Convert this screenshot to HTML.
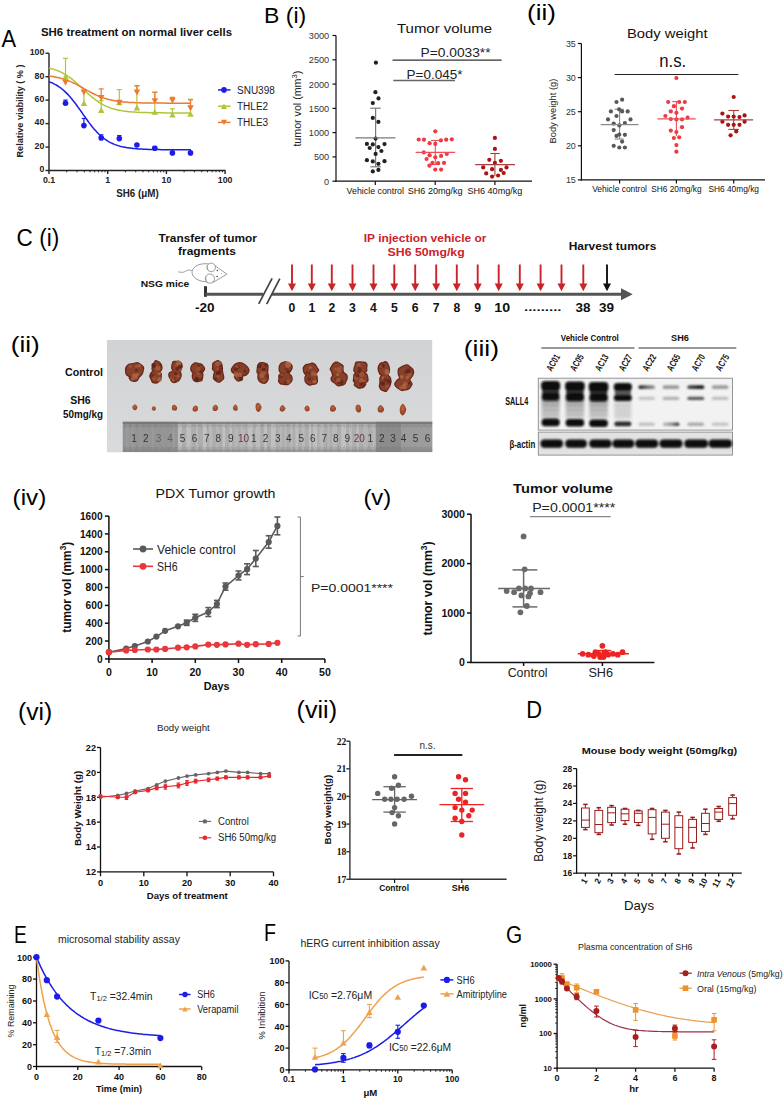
<!DOCTYPE html>
<html><head><meta charset="utf-8"><title>SH6 figure</title>
<style>html,body{margin:0;padding:0;background:#fff;}body{width:784px;height:1099px;overflow:hidden;font-family:"Liberation Sans",sans-serif;}svg{display:block;}</style>
</head><body>
<svg width="784" height="1099" viewBox="0 0 784 1099"><defs><linearGradient id="pbg" x1="0" y1="0" x2="0" y2="1"><stop offset="0" stop-color="#d2d3d5"/><stop offset="1" stop-color="#d9dadc"/></linearGradient><radialGradient id="tum" cx="0.5" cy="0.45" r="0.6"><stop offset="0" stop-color="#a85a38"/><stop offset="0.55" stop-color="#8e3e24"/><stop offset="0.85" stop-color="#70261a"/><stop offset="1" stop-color="#5e1f16"/></radialGradient><radialGradient id="tums" cx="0.45" cy="0.4" r="0.6"><stop offset="0" stop-color="#b8683e"/><stop offset="1" stop-color="#8e3a22"/></radialGradient><radialGradient id="hl" cx="0.5" cy="0.5" r="0.5"><stop offset="0" stop-color="#c8824f" stop-opacity="0.85"/><stop offset="1" stop-color="#c8824f" stop-opacity="0"/></radialGradient><filter id="soft" x="-20%" y="-20%" width="140%" height="140%"><feGaussianBlur stdDeviation="0.6"/></filter><filter id="rsoft" x="-5%" y="-5%" width="110%" height="110%"><feGaussianBlur stdDeviation="0.7"/></filter><filter id="bl" x="-30%" y="-80%" width="160%" height="260%"><feGaussianBlur stdDeviation="0.9"/></filter><filter id="bl2" x="-30%" y="-30%" width="160%" height="160%"><feGaussianBlur stdDeviation="1.6"/></filter><linearGradient id="bg1" x1="0" x2="1"><stop offset="0" stop-color="#1a1a1a"/><stop offset="0.5" stop-color="#6a6a6a"/><stop offset="1" stop-color="#9a9a9a"/></linearGradient><linearGradient id="bg2" x1="0" x2="1"><stop offset="0" stop-color="#c0c0c0"/><stop offset="0.6" stop-color="#8a8a8a"/><stop offset="1" stop-color="#1e1e1e"/></linearGradient><linearGradient id="bg3" x1="0" x2="1"><stop offset="0" stop-color="#555"/><stop offset="0.4" stop-color="#333"/><stop offset="1" stop-color="#111"/></linearGradient><linearGradient id="smear" x1="0" y1="0" x2="0" y2="1"><stop offset="0" stop-color="#8a8a8a"/><stop offset="0.3" stop-color="#bababa"/><stop offset="1" stop-color="#cfcfcf"/></linearGradient></defs><text x="1.4" y="46.9" font-size="23.7" fill="#000" font-family='"Liberation Sans", sans-serif' textLength="14.6" lengthAdjust="spacingAndGlyphs">A</text>
<text x="41.0" y="36.4" font-size="11.2" fill="#111" font-family='"Liberation Sans", sans-serif' font-weight="bold" textLength="191.0" lengthAdjust="spacingAndGlyphs">SH6 treatment on normal liver cells</text>
<line x1="49.0" y1="53.2" x2="49.0" y2="171.0" stroke="#222" stroke-width="1.4"/>
<line x1="48.3" y1="170.5" x2="225.5" y2="170.5" stroke="#222" stroke-width="1.4"/>
<line x1="45.5" y1="170.5" x2="49.0" y2="170.5" stroke="#222" stroke-width="1.4"/>
<text x="44.4" y="172.3" font-size="8.8" fill="#222" font-family='"Liberation Sans", sans-serif' font-weight="bold" text-anchor="end">0</text>
<line x1="45.5" y1="147.1" x2="49.0" y2="147.1" stroke="#222" stroke-width="1.4"/>
<text x="44.4" y="148.9" font-size="8.8" fill="#222" font-family='"Liberation Sans", sans-serif' font-weight="bold" text-anchor="end">20</text>
<line x1="45.5" y1="123.6" x2="49.0" y2="123.6" stroke="#222" stroke-width="1.4"/>
<text x="44.4" y="125.4" font-size="8.8" fill="#222" font-family='"Liberation Sans", sans-serif' font-weight="bold" text-anchor="end">40</text>
<line x1="45.5" y1="100.1" x2="49.0" y2="100.1" stroke="#222" stroke-width="1.4"/>
<text x="44.4" y="101.9" font-size="8.8" fill="#222" font-family='"Liberation Sans", sans-serif' font-weight="bold" text-anchor="end">60</text>
<line x1="45.5" y1="76.7" x2="49.0" y2="76.7" stroke="#222" stroke-width="1.4"/>
<text x="44.4" y="78.5" font-size="8.8" fill="#222" font-family='"Liberation Sans", sans-serif' font-weight="bold" text-anchor="end">80</text>
<line x1="45.5" y1="53.2" x2="49.0" y2="53.2" stroke="#222" stroke-width="1.4"/>
<text x="44.4" y="55.0" font-size="8.8" fill="#222" font-family='"Liberation Sans", sans-serif' font-weight="bold" text-anchor="end">100</text>
<line x1="49.0" y1="170.5" x2="49.0" y2="174.0" stroke="#222" stroke-width="1.4"/>
<text x="49.0" y="182.6" font-size="8.8" fill="#222" font-family='"Liberation Sans", sans-serif' font-weight="bold" text-anchor="middle">0.1</text>
<line x1="107.7" y1="170.5" x2="107.7" y2="174.0" stroke="#222" stroke-width="1.4"/>
<text x="107.7" y="182.6" font-size="8.8" fill="#222" font-family='"Liberation Sans", sans-serif' font-weight="bold" text-anchor="middle">1</text>
<line x1="166.4" y1="170.5" x2="166.4" y2="174.0" stroke="#222" stroke-width="1.4"/>
<text x="166.4" y="182.6" font-size="8.8" fill="#222" font-family='"Liberation Sans", sans-serif' font-weight="bold" text-anchor="middle">10</text>
<line x1="225.1" y1="170.5" x2="225.1" y2="174.0" stroke="#222" stroke-width="1.4"/>
<text x="225.1" y="182.6" font-size="8.8" fill="#222" font-family='"Liberation Sans", sans-serif' font-weight="bold" text-anchor="middle">100</text>
<line x1="66.7" y1="170.5" x2="66.7" y2="172.3" stroke="#222" stroke-width="1"/>
<line x1="77.0" y1="170.5" x2="77.0" y2="172.3" stroke="#222" stroke-width="1"/>
<line x1="84.3" y1="170.5" x2="84.3" y2="172.3" stroke="#222" stroke-width="1"/>
<line x1="90.0" y1="170.5" x2="90.0" y2="172.3" stroke="#222" stroke-width="1"/>
<line x1="94.7" y1="170.5" x2="94.7" y2="172.3" stroke="#222" stroke-width="1"/>
<line x1="98.6" y1="170.5" x2="98.6" y2="172.3" stroke="#222" stroke-width="1"/>
<line x1="102.0" y1="170.5" x2="102.0" y2="172.3" stroke="#222" stroke-width="1"/>
<line x1="105.0" y1="170.5" x2="105.0" y2="172.3" stroke="#222" stroke-width="1"/>
<line x1="125.4" y1="170.5" x2="125.4" y2="172.3" stroke="#222" stroke-width="1"/>
<line x1="135.7" y1="170.5" x2="135.7" y2="172.3" stroke="#222" stroke-width="1"/>
<line x1="143.0" y1="170.5" x2="143.0" y2="172.3" stroke="#222" stroke-width="1"/>
<line x1="148.7" y1="170.5" x2="148.7" y2="172.3" stroke="#222" stroke-width="1"/>
<line x1="153.4" y1="170.5" x2="153.4" y2="172.3" stroke="#222" stroke-width="1"/>
<line x1="157.3" y1="170.5" x2="157.3" y2="172.3" stroke="#222" stroke-width="1"/>
<line x1="160.7" y1="170.5" x2="160.7" y2="172.3" stroke="#222" stroke-width="1"/>
<line x1="163.7" y1="170.5" x2="163.7" y2="172.3" stroke="#222" stroke-width="1"/>
<line x1="184.1" y1="170.5" x2="184.1" y2="172.3" stroke="#222" stroke-width="1"/>
<line x1="194.4" y1="170.5" x2="194.4" y2="172.3" stroke="#222" stroke-width="1"/>
<line x1="201.7" y1="170.5" x2="201.7" y2="172.3" stroke="#222" stroke-width="1"/>
<line x1="207.4" y1="170.5" x2="207.4" y2="172.3" stroke="#222" stroke-width="1"/>
<line x1="212.1" y1="170.5" x2="212.1" y2="172.3" stroke="#222" stroke-width="1"/>
<line x1="216.0" y1="170.5" x2="216.0" y2="172.3" stroke="#222" stroke-width="1"/>
<line x1="219.4" y1="170.5" x2="219.4" y2="172.3" stroke="#222" stroke-width="1"/>
<line x1="222.4" y1="170.5" x2="222.4" y2="172.3" stroke="#222" stroke-width="1"/>
<text x="137.5" y="197.4" font-size="10.2" fill="#222" font-family='"Liberation Sans", sans-serif' font-weight="bold" text-anchor="middle" textLength="42.5" lengthAdjust="spacingAndGlyphs">SH6 (μM)</text>
<text x="23.4" y="111.0" font-size="9.8" fill="#222" font-family='"Liberation Sans", sans-serif' font-weight="bold" text-anchor="middle" textLength="93.0" lengthAdjust="spacingAndGlyphs" transform="rotate(-90 23.4 111.0)">Relative viability ( % )</text>
<path d="M49.0,68.1 L50.0,68.3 L51.0,68.6 L52.0,68.8 L53.0,69.1 L54.0,69.4 L55.0,69.8 L56.0,70.1 L57.0,70.5 L58.0,70.9 L59.0,71.3 L60.0,71.7 L61.0,72.2 L62.0,72.7 L63.0,73.2 L64.0,73.8 L65.0,74.3 L66.0,75.0 L67.0,75.6 L68.0,76.3 L69.0,76.9 L70.0,77.7 L71.0,78.4 L72.0,79.2 L73.0,80.0 L74.0,80.8 L75.0,81.6 L76.0,82.5 L77.0,83.4 L78.0,84.3 L79.0,85.2 L80.0,86.1 L81.0,87.0 L82.0,88.0 L83.0,88.9 L84.0,89.9 L85.0,90.8 L86.0,91.7 L87.0,92.7 L88.0,93.6 L89.0,94.5 L90.0,95.3 L91.0,96.2 L92.0,97.1 L93.0,97.9 L94.0,98.7 L95.0,99.4 L96.0,100.2 L97.0,100.9 L98.0,101.6 L99.0,102.3 L100.0,102.9 L101.0,103.5 L102.0,104.1 L103.0,104.6 L104.0,105.2 L105.0,105.7 L106.0,106.1 L107.0,106.6 L108.0,107.0 L109.0,107.4 L110.0,107.8 L111.0,108.1 L112.0,108.5 L113.0,108.8 L114.0,109.0 L115.0,109.3 L116.0,109.6 L117.0,109.8 L118.0,110.0 L119.0,110.2 L120.0,110.4 L121.0,110.6 L122.0,110.8 L123.0,110.9 L124.0,111.1 L125.0,111.2 L126.0,111.3 L127.0,111.5 L128.0,111.6 L129.0,111.7 L130.0,111.8 L131.0,111.8 L132.0,111.9 L133.0,112.0 L134.0,112.1 L135.0,112.1 L136.0,112.2 L137.0,112.2 L138.0,112.3 L139.0,112.3 L140.0,112.4 L141.0,112.4 L142.0,112.5 L143.0,112.5 L144.0,112.5 L145.0,112.6 L146.0,112.6 L147.0,112.6 L148.0,112.6 L149.0,112.7 L150.0,112.7 L151.0,112.7 L152.0,112.7 L153.0,112.7 L154.0,112.7 L155.0,112.8 L156.0,112.8 L157.0,112.8 L158.0,112.8 L159.0,112.8 L160.0,112.8 L161.0,112.8 L162.0,112.8 L163.0,112.8 L164.0,112.8 L165.0,112.9 L166.0,112.9 L167.0,112.9 L168.0,112.9 L169.0,112.9 L170.0,112.9 L171.0,112.9 L172.0,112.9 L173.0,112.9 L174.0,112.9 L175.0,112.9 L176.0,112.9 L177.0,112.9 L178.0,112.9 L179.0,112.9 L180.0,112.9 L181.0,112.9 L182.0,112.9 L183.0,112.9 L184.0,112.9 L185.0,112.9 L186.0,112.9 L187.0,112.9 L188.0,112.9 L189.0,112.9 L190.0,112.9 L191.0,112.9" stroke="#b2c53a" stroke-width="1.5" fill="none" stroke-linejoin="round"/>
<path d="M49.0,76.1 L50.0,76.2 L51.0,76.3 L52.0,76.5 L53.0,76.6 L54.0,76.8 L55.0,77.0 L56.0,77.2 L57.0,77.4 L58.0,77.6 L59.0,77.8 L60.0,78.1 L61.0,78.3 L62.0,78.6 L63.0,78.9 L64.0,79.2 L65.0,79.5 L66.0,79.9 L67.0,80.2 L68.0,80.6 L69.0,81.0 L70.0,81.4 L71.0,81.9 L72.0,82.3 L73.0,82.8 L74.0,83.2 L75.0,83.7 L76.0,84.2 L77.0,84.7 L78.0,85.3 L79.0,85.8 L80.0,86.3 L81.0,86.9 L82.0,87.5 L83.0,88.0 L84.0,88.6 L85.0,89.1 L86.0,89.7 L87.0,90.3 L88.0,90.8 L89.0,91.4 L90.0,91.9 L91.0,92.5 L92.0,93.0 L93.0,93.5 L94.0,94.0 L95.0,94.5 L96.0,94.9 L97.0,95.4 L98.0,95.8 L99.0,96.3 L100.0,96.7 L101.0,97.1 L102.0,97.4 L103.0,97.8 L104.0,98.1 L105.0,98.4 L106.0,98.7 L107.0,99.0 L108.0,99.3 L109.0,99.6 L110.0,99.8 L111.0,100.0 L112.0,100.2 L113.0,100.4 L114.0,100.6 L115.0,100.8 L116.0,101.0 L117.0,101.1 L118.0,101.3 L119.0,101.4 L120.0,101.5 L121.0,101.7 L122.0,101.8 L123.0,101.9 L124.0,102.0 L125.0,102.1 L126.0,102.1 L127.0,102.2 L128.0,102.3 L129.0,102.4 L130.0,102.4 L131.0,102.5 L132.0,102.5 L133.0,102.6 L134.0,102.6 L135.0,102.7 L136.0,102.7 L137.0,102.7 L138.0,102.8 L139.0,102.8 L140.0,102.8 L141.0,102.9 L142.0,102.9 L143.0,102.9 L144.0,102.9 L145.0,103.0 L146.0,103.0 L147.0,103.0 L148.0,103.0 L149.0,103.0 L150.0,103.0 L151.0,103.0 L152.0,103.1 L153.0,103.1 L154.0,103.1 L155.0,103.1 L156.0,103.1 L157.0,103.1 L158.0,103.1 L159.0,103.1 L160.0,103.1 L161.0,103.1 L162.0,103.1 L163.0,103.1 L164.0,103.1 L165.0,103.1 L166.0,103.2 L167.0,103.2 L168.0,103.2 L169.0,103.2 L170.0,103.2 L171.0,103.2 L172.0,103.2 L173.0,103.2 L174.0,103.2 L175.0,103.2 L176.0,103.2 L177.0,103.2 L178.0,103.2 L179.0,103.2 L180.0,103.2 L181.0,103.2 L182.0,103.2 L183.0,103.2 L184.0,103.2 L185.0,103.2 L186.0,103.2 L187.0,103.2 L188.0,103.2 L189.0,103.2 L190.0,103.2 L191.0,103.2" stroke="#ec7a30" stroke-width="1.5" fill="none" stroke-linejoin="round"/>
<path d="M49.0,81.7 L50.0,82.1 L51.0,82.5 L52.0,82.9 L53.0,83.3 L54.0,83.8 L55.0,84.4 L56.0,84.9 L57.0,85.5 L58.0,86.1 L59.0,86.8 L60.0,87.5 L61.0,88.2 L62.0,89.0 L63.0,89.8 L64.0,90.7 L65.0,91.6 L66.0,92.6 L67.0,93.6 L68.0,94.6 L69.0,95.7 L70.0,96.8 L71.0,98.0 L72.0,99.2 L73.0,100.4 L74.0,101.7 L75.0,103.0 L76.0,104.3 L77.0,105.7 L78.0,107.1 L79.0,108.5 L80.0,109.9 L81.0,111.3 L82.0,112.7 L83.0,114.2 L84.0,115.6 L85.0,117.0 L86.0,118.4 L87.0,119.8 L88.0,121.2 L89.0,122.6 L90.0,123.9 L91.0,125.2 L92.0,126.5 L93.0,127.7 L94.0,128.9 L95.0,130.0 L96.0,131.1 L97.0,132.2 L98.0,133.2 L99.0,134.2 L100.0,135.2 L101.0,136.1 L102.0,136.9 L103.0,137.7 L104.0,138.5 L105.0,139.2 L106.0,139.9 L107.0,140.6 L108.0,141.2 L109.0,141.8 L110.0,142.3 L111.0,142.8 L112.0,143.3 L113.0,143.7 L114.0,144.2 L115.0,144.6 L116.0,144.9 L117.0,145.3 L118.0,145.6 L119.0,145.9 L120.0,146.2 L121.0,146.4 L122.0,146.7 L123.0,146.9 L124.0,147.1 L125.0,147.3 L126.0,147.5 L127.0,147.7 L128.0,147.8 L129.0,148.0 L130.0,148.1 L131.0,148.2 L132.0,148.3 L133.0,148.5 L134.0,148.6 L135.0,148.6 L136.0,148.7 L137.0,148.8 L138.0,148.9 L139.0,149.0 L140.0,149.0 L141.0,149.1 L142.0,149.1 L143.0,149.2 L144.0,149.2 L145.0,149.3 L146.0,149.3 L147.0,149.3 L148.0,149.4 L149.0,149.4 L150.0,149.4 L151.0,149.5 L152.0,149.5 L153.0,149.5 L154.0,149.5 L155.0,149.6 L156.0,149.6 L157.0,149.6 L158.0,149.6 L159.0,149.6 L160.0,149.6 L161.0,149.7 L162.0,149.7 L163.0,149.7 L164.0,149.7 L165.0,149.7 L166.0,149.7 L167.0,149.7 L168.0,149.7 L169.0,149.7 L170.0,149.7 L171.0,149.7 L172.0,149.7 L173.0,149.7 L174.0,149.8 L175.0,149.8 L176.0,149.8 L177.0,149.8 L178.0,149.8 L179.0,149.8 L180.0,149.8 L181.0,149.8 L182.0,149.8 L183.0,149.8 L184.0,149.8 L185.0,149.8 L186.0,149.8 L187.0,149.8 L188.0,149.8 L189.0,149.8 L190.0,149.8 L191.0,149.8" stroke="#1c1ce8" stroke-width="1.5" fill="none" stroke-linejoin="round"/>
<line x1="65.5" y1="58.3" x2="65.5" y2="76.6" stroke="#b2c53a" stroke-width="1.2"/>
<line x1="63.0" y1="58.3" x2="68.0" y2="58.3" stroke="#b2c53a" stroke-width="1.2"/>
<path d="M62.2,79.6 L68.8,79.6 L65.5,73.7 Z" stroke="none" stroke-width="1" fill="#b2c53a"/>
<line x1="83.9" y1="90.9" x2="83.9" y2="103.2" stroke="#b2c53a" stroke-width="1.2"/>
<line x1="81.4" y1="90.9" x2="86.4" y2="90.9" stroke="#b2c53a" stroke-width="1.2"/>
<path d="M80.7,106.1 L87.2,106.1 L83.9,100.2 Z" stroke="none" stroke-width="1" fill="#b2c53a"/>
<line x1="101.2" y1="100.6" x2="101.2" y2="110.1" stroke="#b2c53a" stroke-width="1.2"/>
<line x1="98.7" y1="100.6" x2="103.7" y2="100.6" stroke="#b2c53a" stroke-width="1.2"/>
<path d="M98.0,113.0 L104.5,113.0 L101.2,107.1 Z" stroke="none" stroke-width="1" fill="#b2c53a"/>
<line x1="119.3" y1="89.6" x2="119.3" y2="102.4" stroke="#b2c53a" stroke-width="1.2"/>
<line x1="116.8" y1="89.6" x2="121.8" y2="89.6" stroke="#b2c53a" stroke-width="1.2"/>
<path d="M116.0,105.3 L122.5,105.3 L119.3,99.5 Z" stroke="none" stroke-width="1" fill="#b2c53a"/>
<line x1="136.9" y1="85.8" x2="136.9" y2="107.5" stroke="#b2c53a" stroke-width="1.2"/>
<line x1="134.4" y1="85.8" x2="139.4" y2="85.8" stroke="#b2c53a" stroke-width="1.2"/>
<path d="M133.7,110.4 L140.2,110.4 L136.9,104.6 Z" stroke="none" stroke-width="1" fill="#b2c53a"/>
<line x1="154.8" y1="92.2" x2="154.8" y2="111.8" stroke="#b2c53a" stroke-width="1.2"/>
<line x1="152.3" y1="92.2" x2="157.3" y2="92.2" stroke="#b2c53a" stroke-width="1.2"/>
<path d="M151.6,114.8 L158.1,114.8 L154.8,108.9 Z" stroke="none" stroke-width="1" fill="#b2c53a"/>
<line x1="172.4" y1="108.8" x2="172.4" y2="114.6" stroke="#b2c53a" stroke-width="1.2"/>
<line x1="169.9" y1="108.8" x2="174.9" y2="108.8" stroke="#b2c53a" stroke-width="1.2"/>
<path d="M169.2,117.6 L175.7,117.6 L172.4,111.7 Z" stroke="none" stroke-width="1" fill="#b2c53a"/>
<line x1="190.5" y1="99.3" x2="190.5" y2="113.9" stroke="#b2c53a" stroke-width="1.2"/>
<line x1="188.0" y1="99.3" x2="193.0" y2="99.3" stroke="#b2c53a" stroke-width="1.2"/>
<path d="M187.2,116.8 L193.8,116.8 L190.5,111.0 Z" stroke="none" stroke-width="1" fill="#b2c53a"/>
<path d="M62.2,79.8 L68.8,79.8 L65.5,85.7 Z" stroke="none" stroke-width="1" fill="#ec7a30"/>
<path d="M80.7,89.5 L87.2,89.5 L83.9,95.4 Z" stroke="none" stroke-width="1" fill="#ec7a30"/>
<line x1="101.2" y1="88.9" x2="101.2" y2="98.1" stroke="#ec7a30" stroke-width="1.2"/>
<line x1="98.7" y1="88.9" x2="103.7" y2="88.9" stroke="#ec7a30" stroke-width="1.2"/>
<path d="M98.0,95.1 L104.5,95.1 L101.2,101.0 Z" stroke="none" stroke-width="1" fill="#ec7a30"/>
<path d="M116.0,99.7 L122.5,99.7 L119.3,105.6 Z" stroke="none" stroke-width="1" fill="#ec7a30"/>
<line x1="136.9" y1="85.8" x2="136.9" y2="92.4" stroke="#ec7a30" stroke-width="1.2"/>
<line x1="134.4" y1="85.8" x2="139.4" y2="85.8" stroke="#ec7a30" stroke-width="1.2"/>
<path d="M133.7,89.5 L140.2,89.5 L136.9,95.4 Z" stroke="none" stroke-width="1" fill="#ec7a30"/>
<line x1="154.8" y1="92.2" x2="154.8" y2="101.1" stroke="#ec7a30" stroke-width="1.2"/>
<line x1="152.3" y1="92.2" x2="157.3" y2="92.2" stroke="#ec7a30" stroke-width="1.2"/>
<path d="M151.6,98.2 L158.1,98.2 L154.8,104.0 Z" stroke="none" stroke-width="1" fill="#ec7a30"/>
<line x1="172.4" y1="97.3" x2="172.4" y2="100.6" stroke="#ec7a30" stroke-width="1.2"/>
<line x1="169.9" y1="97.3" x2="174.9" y2="97.3" stroke="#ec7a30" stroke-width="1.2"/>
<path d="M169.2,97.7 L175.7,97.7 L172.4,103.5 Z" stroke="none" stroke-width="1" fill="#ec7a30"/>
<line x1="190.5" y1="99.8" x2="190.5" y2="108.3" stroke="#ec7a30" stroke-width="1.2"/>
<line x1="188.0" y1="99.8" x2="193.0" y2="99.8" stroke="#ec7a30" stroke-width="1.2"/>
<path d="M187.2,105.3 L193.8,105.3 L190.5,111.2 Z" stroke="none" stroke-width="1" fill="#ec7a30"/>
<line x1="65.5" y1="100.1" x2="65.5" y2="103.2" stroke="#1c1ce8" stroke-width="1.2"/>
<line x1="63.3" y1="100.1" x2="67.7" y2="100.1" stroke="#1c1ce8" stroke-width="1.2"/>
<circle cx="65.5" cy="103.2" r="2.8" fill="#1c1ce8"/>
<line x1="83.9" y1="118.5" x2="83.9" y2="125.6" stroke="#1c1ce8" stroke-width="1.2"/>
<line x1="81.7" y1="118.5" x2="86.1" y2="118.5" stroke="#1c1ce8" stroke-width="1.2"/>
<circle cx="83.9" cy="125.6" r="2.8" fill="#1c1ce8"/>
<line x1="101.2" y1="134.8" x2="101.2" y2="137.9" stroke="#1c1ce8" stroke-width="1.2"/>
<line x1="99.0" y1="134.8" x2="103.4" y2="134.8" stroke="#1c1ce8" stroke-width="1.2"/>
<circle cx="101.2" cy="137.9" r="2.8" fill="#1c1ce8"/>
<line x1="119.3" y1="135.6" x2="119.3" y2="138.6" stroke="#1c1ce8" stroke-width="1.2"/>
<line x1="117.1" y1="135.6" x2="121.5" y2="135.6" stroke="#1c1ce8" stroke-width="1.2"/>
<circle cx="119.3" cy="138.6" r="2.8" fill="#1c1ce8"/>
<circle cx="136.9" cy="145.0" r="2.8" fill="#1c1ce8"/>
<line x1="154.8" y1="146.5" x2="154.8" y2="148.3" stroke="#1c1ce8" stroke-width="1.2"/>
<line x1="152.6" y1="146.5" x2="157.0" y2="146.5" stroke="#1c1ce8" stroke-width="1.2"/>
<circle cx="154.8" cy="148.3" r="2.8" fill="#1c1ce8"/>
<circle cx="172.4" cy="152.9" r="2.8" fill="#1c1ce8"/>
<circle cx="190.5" cy="152.9" r="2.8" fill="#1c1ce8"/>
<line x1="218.0" y1="89.9" x2="230.5" y2="89.9" stroke="#1c1ce8" stroke-width="1.5"/>
<circle cx="224.0" cy="89.9" r="2.8" fill="#1c1ce8"/>
<text x="237.0" y="93.5" font-size="10" fill="#222" font-family='"Liberation Sans", sans-serif'>SNU398</text>
<line x1="218.0" y1="106.2" x2="230.5" y2="106.2" stroke="#b2c53a" stroke-width="1.5"/>
<path d="M221.0,108.9 L227.0,108.9 L224.0,103.5 Z" stroke="none" stroke-width="1" fill="#b2c53a"/>
<text x="237.0" y="109.8" font-size="10" fill="#222" font-family='"Liberation Sans", sans-serif'>THLE2</text>
<line x1="218.0" y1="122.4" x2="230.5" y2="122.4" stroke="#ec7a30" stroke-width="1.5"/>
<path d="M221.0,119.7 L227.0,119.7 L224.0,125.1 Z" stroke="none" stroke-width="1" fill="#ec7a30"/>
<text x="237.0" y="126.0" font-size="10" fill="#222" font-family='"Liberation Sans", sans-serif'>THLE3</text>
<text x="264.0" y="22.7" font-size="21.7" fill="#000" font-family='"Liberation Sans", sans-serif' textLength="42.2" lengthAdjust="spacingAndGlyphs">B (i)</text>
<text x="397.0" y="33.4" font-size="13.5" fill="#111" font-family='"Liberation Sans", sans-serif' textLength="95.0" lengthAdjust="spacingAndGlyphs">Tumor volume</text>
<line x1="336.0" y1="35.6" x2="336.0" y2="181.8" stroke="#111" stroke-width="1.2"/>
<line x1="335.4" y1="181.2" x2="532.0" y2="181.2" stroke="#111" stroke-width="1.2"/>
<line x1="332.5" y1="181.2" x2="336.0" y2="181.2" stroke="#111" stroke-width="1.2"/>
<text x="329.2" y="184.6" font-size="9" fill="#333" font-family='"Liberation Sans", sans-serif' text-anchor="end" textLength="5.1" lengthAdjust="spacingAndGlyphs">0</text>
<line x1="332.5" y1="156.9" x2="336.0" y2="156.9" stroke="#111" stroke-width="1.2"/>
<text x="329.2" y="160.3" font-size="9" fill="#333" font-family='"Liberation Sans", sans-serif' text-anchor="end" textLength="15.3" lengthAdjust="spacingAndGlyphs">500</text>
<line x1="332.5" y1="132.6" x2="336.0" y2="132.6" stroke="#111" stroke-width="1.2"/>
<text x="329.2" y="136.0" font-size="9" fill="#333" font-family='"Liberation Sans", sans-serif' text-anchor="end" textLength="20.4" lengthAdjust="spacingAndGlyphs">1000</text>
<line x1="332.5" y1="108.4" x2="336.0" y2="108.4" stroke="#111" stroke-width="1.2"/>
<text x="329.2" y="111.8" font-size="9" fill="#333" font-family='"Liberation Sans", sans-serif' text-anchor="end" textLength="20.4" lengthAdjust="spacingAndGlyphs">1500</text>
<line x1="332.5" y1="84.1" x2="336.0" y2="84.1" stroke="#111" stroke-width="1.2"/>
<text x="329.2" y="87.5" font-size="9" fill="#333" font-family='"Liberation Sans", sans-serif' text-anchor="end" textLength="20.4" lengthAdjust="spacingAndGlyphs">2000</text>
<line x1="332.5" y1="59.8" x2="336.0" y2="59.8" stroke="#111" stroke-width="1.2"/>
<text x="329.2" y="63.2" font-size="9" fill="#333" font-family='"Liberation Sans", sans-serif' text-anchor="end" textLength="20.4" lengthAdjust="spacingAndGlyphs">2500</text>
<line x1="332.5" y1="35.5" x2="336.0" y2="35.5" stroke="#111" stroke-width="1.2"/>
<text x="329.2" y="38.9" font-size="9" fill="#333" font-family='"Liberation Sans", sans-serif' text-anchor="end" textLength="20.4" lengthAdjust="spacingAndGlyphs">3000</text>
<line x1="375.3" y1="181.2" x2="375.3" y2="185.0" stroke="#111" stroke-width="1.2"/>
<text x="375.3" y="193.6" font-size="8.8" fill="#111" font-family='"Liberation Sans", sans-serif' text-anchor="middle" textLength="57.4" lengthAdjust="spacingAndGlyphs">Vehicle control</text>
<line x1="435.2" y1="181.2" x2="435.2" y2="185.0" stroke="#111" stroke-width="1.2"/>
<text x="435.2" y="193.6" font-size="8.8" fill="#111" font-family='"Liberation Sans", sans-serif' text-anchor="middle" textLength="54.9" lengthAdjust="spacingAndGlyphs">SH6 20mg/kg</text>
<line x1="494.9" y1="181.2" x2="494.9" y2="185.0" stroke="#111" stroke-width="1.2"/>
<text x="494.9" y="193.6" font-size="8.8" fill="#111" font-family='"Liberation Sans", sans-serif' text-anchor="middle" textLength="54.9" lengthAdjust="spacingAndGlyphs">SH6 40mg/kg</text>
<text x="301.4" y="108.7" font-size="10.5" fill="#222" font-family='"Liberation Sans", sans-serif' text-anchor="middle" textLength="75.8" lengthAdjust="spacingAndGlyphs" transform="rotate(-90 301.4 108.7)">tumor vol (mm<tspan dy="-4.2" font-size="7.5">3</tspan><tspan dy="4.2">)</tspan></text>
<line x1="392.5" y1="60.1" x2="501.7" y2="60.1" stroke="#333" stroke-width="1.2"/>
<text x="420.6" y="56.8" font-size="12.5" fill="#222" font-family='"Liberation Sans", sans-serif' textLength="70.0" lengthAdjust="spacingAndGlyphs">P=0.0033**</text>
<line x1="393.3" y1="80.5" x2="455.0" y2="80.5" stroke="#666" stroke-width="1.6"/>
<text x="406.5" y="78.5" font-size="12.5" fill="#222" font-family='"Liberation Sans", sans-serif' textLength="56.0" lengthAdjust="spacingAndGlyphs">P=0.045*</text>
<line x1="375.6" y1="108.2" x2="375.6" y2="166.8" stroke="#7a7a7a" stroke-width="1.2"/>
<line x1="370.2" y1="108.2" x2="380.7" y2="108.2" stroke="#7a7a7a" stroke-width="1.2"/>
<line x1="370.2" y1="166.8" x2="380.7" y2="166.8" stroke="#7a7a7a" stroke-width="1.2"/>
<circle cx="375.9" cy="62.7" r="2.1" fill="#222"/>
<circle cx="375.4" cy="92.2" r="2.1" fill="#222"/>
<circle cx="378.5" cy="98.4" r="2.1" fill="#222"/>
<circle cx="372.8" cy="103.1" r="2.1" fill="#222"/>
<circle cx="372.8" cy="117.9" r="2.1" fill="#222"/>
<circle cx="378.4" cy="121.9" r="2.1" fill="#222"/>
<circle cx="375.6" cy="138.6" r="2.1" fill="#222"/>
<circle cx="366.9" cy="143.9" r="2.1" fill="#222"/>
<circle cx="372.8" cy="144.4" r="2.1" fill="#222"/>
<circle cx="384.5" cy="144.1" r="2.1" fill="#222"/>
<circle cx="369.7" cy="148.0" r="2.1" fill="#222"/>
<circle cx="378.4" cy="147.1" r="2.1" fill="#222"/>
<circle cx="381.4" cy="151.0" r="2.1" fill="#222"/>
<circle cx="375.6" cy="153.9" r="2.1" fill="#222"/>
<circle cx="366.9" cy="160.2" r="2.1" fill="#222"/>
<circle cx="372.8" cy="161.4" r="2.1" fill="#222"/>
<circle cx="384.5" cy="161.2" r="2.1" fill="#222"/>
<circle cx="378.4" cy="163.8" r="2.1" fill="#222"/>
<circle cx="372.8" cy="171.4" r="2.1" fill="#222"/>
<circle cx="378.4" cy="169.9" r="2.1" fill="#222"/>
<line x1="355.4" y1="137.8" x2="395.4" y2="137.8" stroke="#7a7a7a" stroke-width="1.3"/>
<line x1="435.3" y1="140.4" x2="435.3" y2="164.5" stroke="#ee5058" stroke-width="1.1"/>
<line x1="431.0" y1="140.4" x2="439.5" y2="140.4" stroke="#ee5058" stroke-width="1.1"/>
<line x1="431.0" y1="164.5" x2="439.5" y2="164.5" stroke="#ee5058" stroke-width="1.1"/>
<circle cx="435.3" cy="131.3" r="2.1" fill="#ee3a44"/>
<circle cx="418.7" cy="139.5" r="2.1" fill="#ee3a44"/>
<circle cx="424.0" cy="139.7" r="2.1" fill="#ee3a44"/>
<circle cx="440.9" cy="140.4" r="2.1" fill="#ee3a44"/>
<circle cx="446.2" cy="139.7" r="2.1" fill="#ee3a44"/>
<circle cx="451.8" cy="139.3" r="2.1" fill="#ee3a44"/>
<circle cx="429.6" cy="143.2" r="2.1" fill="#ee3a44"/>
<circle cx="435.3" cy="143.9" r="2.1" fill="#ee3a44"/>
<circle cx="423.8" cy="152.4" r="2.1" fill="#ee3a44"/>
<circle cx="429.6" cy="155.2" r="2.1" fill="#ee3a44"/>
<circle cx="441.1" cy="155.9" r="2.1" fill="#ee3a44"/>
<circle cx="446.8" cy="154.0" r="2.1" fill="#ee3a44"/>
<circle cx="435.3" cy="157.3" r="2.1" fill="#ee3a44"/>
<circle cx="426.6" cy="159.0" r="2.1" fill="#ee3a44"/>
<circle cx="432.4" cy="162.9" r="2.1" fill="#ee3a44"/>
<circle cx="438.1" cy="163.2" r="2.1" fill="#ee3a44"/>
<circle cx="444.0" cy="162.9" r="2.1" fill="#ee3a44"/>
<circle cx="429.4" cy="165.7" r="2.1" fill="#ee3a44"/>
<circle cx="435.3" cy="169.6" r="2.1" fill="#ee3a44"/>
<circle cx="441.1" cy="169.6" r="2.1" fill="#ee3a44"/>
<line x1="415.6" y1="152.4" x2="455.2" y2="152.4" stroke="#ee5058" stroke-width="1.2"/>
<line x1="494.9" y1="153.5" x2="494.9" y2="176.0" stroke="#a84040" stroke-width="1.1"/>
<line x1="490.3" y1="153.5" x2="499.8" y2="153.5" stroke="#a84040" stroke-width="1.1"/>
<circle cx="494.9" cy="137.9" r="2.1" fill="#ad1212"/>
<circle cx="494.9" cy="148.9" r="2.1" fill="#ad1212"/>
<circle cx="489.3" cy="159.8" r="2.1" fill="#ad1212"/>
<circle cx="500.9" cy="160.8" r="2.1" fill="#ad1212"/>
<circle cx="494.9" cy="162.9" r="2.1" fill="#ad1212"/>
<circle cx="483.2" cy="167.4" r="2.1" fill="#ad1212"/>
<circle cx="506.5" cy="167.4" r="2.1" fill="#ad1212"/>
<circle cx="492.1" cy="169.2" r="2.1" fill="#ad1212"/>
<circle cx="500.9" cy="169.9" r="2.1" fill="#ad1212"/>
<circle cx="486.2" cy="173.4" r="2.1" fill="#ad1212"/>
<circle cx="503.7" cy="173.0" r="2.1" fill="#ad1212"/>
<circle cx="492.1" cy="176.6" r="2.1" fill="#ad1212"/>
<circle cx="498.1" cy="175.5" r="2.1" fill="#ad1212"/>
<line x1="475.2" y1="164.7" x2="515.0" y2="164.7" stroke="#a84040" stroke-width="1.2"/>
<text x="527.1" y="19.5" font-size="22.2" fill="#000" font-family='"Liberation Sans", sans-serif' textLength="28.8" lengthAdjust="spacingAndGlyphs">(ii)</text>
<text x="627.0" y="38.0" font-size="13.5" fill="#111" font-family='"Liberation Sans", sans-serif' textLength="80.5" lengthAdjust="spacingAndGlyphs">Body weight</text>
<line x1="581.4" y1="43.4" x2="581.4" y2="180.5" stroke="#111" stroke-width="1.2"/>
<line x1="580.8" y1="179.9" x2="765.0" y2="179.9" stroke="#111" stroke-width="1.2"/>
<line x1="577.9" y1="179.9" x2="581.4" y2="179.9" stroke="#111" stroke-width="1.2"/>
<text x="575.8" y="183.1" font-size="9" fill="#333" font-family='"Liberation Sans", sans-serif' text-anchor="end" textLength="9.9" lengthAdjust="spacingAndGlyphs">15</text>
<line x1="577.9" y1="145.8" x2="581.4" y2="145.8" stroke="#111" stroke-width="1.2"/>
<text x="575.8" y="149.0" font-size="9" fill="#333" font-family='"Liberation Sans", sans-serif' text-anchor="end" textLength="9.9" lengthAdjust="spacingAndGlyphs">20</text>
<line x1="577.9" y1="111.7" x2="581.4" y2="111.7" stroke="#111" stroke-width="1.2"/>
<text x="575.8" y="114.9" font-size="9" fill="#333" font-family='"Liberation Sans", sans-serif' text-anchor="end" textLength="9.9" lengthAdjust="spacingAndGlyphs">25</text>
<line x1="577.9" y1="77.6" x2="581.4" y2="77.6" stroke="#111" stroke-width="1.2"/>
<text x="575.8" y="80.8" font-size="9" fill="#333" font-family='"Liberation Sans", sans-serif' text-anchor="end" textLength="9.9" lengthAdjust="spacingAndGlyphs">30</text>
<line x1="577.9" y1="43.5" x2="581.4" y2="43.5" stroke="#111" stroke-width="1.2"/>
<text x="575.8" y="46.7" font-size="9" fill="#333" font-family='"Liberation Sans", sans-serif' text-anchor="end" textLength="9.9" lengthAdjust="spacingAndGlyphs">35</text>
<line x1="619.6" y1="179.9" x2="619.6" y2="183.5" stroke="#111" stroke-width="1.2"/>
<text x="619.6" y="192.0" font-size="8.5" fill="#111" font-family='"Liberation Sans", sans-serif' text-anchor="middle" textLength="54.8" lengthAdjust="spacingAndGlyphs">Vehicle control</text>
<line x1="676.4" y1="179.9" x2="676.4" y2="183.5" stroke="#111" stroke-width="1.2"/>
<text x="676.4" y="192.0" font-size="8.5" fill="#111" font-family='"Liberation Sans", sans-serif' text-anchor="middle" textLength="50.3" lengthAdjust="spacingAndGlyphs">SH6 20mg/kg</text>
<line x1="733.7" y1="179.9" x2="733.7" y2="183.5" stroke="#111" stroke-width="1.2"/>
<text x="733.7" y="192.0" font-size="8.5" fill="#111" font-family='"Liberation Sans", sans-serif' text-anchor="middle" textLength="50.5" lengthAdjust="spacingAndGlyphs">SH6 40mg/kg</text>
<text x="555.6" y="111.1" font-size="9.5" fill="#222" font-family='"Liberation Sans", sans-serif' text-anchor="middle" textLength="64.8" lengthAdjust="spacingAndGlyphs" transform="rotate(-90 555.6 111.1)">Body weight (g)</text>
<line x1="614.6" y1="74.5" x2="738.3" y2="74.5" stroke="#222" stroke-width="1.2"/>
<text x="659.2" y="66.9" font-size="18" fill="#111" font-family='"Liberation Sans", sans-serif' textLength="27.0" lengthAdjust="spacingAndGlyphs">n.s.</text>
<line x1="619.6" y1="109.3" x2="619.6" y2="139.0" stroke="#8a8a8a" stroke-width="1.1"/>
<line x1="614.6" y1="109.3" x2="623.8" y2="109.3" stroke="#8a8a8a" stroke-width="1.1"/>
<line x1="614.6" y1="139.0" x2="623.8" y2="139.0" stroke="#8a8a8a" stroke-width="1.1"/>
<circle cx="622.1" cy="99.7" r="2.1" fill="#585858"/>
<circle cx="616.5" cy="102.0" r="2.1" fill="#585858"/>
<circle cx="619.1" cy="109.3" r="2.1" fill="#585858"/>
<circle cx="610.9" cy="111.4" r="2.1" fill="#585858"/>
<circle cx="622.1" cy="111.4" r="2.1" fill="#585858"/>
<circle cx="627.7" cy="111.4" r="2.1" fill="#585858"/>
<circle cx="616.5" cy="116.0" r="2.1" fill="#585858"/>
<circle cx="608.0" cy="119.4" r="2.1" fill="#585858"/>
<circle cx="630.5" cy="119.4" r="2.1" fill="#585858"/>
<circle cx="613.7" cy="123.6" r="2.1" fill="#585858"/>
<circle cx="624.9" cy="123.0" r="2.1" fill="#585858"/>
<circle cx="619.3" cy="125.4" r="2.1" fill="#585858"/>
<circle cx="613.7" cy="130.1" r="2.1" fill="#585858"/>
<circle cx="616.5" cy="135.9" r="2.1" fill="#585858"/>
<circle cx="619.3" cy="134.5" r="2.1" fill="#585858"/>
<circle cx="624.9" cy="134.8" r="2.1" fill="#585858"/>
<circle cx="622.1" cy="141.6" r="2.1" fill="#585858"/>
<circle cx="613.7" cy="145.8" r="2.1" fill="#585858"/>
<circle cx="619.3" cy="147.5" r="2.1" fill="#585858"/>
<circle cx="624.9" cy="147.5" r="2.1" fill="#585858"/>
<line x1="600.6" y1="124.7" x2="638.5" y2="124.7" stroke="#8a8a8a" stroke-width="1.3"/>
<line x1="676.4" y1="101.6" x2="676.4" y2="136.0" stroke="#ee5058" stroke-width="1.1"/>
<line x1="672.2" y1="101.6" x2="680.6" y2="101.6" stroke="#ee5058" stroke-width="1.1"/>
<circle cx="676.4" cy="78.0" r="2.1" fill="#ee3a44"/>
<circle cx="668.2" cy="102.0" r="2.1" fill="#ee3a44"/>
<circle cx="679.2" cy="102.0" r="2.1" fill="#ee3a44"/>
<circle cx="684.8" cy="102.0" r="2.1" fill="#ee3a44"/>
<circle cx="673.9" cy="106.2" r="2.1" fill="#ee3a44"/>
<circle cx="682.0" cy="108.6" r="2.1" fill="#ee3a44"/>
<circle cx="670.8" cy="111.4" r="2.1" fill="#ee3a44"/>
<circle cx="676.4" cy="112.8" r="2.1" fill="#ee3a44"/>
<circle cx="665.4" cy="116.0" r="2.1" fill="#ee3a44"/>
<circle cx="670.8" cy="119.1" r="2.1" fill="#ee3a44"/>
<circle cx="676.4" cy="119.4" r="2.1" fill="#ee3a44"/>
<circle cx="682.0" cy="119.4" r="2.1" fill="#ee3a44"/>
<circle cx="687.6" cy="117.7" r="2.1" fill="#ee3a44"/>
<circle cx="682.0" cy="127.2" r="2.1" fill="#ee3a44"/>
<circle cx="670.8" cy="130.6" r="2.1" fill="#ee3a44"/>
<circle cx="676.4" cy="132.0" r="2.1" fill="#ee3a44"/>
<circle cx="673.9" cy="138.0" r="2.1" fill="#ee3a44"/>
<circle cx="679.2" cy="137.3" r="2.1" fill="#ee3a44"/>
<circle cx="676.4" cy="145.1" r="2.1" fill="#ee3a44"/>
<circle cx="676.4" cy="151.7" r="2.1" fill="#ee3a44"/>
<line x1="657.4" y1="118.8" x2="695.7" y2="118.8" stroke="#ee5058" stroke-width="1.3"/>
<line x1="733.7" y1="110.5" x2="733.7" y2="129.4" stroke="#a84040" stroke-width="1.1"/>
<line x1="728.3" y1="110.5" x2="739.0" y2="110.5" stroke="#a84040" stroke-width="1.1"/>
<line x1="728.3" y1="129.4" x2="739.0" y2="129.4" stroke="#a84040" stroke-width="1.1"/>
<circle cx="733.7" cy="97.0" r="2.1" fill="#ad1212"/>
<circle cx="722.4" cy="113.6" r="2.1" fill="#ad1212"/>
<circle cx="728.1" cy="116.6" r="2.1" fill="#ad1212"/>
<circle cx="733.7" cy="116.6" r="2.1" fill="#ad1212"/>
<circle cx="739.5" cy="117.1" r="2.1" fill="#ad1212"/>
<circle cx="744.6" cy="115.4" r="2.1" fill="#ad1212"/>
<circle cx="722.4" cy="121.7" r="2.1" fill="#ad1212"/>
<circle cx="728.1" cy="124.8" r="2.1" fill="#ad1212"/>
<circle cx="733.7" cy="124.8" r="2.1" fill="#ad1212"/>
<circle cx="739.5" cy="124.8" r="2.1" fill="#ad1212"/>
<circle cx="744.6" cy="121.7" r="2.1" fill="#ad1212"/>
<circle cx="736.2" cy="131.4" r="2.1" fill="#ad1212"/>
<circle cx="730.6" cy="135.3" r="2.1" fill="#ad1212"/>
<line x1="714.0" y1="119.9" x2="753.1" y2="119.9" stroke="#a84040" stroke-width="1.3"/>
<text x="16.6" y="246.4" font-size="23.3" fill="#000" font-family='"Liberation Sans", sans-serif' textLength="42.6" lengthAdjust="spacingAndGlyphs">C (i)</text>
<text x="158.6" y="241.6" font-size="11.2" fill="#111" font-family='"Liberation Sans", sans-serif' font-weight="bold" textLength="98.2" lengthAdjust="spacingAndGlyphs">Transfer of tumor</text>
<text x="178.0" y="255.1" font-size="11.2" fill="#111" font-family='"Liberation Sans", sans-serif' font-weight="bold" textLength="57.9" lengthAdjust="spacingAndGlyphs">fragments</text>
<text x="140.7" y="287.0" font-size="9.8" fill="#111" font-family='"Liberation Sans", sans-serif' font-weight="bold" textLength="48.5" lengthAdjust="spacingAndGlyphs">NSG mice</text>
<path d="M192.3,270.8 C189,269.5 187.5,270 185.5,271.3 C183,272.8 181,272.4 178,271.8" stroke="#7a7a7a" stroke-width="0.7" fill="none"/>
<path d="M209,264 C201,262.8 193.2,265.6 192.1,271.5 C191.3,277.5 199,282.2 209,281.8 Z" stroke="#7a7a7a" stroke-width="0.75" fill="#fff"/>
<path d="M212.8,264.2 L226.9,274.2 L213.2,282.3 Z" stroke="#7a7a7a" stroke-width="0.75" fill="#fff" stroke-linejoin="round"/>
<ellipse cx="211" cy="273" rx="3.8" ry="3.2" fill="#fff"/>
<circle cx="211.2" cy="267.4" r="4.3" fill="#fff" stroke="#7a7a7a" stroke-width="0.75"/>
<circle cx="209.9" cy="278.6" r="4.6" fill="#fff" stroke="#7a7a7a" stroke-width="0.75"/>
<path d="M207.6,265.3 C207,267 207.3,268.8 208.5,270.3" stroke="#7a7a7a" stroke-width="0.5" fill="none"/>
<path d="M206.3,276.3 C205.8,278 206,280 207.2,281.5" stroke="#7a7a7a" stroke-width="0.5" fill="none"/>
<circle cx="217.4" cy="270.6" r="0.75" fill="#333"/>
<circle cx="217.1" cy="276.5" r="0.75" fill="#333"/>
<circle cx="221.4" cy="273.8" r="0.55" fill="#888"/>
<line x1="205.5" y1="286.2" x2="205.5" y2="296.8" stroke="#333" stroke-width="3"/>
<line x1="205.5" y1="294.3" x2="263.0" y2="294.3" stroke="#555" stroke-width="3"/>
<line x1="271.5" y1="294.3" x2="622.0" y2="294.3" stroke="#555" stroke-width="3"/>
<path d="M621,288.3 L632.7,294.3 L621,300.3 Z" stroke="none" stroke-width="1" fill="#555"/>
<path d="M259,304 L272.5,278.5 L280,278.5 L266.5,304 Z" stroke="none" stroke-width="1" fill="#fff"/>
<line x1="258.7" y1="303.8" x2="272.1" y2="278.4" stroke="#444" stroke-width="1.7"/>
<line x1="266.7" y1="304.2" x2="279.8" y2="278.7" stroke="#444" stroke-width="1.7"/>
<text x="195.0" y="311.7" font-size="12.2" fill="#111" font-family='"Liberation Sans", sans-serif' font-weight="bold" textLength="19.6" lengthAdjust="spacingAndGlyphs">-20</text>
<line x1="292.0" y1="264.5" x2="292.0" y2="285.0" stroke="#cc2229" stroke-width="1.9"/>
<path d="M288.0,283.4 L296.0,283.4 L292.0,291.2 Z" stroke="none" stroke-width="1" fill="#cc2229"/>
<line x1="311.8" y1="264.5" x2="311.8" y2="285.0" stroke="#cc2229" stroke-width="1.9"/>
<path d="M307.8,283.4 L315.8,283.4 L311.8,291.2 Z" stroke="none" stroke-width="1" fill="#cc2229"/>
<line x1="331.8" y1="264.5" x2="331.8" y2="285.0" stroke="#cc2229" stroke-width="1.9"/>
<path d="M327.8,283.4 L335.8,283.4 L331.8,291.2 Z" stroke="none" stroke-width="1" fill="#cc2229"/>
<line x1="352.5" y1="264.5" x2="352.5" y2="285.0" stroke="#cc2229" stroke-width="1.9"/>
<path d="M348.5,283.4 L356.5,283.4 L352.5,291.2 Z" stroke="none" stroke-width="1" fill="#cc2229"/>
<line x1="373.5" y1="264.5" x2="373.5" y2="285.0" stroke="#cc2229" stroke-width="1.9"/>
<path d="M369.5,283.4 L377.5,283.4 L373.5,291.2 Z" stroke="none" stroke-width="1" fill="#cc2229"/>
<line x1="394.3" y1="264.5" x2="394.3" y2="285.0" stroke="#cc2229" stroke-width="1.9"/>
<path d="M390.3,283.4 L398.3,283.4 L394.3,291.2 Z" stroke="none" stroke-width="1" fill="#cc2229"/>
<line x1="415.2" y1="264.5" x2="415.2" y2="285.0" stroke="#cc2229" stroke-width="1.9"/>
<path d="M411.2,283.4 L419.2,283.4 L415.2,291.2 Z" stroke="none" stroke-width="1" fill="#cc2229"/>
<line x1="436.2" y1="264.5" x2="436.2" y2="285.0" stroke="#cc2229" stroke-width="1.9"/>
<path d="M432.2,283.4 L440.2,283.4 L436.2,291.2 Z" stroke="none" stroke-width="1" fill="#cc2229"/>
<line x1="456.8" y1="264.5" x2="456.8" y2="285.0" stroke="#cc2229" stroke-width="1.9"/>
<path d="M452.8,283.4 L460.8,283.4 L456.8,291.2 Z" stroke="none" stroke-width="1" fill="#cc2229"/>
<line x1="477.7" y1="264.5" x2="477.7" y2="285.0" stroke="#cc2229" stroke-width="1.9"/>
<path d="M473.7,283.4 L481.7,283.4 L477.7,291.2 Z" stroke="none" stroke-width="1" fill="#cc2229"/>
<line x1="498.7" y1="264.5" x2="498.7" y2="285.0" stroke="#cc2229" stroke-width="1.9"/>
<path d="M494.7,283.4 L502.7,283.4 L498.7,291.2 Z" stroke="none" stroke-width="1" fill="#cc2229"/>
<line x1="519.8" y1="264.5" x2="519.8" y2="285.0" stroke="#cc2229" stroke-width="1.9"/>
<path d="M515.8,283.4 L523.8,283.4 L519.8,291.2 Z" stroke="none" stroke-width="1" fill="#cc2229"/>
<line x1="540.6" y1="264.5" x2="540.6" y2="285.0" stroke="#cc2229" stroke-width="1.9"/>
<path d="M536.6,283.4 L544.6,283.4 L540.6,291.2 Z" stroke="none" stroke-width="1" fill="#cc2229"/>
<line x1="561.5" y1="264.5" x2="561.5" y2="285.0" stroke="#cc2229" stroke-width="1.9"/>
<path d="M557.5,283.4 L565.5,283.4 L561.5,291.2 Z" stroke="none" stroke-width="1" fill="#cc2229"/>
<line x1="583.3" y1="264.5" x2="583.3" y2="285.0" stroke="#cc2229" stroke-width="1.9"/>
<path d="M579.3,283.4 L587.3,283.4 L583.3,291.2 Z" stroke="none" stroke-width="1" fill="#cc2229"/>
<line x1="607.0" y1="264.5" x2="607.0" y2="285.0" stroke="#111" stroke-width="1.9"/>
<path d="M603.0,283.4 L611.0,283.4 L607.0,291.2 Z" stroke="none" stroke-width="1" fill="#111"/>
<text x="292.0" y="311.6" font-size="12.2" fill="#111" font-family='"Liberation Sans", sans-serif' font-weight="bold" text-anchor="middle">0</text>
<text x="311.8" y="311.6" font-size="12.2" fill="#111" font-family='"Liberation Sans", sans-serif' font-weight="bold" text-anchor="middle">1</text>
<text x="331.8" y="311.6" font-size="12.2" fill="#111" font-family='"Liberation Sans", sans-serif' font-weight="bold" text-anchor="middle">2</text>
<text x="352.5" y="311.6" font-size="12.2" fill="#111" font-family='"Liberation Sans", sans-serif' font-weight="bold" text-anchor="middle">3</text>
<text x="373.5" y="311.6" font-size="12.2" fill="#111" font-family='"Liberation Sans", sans-serif' font-weight="bold" text-anchor="middle">4</text>
<text x="394.3" y="311.6" font-size="12.2" fill="#111" font-family='"Liberation Sans", sans-serif' font-weight="bold" text-anchor="middle">5</text>
<text x="415.2" y="311.6" font-size="12.2" fill="#111" font-family='"Liberation Sans", sans-serif' font-weight="bold" text-anchor="middle">6</text>
<text x="436.2" y="311.6" font-size="12.2" fill="#111" font-family='"Liberation Sans", sans-serif' font-weight="bold" text-anchor="middle">7</text>
<text x="456.8" y="311.6" font-size="12.2" fill="#111" font-family='"Liberation Sans", sans-serif' font-weight="bold" text-anchor="middle">8</text>
<text x="477.7" y="311.6" font-size="12.2" fill="#111" font-family='"Liberation Sans", sans-serif' font-weight="bold" text-anchor="middle">9</text>
<text x="502.2" y="311.6" font-size="12.2" fill="#111" font-family='"Liberation Sans", sans-serif' font-weight="bold" text-anchor="middle" textLength="15.8" lengthAdjust="spacingAndGlyphs">10</text>
<text x="524.0" y="311.4" font-size="11" fill="#111" font-family='"Liberation Sans", sans-serif' font-weight="bold" textLength="37.5" lengthAdjust="spacingAndGlyphs">.........</text>
<text x="582.9" y="311.6" font-size="12.2" fill="#111" font-family='"Liberation Sans", sans-serif' font-weight="bold" text-anchor="middle" textLength="15.0" lengthAdjust="spacingAndGlyphs">38</text>
<text x="606.6" y="311.6" font-size="12.2" fill="#111" font-family='"Liberation Sans", sans-serif' font-weight="bold" text-anchor="middle" textLength="15.0" lengthAdjust="spacingAndGlyphs">39</text>
<text x="363.8" y="241.6" font-size="11.2" fill="#cc2229" font-family='"Liberation Sans", sans-serif' font-weight="bold" textLength="122.6" lengthAdjust="spacingAndGlyphs">IP injection vehicle or</text>
<text x="387.6" y="255.8" font-size="11.2" fill="#cc2229" font-family='"Liberation Sans", sans-serif' font-weight="bold" textLength="77.1" lengthAdjust="spacingAndGlyphs">SH6 50mg/kg</text>
<text x="568.7" y="249.5" font-size="11.2" fill="#111" font-family='"Liberation Sans", sans-serif' font-weight="bold" textLength="87.7" lengthAdjust="spacingAndGlyphs">Harvest tumors</text>
<text x="10.7" y="352.2" font-size="22.2" fill="#000" font-family='"Liberation Sans", sans-serif' textLength="29.0" lengthAdjust="spacingAndGlyphs">(ii)</text>
<text x="65.0" y="375.5" font-size="10.5" fill="#111" font-family='"Liberation Sans", sans-serif' font-weight="bold" textLength="38.0" lengthAdjust="spacingAndGlyphs">Control</text>
<text x="80.5" y="404.0" font-size="10.5" fill="#111" font-family='"Liberation Sans", sans-serif' font-weight="bold" text-anchor="middle">SH6</text>
<text x="63.0" y="417.5" font-size="10.5" fill="#111" font-family='"Liberation Sans", sans-serif' font-weight="bold" textLength="40.0" lengthAdjust="spacingAndGlyphs">50mg/kg</text>
<rect x="106.9" y="340.0" width="325.3" height="112.3" fill="url(#pbg)"/>
<g filter="url(#rsoft)">
<rect x="122.8" y="421.8" width="309.4" height="30.2" fill="#adadad"/>
<rect x="122.8" y="421.8" width="55.0" height="30.2" fill="#959595"/>
<rect x="376.0" y="421.8" width="25.5" height="30.2" fill="#8c8c8c"/>
<rect x="401.5" y="421.8" width="30.7" height="30.2" fill="#9c9c9c"/>
<rect x="178.0" y="422.0" width="3.9" height="29.8" fill="#cfcfcf" opacity="0.51"/>
<rect x="186.3" y="422.0" width="4.8" height="29.8" fill="#cfcfcf" opacity="0.51"/>
<rect x="195.8" y="422.0" width="2.1" height="29.8" fill="#cfcfcf" opacity="0.41"/>
<rect x="202.8" y="422.0" width="3.9" height="29.8" fill="#cfcfcf" opacity="0.57"/>
<rect x="209.1" y="422.0" width="3.4" height="29.8" fill="#cfcfcf" opacity="0.34"/>
<rect x="216.1" y="422.0" width="3.7" height="29.8" fill="#cfcfcf" opacity="0.25"/>
<rect x="222.5" y="422.0" width="2.8" height="29.8" fill="#cfcfcf" opacity="0.57"/>
<rect x="229.6" y="422.0" width="2.5" height="29.8" fill="#cfcfcf" opacity="0.53"/>
<rect x="234.5" y="422.0" width="3.9" height="29.8" fill="#cfcfcf" opacity="0.29"/>
<rect x="240.4" y="422.0" width="4.6" height="29.8" fill="#cfcfcf" opacity="0.32"/>
<rect x="247.6" y="422.0" width="4.9" height="29.8" fill="#cfcfcf" opacity="0.56"/>
<rect x="255.4" y="422.0" width="4.9" height="29.8" fill="#cfcfcf" opacity="0.44"/>
<rect x="264.3" y="422.0" width="2.6" height="29.8" fill="#cfcfcf" opacity="0.58"/>
<rect x="271.0" y="422.0" width="4.9" height="29.8" fill="#cfcfcf" opacity="0.56"/>
<rect x="278.8" y="422.0" width="3.1" height="29.8" fill="#cfcfcf" opacity="0.31"/>
<rect x="284.3" y="422.0" width="2.2" height="29.8" fill="#cfcfcf" opacity="0.36"/>
<rect x="290.4" y="422.0" width="2.0" height="29.8" fill="#cfcfcf" opacity="0.49"/>
<rect x="295.4" y="422.0" width="2.9" height="29.8" fill="#cfcfcf" opacity="0.54"/>
<rect x="301.7" y="422.0" width="2.9" height="29.8" fill="#cfcfcf" opacity="0.42"/>
<rect x="308.8" y="422.0" width="2.2" height="29.8" fill="#cfcfcf" opacity="0.59"/>
<rect x="313.0" y="422.0" width="4.2" height="29.8" fill="#cfcfcf" opacity="0.55"/>
<rect x="319.4" y="422.0" width="4.4" height="29.8" fill="#cfcfcf" opacity="0.38"/>
<rect x="327.5" y="422.0" width="2.0" height="29.8" fill="#cfcfcf" opacity="0.27"/>
<rect x="332.0" y="422.0" width="4.9" height="29.8" fill="#cfcfcf" opacity="0.32"/>
<rect x="341.2" y="422.0" width="4.8" height="29.8" fill="#cfcfcf" opacity="0.58"/>
<rect x="349.0" y="422.0" width="3.1" height="29.8" fill="#cfcfcf" opacity="0.43"/>
<rect x="356.4" y="422.0" width="2.3" height="29.8" fill="#cfcfcf" opacity="0.51"/>
<rect x="363.1" y="422.0" width="4.6" height="29.8" fill="#cfcfcf" opacity="0.26"/>
<rect x="372.5" y="422.0" width="2.3" height="29.8" fill="#cfcfcf" opacity="0.37"/>
<rect x="172.6" y="422.0" width="1.7" height="29.8" fill="#a0a0a0" opacity="0.5"/>
<rect x="172.9" y="422.0" width="2.1" height="29.8" fill="#a0a0a0" opacity="0.5"/>
<rect x="139.9" y="422.0" width="1.6" height="29.8" fill="#a0a0a0" opacity="0.5"/>
<rect x="132.6" y="422.0" width="1.2" height="29.8" fill="#a0a0a0" opacity="0.5"/>
<rect x="131.0" y="422.0" width="2.4" height="29.8" fill="#a0a0a0" opacity="0.5"/>
<rect x="176.8" y="422.0" width="1.3" height="29.8" fill="#a0a0a0" opacity="0.5"/>
<rect x="125.6" y="422.0" width="3.0" height="29.8" fill="#a0a0a0" opacity="0.5"/>
<rect x="151.8" y="422.0" width="1.8" height="29.8" fill="#a0a0a0" opacity="0.5"/>
<rect x="122.8" y="421.8" width="309.4" height="2.2" fill="#6c6c6c" opacity="0.7"/>
<rect x="122.8" y="449.5" width="309.4" height="2.5" fill="#7a7a7a" opacity="0.5"/>
</g>
<line x1="124.5" y1="424.3" x2="124.5" y2="428.3" stroke="#444" stroke-width="0.35" opacity="0.55"/>
<line x1="124.5" y1="445.5" x2="124.5" y2="449.5" stroke="#444" stroke-width="0.35" opacity="0.45"/>
<line x1="125.7" y1="424.3" x2="125.7" y2="426.8" stroke="#444" stroke-width="0.35" opacity="0.55"/>
<line x1="125.7" y1="447.0" x2="125.7" y2="449.5" stroke="#444" stroke-width="0.35" opacity="0.45"/>
<line x1="126.9" y1="424.3" x2="126.9" y2="426.8" stroke="#444" stroke-width="0.35" opacity="0.55"/>
<line x1="126.9" y1="447.0" x2="126.9" y2="449.5" stroke="#444" stroke-width="0.35" opacity="0.45"/>
<line x1="128.1" y1="424.3" x2="128.1" y2="426.8" stroke="#444" stroke-width="0.35" opacity="0.55"/>
<line x1="128.1" y1="447.0" x2="128.1" y2="449.5" stroke="#444" stroke-width="0.35" opacity="0.45"/>
<line x1="129.3" y1="424.3" x2="129.3" y2="426.8" stroke="#444" stroke-width="0.35" opacity="0.55"/>
<line x1="129.3" y1="447.0" x2="129.3" y2="449.5" stroke="#444" stroke-width="0.35" opacity="0.45"/>
<line x1="130.4" y1="424.3" x2="130.4" y2="428.3" stroke="#444" stroke-width="0.35" opacity="0.55"/>
<line x1="130.4" y1="445.5" x2="130.4" y2="449.5" stroke="#444" stroke-width="0.35" opacity="0.45"/>
<line x1="131.6" y1="424.3" x2="131.6" y2="426.8" stroke="#444" stroke-width="0.35" opacity="0.55"/>
<line x1="131.6" y1="447.0" x2="131.6" y2="449.5" stroke="#444" stroke-width="0.35" opacity="0.45"/>
<line x1="132.8" y1="424.3" x2="132.8" y2="426.8" stroke="#444" stroke-width="0.35" opacity="0.55"/>
<line x1="132.8" y1="447.0" x2="132.8" y2="449.5" stroke="#444" stroke-width="0.35" opacity="0.45"/>
<line x1="134.0" y1="424.3" x2="134.0" y2="426.8" stroke="#444" stroke-width="0.35" opacity="0.55"/>
<line x1="134.0" y1="447.0" x2="134.0" y2="449.5" stroke="#444" stroke-width="0.35" opacity="0.45"/>
<line x1="135.2" y1="424.3" x2="135.2" y2="426.8" stroke="#444" stroke-width="0.35" opacity="0.55"/>
<line x1="135.2" y1="447.0" x2="135.2" y2="449.5" stroke="#444" stroke-width="0.35" opacity="0.45"/>
<line x1="136.4" y1="424.3" x2="136.4" y2="428.3" stroke="#444" stroke-width="0.35" opacity="0.55"/>
<line x1="136.4" y1="445.5" x2="136.4" y2="449.5" stroke="#444" stroke-width="0.35" opacity="0.45"/>
<line x1="137.6" y1="424.3" x2="137.6" y2="426.8" stroke="#444" stroke-width="0.35" opacity="0.55"/>
<line x1="137.6" y1="447.0" x2="137.6" y2="449.5" stroke="#444" stroke-width="0.35" opacity="0.45"/>
<line x1="138.8" y1="424.3" x2="138.8" y2="426.8" stroke="#444" stroke-width="0.35" opacity="0.55"/>
<line x1="138.8" y1="447.0" x2="138.8" y2="449.5" stroke="#444" stroke-width="0.35" opacity="0.45"/>
<line x1="140.0" y1="424.3" x2="140.0" y2="426.8" stroke="#444" stroke-width="0.35" opacity="0.55"/>
<line x1="140.0" y1="447.0" x2="140.0" y2="449.5" stroke="#444" stroke-width="0.35" opacity="0.45"/>
<line x1="141.2" y1="424.3" x2="141.2" y2="426.8" stroke="#444" stroke-width="0.35" opacity="0.55"/>
<line x1="141.2" y1="447.0" x2="141.2" y2="449.5" stroke="#444" stroke-width="0.35" opacity="0.45"/>
<line x1="142.3" y1="424.3" x2="142.3" y2="428.3" stroke="#444" stroke-width="0.35" opacity="0.55"/>
<line x1="142.3" y1="445.5" x2="142.3" y2="449.5" stroke="#444" stroke-width="0.35" opacity="0.45"/>
<line x1="143.5" y1="424.3" x2="143.5" y2="426.8" stroke="#444" stroke-width="0.35" opacity="0.55"/>
<line x1="143.5" y1="447.0" x2="143.5" y2="449.5" stroke="#444" stroke-width="0.35" opacity="0.45"/>
<line x1="144.7" y1="424.3" x2="144.7" y2="426.8" stroke="#444" stroke-width="0.35" opacity="0.55"/>
<line x1="144.7" y1="447.0" x2="144.7" y2="449.5" stroke="#444" stroke-width="0.35" opacity="0.45"/>
<line x1="145.9" y1="424.3" x2="145.9" y2="426.8" stroke="#444" stroke-width="0.35" opacity="0.55"/>
<line x1="145.9" y1="447.0" x2="145.9" y2="449.5" stroke="#444" stroke-width="0.35" opacity="0.45"/>
<line x1="147.1" y1="424.3" x2="147.1" y2="426.8" stroke="#444" stroke-width="0.35" opacity="0.55"/>
<line x1="147.1" y1="447.0" x2="147.1" y2="449.5" stroke="#444" stroke-width="0.35" opacity="0.45"/>
<line x1="148.3" y1="424.3" x2="148.3" y2="428.3" stroke="#444" stroke-width="0.35" opacity="0.55"/>
<line x1="148.3" y1="445.5" x2="148.3" y2="449.5" stroke="#444" stroke-width="0.35" opacity="0.45"/>
<line x1="149.5" y1="424.3" x2="149.5" y2="426.8" stroke="#444" stroke-width="0.35" opacity="0.55"/>
<line x1="149.5" y1="447.0" x2="149.5" y2="449.5" stroke="#444" stroke-width="0.35" opacity="0.45"/>
<line x1="150.7" y1="424.3" x2="150.7" y2="426.8" stroke="#444" stroke-width="0.35" opacity="0.55"/>
<line x1="150.7" y1="447.0" x2="150.7" y2="449.5" stroke="#444" stroke-width="0.35" opacity="0.45"/>
<line x1="151.9" y1="424.3" x2="151.9" y2="426.8" stroke="#444" stroke-width="0.35" opacity="0.55"/>
<line x1="151.9" y1="447.0" x2="151.9" y2="449.5" stroke="#444" stroke-width="0.35" opacity="0.45"/>
<line x1="153.1" y1="424.3" x2="153.1" y2="426.8" stroke="#444" stroke-width="0.35" opacity="0.55"/>
<line x1="153.1" y1="447.0" x2="153.1" y2="449.5" stroke="#444" stroke-width="0.35" opacity="0.45"/>
<line x1="154.2" y1="424.3" x2="154.2" y2="428.3" stroke="#444" stroke-width="0.35" opacity="0.55"/>
<line x1="154.2" y1="445.5" x2="154.2" y2="449.5" stroke="#444" stroke-width="0.35" opacity="0.45"/>
<line x1="155.4" y1="424.3" x2="155.4" y2="426.8" stroke="#444" stroke-width="0.35" opacity="0.55"/>
<line x1="155.4" y1="447.0" x2="155.4" y2="449.5" stroke="#444" stroke-width="0.35" opacity="0.45"/>
<line x1="156.6" y1="424.3" x2="156.6" y2="426.8" stroke="#444" stroke-width="0.35" opacity="0.55"/>
<line x1="156.6" y1="447.0" x2="156.6" y2="449.5" stroke="#444" stroke-width="0.35" opacity="0.45"/>
<line x1="157.8" y1="424.3" x2="157.8" y2="426.8" stroke="#444" stroke-width="0.35" opacity="0.55"/>
<line x1="157.8" y1="447.0" x2="157.8" y2="449.5" stroke="#444" stroke-width="0.35" opacity="0.45"/>
<line x1="159.0" y1="424.3" x2="159.0" y2="426.8" stroke="#444" stroke-width="0.35" opacity="0.55"/>
<line x1="159.0" y1="447.0" x2="159.0" y2="449.5" stroke="#444" stroke-width="0.35" opacity="0.45"/>
<line x1="160.2" y1="424.3" x2="160.2" y2="428.3" stroke="#444" stroke-width="0.35" opacity="0.55"/>
<line x1="160.2" y1="445.5" x2="160.2" y2="449.5" stroke="#444" stroke-width="0.35" opacity="0.45"/>
<line x1="161.4" y1="424.3" x2="161.4" y2="426.8" stroke="#444" stroke-width="0.35" opacity="0.55"/>
<line x1="161.4" y1="447.0" x2="161.4" y2="449.5" stroke="#444" stroke-width="0.35" opacity="0.45"/>
<line x1="162.6" y1="424.3" x2="162.6" y2="426.8" stroke="#444" stroke-width="0.35" opacity="0.55"/>
<line x1="162.6" y1="447.0" x2="162.6" y2="449.5" stroke="#444" stroke-width="0.35" opacity="0.45"/>
<line x1="163.8" y1="424.3" x2="163.8" y2="426.8" stroke="#444" stroke-width="0.35" opacity="0.55"/>
<line x1="163.8" y1="447.0" x2="163.8" y2="449.5" stroke="#444" stroke-width="0.35" opacity="0.45"/>
<line x1="165.0" y1="424.3" x2="165.0" y2="426.8" stroke="#444" stroke-width="0.35" opacity="0.55"/>
<line x1="165.0" y1="447.0" x2="165.0" y2="449.5" stroke="#444" stroke-width="0.35" opacity="0.45"/>
<line x1="166.2" y1="424.3" x2="166.2" y2="428.3" stroke="#444" stroke-width="0.35" opacity="0.55"/>
<line x1="166.2" y1="445.5" x2="166.2" y2="449.5" stroke="#444" stroke-width="0.35" opacity="0.45"/>
<line x1="167.3" y1="424.3" x2="167.3" y2="426.8" stroke="#444" stroke-width="0.35" opacity="0.55"/>
<line x1="167.3" y1="447.0" x2="167.3" y2="449.5" stroke="#444" stroke-width="0.35" opacity="0.45"/>
<line x1="168.5" y1="424.3" x2="168.5" y2="426.8" stroke="#444" stroke-width="0.35" opacity="0.55"/>
<line x1="168.5" y1="447.0" x2="168.5" y2="449.5" stroke="#444" stroke-width="0.35" opacity="0.45"/>
<line x1="169.7" y1="424.3" x2="169.7" y2="426.8" stroke="#444" stroke-width="0.35" opacity="0.55"/>
<line x1="169.7" y1="447.0" x2="169.7" y2="449.5" stroke="#444" stroke-width="0.35" opacity="0.45"/>
<line x1="170.9" y1="424.3" x2="170.9" y2="426.8" stroke="#444" stroke-width="0.35" opacity="0.55"/>
<line x1="170.9" y1="447.0" x2="170.9" y2="449.5" stroke="#444" stroke-width="0.35" opacity="0.45"/>
<line x1="172.1" y1="424.3" x2="172.1" y2="428.3" stroke="#444" stroke-width="0.35" opacity="0.55"/>
<line x1="172.1" y1="445.5" x2="172.1" y2="449.5" stroke="#444" stroke-width="0.35" opacity="0.45"/>
<line x1="173.3" y1="424.3" x2="173.3" y2="426.8" stroke="#444" stroke-width="0.35" opacity="0.55"/>
<line x1="173.3" y1="447.0" x2="173.3" y2="449.5" stroke="#444" stroke-width="0.35" opacity="0.45"/>
<line x1="174.5" y1="424.3" x2="174.5" y2="426.8" stroke="#444" stroke-width="0.35" opacity="0.55"/>
<line x1="174.5" y1="447.0" x2="174.5" y2="449.5" stroke="#444" stroke-width="0.35" opacity="0.45"/>
<line x1="175.7" y1="424.3" x2="175.7" y2="426.8" stroke="#444" stroke-width="0.35" opacity="0.55"/>
<line x1="175.7" y1="447.0" x2="175.7" y2="449.5" stroke="#444" stroke-width="0.35" opacity="0.45"/>
<line x1="176.9" y1="424.3" x2="176.9" y2="426.8" stroke="#444" stroke-width="0.35" opacity="0.55"/>
<line x1="176.9" y1="447.0" x2="176.9" y2="449.5" stroke="#444" stroke-width="0.35" opacity="0.45"/>
<line x1="178.1" y1="424.3" x2="178.1" y2="428.3" stroke="#444" stroke-width="0.35" opacity="0.55"/>
<line x1="178.1" y1="445.5" x2="178.1" y2="449.5" stroke="#444" stroke-width="0.35" opacity="0.45"/>
<line x1="179.2" y1="424.3" x2="179.2" y2="426.8" stroke="#444" stroke-width="0.35" opacity="0.55"/>
<line x1="179.2" y1="447.0" x2="179.2" y2="449.5" stroke="#444" stroke-width="0.35" opacity="0.45"/>
<line x1="180.4" y1="424.3" x2="180.4" y2="426.8" stroke="#444" stroke-width="0.35" opacity="0.55"/>
<line x1="180.4" y1="447.0" x2="180.4" y2="449.5" stroke="#444" stroke-width="0.35" opacity="0.45"/>
<line x1="181.6" y1="424.3" x2="181.6" y2="426.8" stroke="#444" stroke-width="0.35" opacity="0.55"/>
<line x1="181.6" y1="447.0" x2="181.6" y2="449.5" stroke="#444" stroke-width="0.35" opacity="0.45"/>
<line x1="182.8" y1="424.3" x2="182.8" y2="426.8" stroke="#444" stroke-width="0.35" opacity="0.55"/>
<line x1="182.8" y1="447.0" x2="182.8" y2="449.5" stroke="#444" stroke-width="0.35" opacity="0.45"/>
<line x1="184.0" y1="424.3" x2="184.0" y2="428.3" stroke="#444" stroke-width="0.35" opacity="0.55"/>
<line x1="184.0" y1="445.5" x2="184.0" y2="449.5" stroke="#444" stroke-width="0.35" opacity="0.45"/>
<line x1="185.2" y1="424.3" x2="185.2" y2="426.8" stroke="#444" stroke-width="0.35" opacity="0.55"/>
<line x1="185.2" y1="447.0" x2="185.2" y2="449.5" stroke="#444" stroke-width="0.35" opacity="0.45"/>
<line x1="186.4" y1="424.3" x2="186.4" y2="426.8" stroke="#444" stroke-width="0.35" opacity="0.55"/>
<line x1="186.4" y1="447.0" x2="186.4" y2="449.5" stroke="#444" stroke-width="0.35" opacity="0.45"/>
<line x1="187.6" y1="424.3" x2="187.6" y2="426.8" stroke="#444" stroke-width="0.35" opacity="0.55"/>
<line x1="187.6" y1="447.0" x2="187.6" y2="449.5" stroke="#444" stroke-width="0.35" opacity="0.45"/>
<line x1="188.8" y1="424.3" x2="188.8" y2="426.8" stroke="#444" stroke-width="0.35" opacity="0.55"/>
<line x1="188.8" y1="447.0" x2="188.8" y2="449.5" stroke="#444" stroke-width="0.35" opacity="0.45"/>
<line x1="189.9" y1="424.3" x2="189.9" y2="428.3" stroke="#444" stroke-width="0.35" opacity="0.55"/>
<line x1="189.9" y1="445.5" x2="189.9" y2="449.5" stroke="#444" stroke-width="0.35" opacity="0.45"/>
<line x1="191.1" y1="424.3" x2="191.1" y2="426.8" stroke="#444" stroke-width="0.35" opacity="0.55"/>
<line x1="191.1" y1="447.0" x2="191.1" y2="449.5" stroke="#444" stroke-width="0.35" opacity="0.45"/>
<line x1="192.3" y1="424.3" x2="192.3" y2="426.8" stroke="#444" stroke-width="0.35" opacity="0.55"/>
<line x1="192.3" y1="447.0" x2="192.3" y2="449.5" stroke="#444" stroke-width="0.35" opacity="0.45"/>
<line x1="193.5" y1="424.3" x2="193.5" y2="426.8" stroke="#444" stroke-width="0.35" opacity="0.55"/>
<line x1="193.5" y1="447.0" x2="193.5" y2="449.5" stroke="#444" stroke-width="0.35" opacity="0.45"/>
<line x1="194.7" y1="424.3" x2="194.7" y2="426.8" stroke="#444" stroke-width="0.35" opacity="0.55"/>
<line x1="194.7" y1="447.0" x2="194.7" y2="449.5" stroke="#444" stroke-width="0.35" opacity="0.45"/>
<line x1="195.9" y1="424.3" x2="195.9" y2="428.3" stroke="#444" stroke-width="0.35" opacity="0.55"/>
<line x1="195.9" y1="445.5" x2="195.9" y2="449.5" stroke="#444" stroke-width="0.35" opacity="0.45"/>
<line x1="197.1" y1="424.3" x2="197.1" y2="426.8" stroke="#444" stroke-width="0.35" opacity="0.55"/>
<line x1="197.1" y1="447.0" x2="197.1" y2="449.5" stroke="#444" stroke-width="0.35" opacity="0.45"/>
<line x1="198.3" y1="424.3" x2="198.3" y2="426.8" stroke="#444" stroke-width="0.35" opacity="0.55"/>
<line x1="198.3" y1="447.0" x2="198.3" y2="449.5" stroke="#444" stroke-width="0.35" opacity="0.45"/>
<line x1="199.5" y1="424.3" x2="199.5" y2="426.8" stroke="#444" stroke-width="0.35" opacity="0.55"/>
<line x1="199.5" y1="447.0" x2="199.5" y2="449.5" stroke="#444" stroke-width="0.35" opacity="0.45"/>
<line x1="200.7" y1="424.3" x2="200.7" y2="426.8" stroke="#444" stroke-width="0.35" opacity="0.55"/>
<line x1="200.7" y1="447.0" x2="200.7" y2="449.5" stroke="#444" stroke-width="0.35" opacity="0.45"/>
<line x1="201.8" y1="424.3" x2="201.8" y2="428.3" stroke="#444" stroke-width="0.35" opacity="0.55"/>
<line x1="201.8" y1="445.5" x2="201.8" y2="449.5" stroke="#444" stroke-width="0.35" opacity="0.45"/>
<line x1="203.0" y1="424.3" x2="203.0" y2="426.8" stroke="#444" stroke-width="0.35" opacity="0.55"/>
<line x1="203.0" y1="447.0" x2="203.0" y2="449.5" stroke="#444" stroke-width="0.35" opacity="0.45"/>
<line x1="204.2" y1="424.3" x2="204.2" y2="426.8" stroke="#444" stroke-width="0.35" opacity="0.55"/>
<line x1="204.2" y1="447.0" x2="204.2" y2="449.5" stroke="#444" stroke-width="0.35" opacity="0.45"/>
<line x1="205.4" y1="424.3" x2="205.4" y2="426.8" stroke="#444" stroke-width="0.35" opacity="0.55"/>
<line x1="205.4" y1="447.0" x2="205.4" y2="449.5" stroke="#444" stroke-width="0.35" opacity="0.45"/>
<line x1="206.6" y1="424.3" x2="206.6" y2="426.8" stroke="#444" stroke-width="0.35" opacity="0.55"/>
<line x1="206.6" y1="447.0" x2="206.6" y2="449.5" stroke="#444" stroke-width="0.35" opacity="0.45"/>
<line x1="207.8" y1="424.3" x2="207.8" y2="428.3" stroke="#444" stroke-width="0.35" opacity="0.55"/>
<line x1="207.8" y1="445.5" x2="207.8" y2="449.5" stroke="#444" stroke-width="0.35" opacity="0.45"/>
<line x1="209.0" y1="424.3" x2="209.0" y2="426.8" stroke="#444" stroke-width="0.35" opacity="0.55"/>
<line x1="209.0" y1="447.0" x2="209.0" y2="449.5" stroke="#444" stroke-width="0.35" opacity="0.45"/>
<line x1="210.2" y1="424.3" x2="210.2" y2="426.8" stroke="#444" stroke-width="0.35" opacity="0.55"/>
<line x1="210.2" y1="447.0" x2="210.2" y2="449.5" stroke="#444" stroke-width="0.35" opacity="0.45"/>
<line x1="211.4" y1="424.3" x2="211.4" y2="426.8" stroke="#444" stroke-width="0.35" opacity="0.55"/>
<line x1="211.4" y1="447.0" x2="211.4" y2="449.5" stroke="#444" stroke-width="0.35" opacity="0.45"/>
<line x1="212.6" y1="424.3" x2="212.6" y2="426.8" stroke="#444" stroke-width="0.35" opacity="0.55"/>
<line x1="212.6" y1="447.0" x2="212.6" y2="449.5" stroke="#444" stroke-width="0.35" opacity="0.45"/>
<line x1="213.8" y1="424.3" x2="213.8" y2="428.3" stroke="#444" stroke-width="0.35" opacity="0.55"/>
<line x1="213.8" y1="445.5" x2="213.8" y2="449.5" stroke="#444" stroke-width="0.35" opacity="0.45"/>
<line x1="214.9" y1="424.3" x2="214.9" y2="426.8" stroke="#444" stroke-width="0.35" opacity="0.55"/>
<line x1="214.9" y1="447.0" x2="214.9" y2="449.5" stroke="#444" stroke-width="0.35" opacity="0.45"/>
<line x1="216.1" y1="424.3" x2="216.1" y2="426.8" stroke="#444" stroke-width="0.35" opacity="0.55"/>
<line x1="216.1" y1="447.0" x2="216.1" y2="449.5" stroke="#444" stroke-width="0.35" opacity="0.45"/>
<line x1="217.3" y1="424.3" x2="217.3" y2="426.8" stroke="#444" stroke-width="0.35" opacity="0.55"/>
<line x1="217.3" y1="447.0" x2="217.3" y2="449.5" stroke="#444" stroke-width="0.35" opacity="0.45"/>
<line x1="218.5" y1="424.3" x2="218.5" y2="426.8" stroke="#444" stroke-width="0.35" opacity="0.55"/>
<line x1="218.5" y1="447.0" x2="218.5" y2="449.5" stroke="#444" stroke-width="0.35" opacity="0.45"/>
<line x1="219.7" y1="424.3" x2="219.7" y2="428.3" stroke="#444" stroke-width="0.35" opacity="0.55"/>
<line x1="219.7" y1="445.5" x2="219.7" y2="449.5" stroke="#444" stroke-width="0.35" opacity="0.45"/>
<line x1="220.9" y1="424.3" x2="220.9" y2="426.8" stroke="#444" stroke-width="0.35" opacity="0.55"/>
<line x1="220.9" y1="447.0" x2="220.9" y2="449.5" stroke="#444" stroke-width="0.35" opacity="0.45"/>
<line x1="222.1" y1="424.3" x2="222.1" y2="426.8" stroke="#444" stroke-width="0.35" opacity="0.55"/>
<line x1="222.1" y1="447.0" x2="222.1" y2="449.5" stroke="#444" stroke-width="0.35" opacity="0.45"/>
<line x1="223.3" y1="424.3" x2="223.3" y2="426.8" stroke="#444" stroke-width="0.35" opacity="0.55"/>
<line x1="223.3" y1="447.0" x2="223.3" y2="449.5" stroke="#444" stroke-width="0.35" opacity="0.45"/>
<line x1="224.5" y1="424.3" x2="224.5" y2="426.8" stroke="#444" stroke-width="0.35" opacity="0.55"/>
<line x1="224.5" y1="447.0" x2="224.5" y2="449.5" stroke="#444" stroke-width="0.35" opacity="0.45"/>
<line x1="225.6" y1="424.3" x2="225.6" y2="428.3" stroke="#444" stroke-width="0.35" opacity="0.55"/>
<line x1="225.6" y1="445.5" x2="225.6" y2="449.5" stroke="#444" stroke-width="0.35" opacity="0.45"/>
<line x1="226.8" y1="424.3" x2="226.8" y2="426.8" stroke="#444" stroke-width="0.35" opacity="0.55"/>
<line x1="226.8" y1="447.0" x2="226.8" y2="449.5" stroke="#444" stroke-width="0.35" opacity="0.45"/>
<line x1="228.0" y1="424.3" x2="228.0" y2="426.8" stroke="#444" stroke-width="0.35" opacity="0.55"/>
<line x1="228.0" y1="447.0" x2="228.0" y2="449.5" stroke="#444" stroke-width="0.35" opacity="0.45"/>
<line x1="229.2" y1="424.3" x2="229.2" y2="426.8" stroke="#444" stroke-width="0.35" opacity="0.55"/>
<line x1="229.2" y1="447.0" x2="229.2" y2="449.5" stroke="#444" stroke-width="0.35" opacity="0.45"/>
<line x1="230.4" y1="424.3" x2="230.4" y2="426.8" stroke="#444" stroke-width="0.35" opacity="0.55"/>
<line x1="230.4" y1="447.0" x2="230.4" y2="449.5" stroke="#444" stroke-width="0.35" opacity="0.45"/>
<line x1="231.6" y1="424.3" x2="231.6" y2="428.3" stroke="#444" stroke-width="0.35" opacity="0.55"/>
<line x1="231.6" y1="445.5" x2="231.6" y2="449.5" stroke="#444" stroke-width="0.35" opacity="0.45"/>
<line x1="232.8" y1="424.3" x2="232.8" y2="426.8" stroke="#444" stroke-width="0.35" opacity="0.55"/>
<line x1="232.8" y1="447.0" x2="232.8" y2="449.5" stroke="#444" stroke-width="0.35" opacity="0.45"/>
<line x1="234.0" y1="424.3" x2="234.0" y2="426.8" stroke="#444" stroke-width="0.35" opacity="0.55"/>
<line x1="234.0" y1="447.0" x2="234.0" y2="449.5" stroke="#444" stroke-width="0.35" opacity="0.45"/>
<line x1="235.2" y1="424.3" x2="235.2" y2="426.8" stroke="#444" stroke-width="0.35" opacity="0.55"/>
<line x1="235.2" y1="447.0" x2="235.2" y2="449.5" stroke="#444" stroke-width="0.35" opacity="0.45"/>
<line x1="236.4" y1="424.3" x2="236.4" y2="426.8" stroke="#444" stroke-width="0.35" opacity="0.55"/>
<line x1="236.4" y1="447.0" x2="236.4" y2="449.5" stroke="#444" stroke-width="0.35" opacity="0.45"/>
<line x1="237.6" y1="424.3" x2="237.6" y2="428.3" stroke="#444" stroke-width="0.35" opacity="0.55"/>
<line x1="237.6" y1="445.5" x2="237.6" y2="449.5" stroke="#444" stroke-width="0.35" opacity="0.45"/>
<line x1="238.7" y1="424.3" x2="238.7" y2="426.8" stroke="#444" stroke-width="0.35" opacity="0.55"/>
<line x1="238.7" y1="447.0" x2="238.7" y2="449.5" stroke="#444" stroke-width="0.35" opacity="0.45"/>
<line x1="239.9" y1="424.3" x2="239.9" y2="426.8" stroke="#444" stroke-width="0.35" opacity="0.55"/>
<line x1="239.9" y1="447.0" x2="239.9" y2="449.5" stroke="#444" stroke-width="0.35" opacity="0.45"/>
<line x1="241.1" y1="424.3" x2="241.1" y2="426.8" stroke="#444" stroke-width="0.35" opacity="0.55"/>
<line x1="241.1" y1="447.0" x2="241.1" y2="449.5" stroke="#444" stroke-width="0.35" opacity="0.45"/>
<line x1="242.3" y1="424.3" x2="242.3" y2="426.8" stroke="#444" stroke-width="0.35" opacity="0.55"/>
<line x1="242.3" y1="447.0" x2="242.3" y2="449.5" stroke="#444" stroke-width="0.35" opacity="0.45"/>
<line x1="243.5" y1="424.3" x2="243.5" y2="428.3" stroke="#444" stroke-width="0.35" opacity="0.55"/>
<line x1="243.5" y1="445.5" x2="243.5" y2="449.5" stroke="#444" stroke-width="0.35" opacity="0.45"/>
<line x1="244.7" y1="424.3" x2="244.7" y2="426.8" stroke="#444" stroke-width="0.35" opacity="0.55"/>
<line x1="244.7" y1="447.0" x2="244.7" y2="449.5" stroke="#444" stroke-width="0.35" opacity="0.45"/>
<line x1="245.9" y1="424.3" x2="245.9" y2="426.8" stroke="#444" stroke-width="0.35" opacity="0.55"/>
<line x1="245.9" y1="447.0" x2="245.9" y2="449.5" stroke="#444" stroke-width="0.35" opacity="0.45"/>
<line x1="247.1" y1="424.3" x2="247.1" y2="426.8" stroke="#444" stroke-width="0.35" opacity="0.55"/>
<line x1="247.1" y1="447.0" x2="247.1" y2="449.5" stroke="#444" stroke-width="0.35" opacity="0.45"/>
<line x1="248.3" y1="424.3" x2="248.3" y2="426.8" stroke="#444" stroke-width="0.35" opacity="0.55"/>
<line x1="248.3" y1="447.0" x2="248.3" y2="449.5" stroke="#444" stroke-width="0.35" opacity="0.45"/>
<line x1="249.4" y1="424.3" x2="249.4" y2="428.3" stroke="#444" stroke-width="0.35" opacity="0.55"/>
<line x1="249.4" y1="445.5" x2="249.4" y2="449.5" stroke="#444" stroke-width="0.35" opacity="0.45"/>
<line x1="250.6" y1="424.3" x2="250.6" y2="426.8" stroke="#444" stroke-width="0.35" opacity="0.55"/>
<line x1="250.6" y1="447.0" x2="250.6" y2="449.5" stroke="#444" stroke-width="0.35" opacity="0.45"/>
<line x1="251.8" y1="424.3" x2="251.8" y2="426.8" stroke="#444" stroke-width="0.35" opacity="0.55"/>
<line x1="251.8" y1="447.0" x2="251.8" y2="449.5" stroke="#444" stroke-width="0.35" opacity="0.45"/>
<line x1="253.0" y1="424.3" x2="253.0" y2="426.8" stroke="#444" stroke-width="0.35" opacity="0.55"/>
<line x1="253.0" y1="447.0" x2="253.0" y2="449.5" stroke="#444" stroke-width="0.35" opacity="0.45"/>
<line x1="254.2" y1="424.3" x2="254.2" y2="426.8" stroke="#444" stroke-width="0.35" opacity="0.55"/>
<line x1="254.2" y1="447.0" x2="254.2" y2="449.5" stroke="#444" stroke-width="0.35" opacity="0.45"/>
<line x1="255.4" y1="424.3" x2="255.4" y2="428.3" stroke="#444" stroke-width="0.35" opacity="0.55"/>
<line x1="255.4" y1="445.5" x2="255.4" y2="449.5" stroke="#444" stroke-width="0.35" opacity="0.45"/>
<line x1="256.6" y1="424.3" x2="256.6" y2="426.8" stroke="#444" stroke-width="0.35" opacity="0.55"/>
<line x1="256.6" y1="447.0" x2="256.6" y2="449.5" stroke="#444" stroke-width="0.35" opacity="0.45"/>
<line x1="257.8" y1="424.3" x2="257.8" y2="426.8" stroke="#444" stroke-width="0.35" opacity="0.55"/>
<line x1="257.8" y1="447.0" x2="257.8" y2="449.5" stroke="#444" stroke-width="0.35" opacity="0.45"/>
<line x1="259.0" y1="424.3" x2="259.0" y2="426.8" stroke="#444" stroke-width="0.35" opacity="0.55"/>
<line x1="259.0" y1="447.0" x2="259.0" y2="449.5" stroke="#444" stroke-width="0.35" opacity="0.45"/>
<line x1="260.2" y1="424.3" x2="260.2" y2="426.8" stroke="#444" stroke-width="0.35" opacity="0.55"/>
<line x1="260.2" y1="447.0" x2="260.2" y2="449.5" stroke="#444" stroke-width="0.35" opacity="0.45"/>
<line x1="261.4" y1="424.3" x2="261.4" y2="428.3" stroke="#444" stroke-width="0.35" opacity="0.55"/>
<line x1="261.4" y1="445.5" x2="261.4" y2="449.5" stroke="#444" stroke-width="0.35" opacity="0.45"/>
<line x1="262.5" y1="424.3" x2="262.5" y2="426.8" stroke="#444" stroke-width="0.35" opacity="0.55"/>
<line x1="262.5" y1="447.0" x2="262.5" y2="449.5" stroke="#444" stroke-width="0.35" opacity="0.45"/>
<line x1="263.7" y1="424.3" x2="263.7" y2="426.8" stroke="#444" stroke-width="0.35" opacity="0.55"/>
<line x1="263.7" y1="447.0" x2="263.7" y2="449.5" stroke="#444" stroke-width="0.35" opacity="0.45"/>
<line x1="264.9" y1="424.3" x2="264.9" y2="426.8" stroke="#444" stroke-width="0.35" opacity="0.55"/>
<line x1="264.9" y1="447.0" x2="264.9" y2="449.5" stroke="#444" stroke-width="0.35" opacity="0.45"/>
<line x1="266.1" y1="424.3" x2="266.1" y2="426.8" stroke="#444" stroke-width="0.35" opacity="0.55"/>
<line x1="266.1" y1="447.0" x2="266.1" y2="449.5" stroke="#444" stroke-width="0.35" opacity="0.45"/>
<line x1="267.3" y1="424.3" x2="267.3" y2="428.3" stroke="#444" stroke-width="0.35" opacity="0.55"/>
<line x1="267.3" y1="445.5" x2="267.3" y2="449.5" stroke="#444" stroke-width="0.35" opacity="0.45"/>
<line x1="268.5" y1="424.3" x2="268.5" y2="426.8" stroke="#444" stroke-width="0.35" opacity="0.55"/>
<line x1="268.5" y1="447.0" x2="268.5" y2="449.5" stroke="#444" stroke-width="0.35" opacity="0.45"/>
<line x1="269.7" y1="424.3" x2="269.7" y2="426.8" stroke="#444" stroke-width="0.35" opacity="0.55"/>
<line x1="269.7" y1="447.0" x2="269.7" y2="449.5" stroke="#444" stroke-width="0.35" opacity="0.45"/>
<line x1="270.9" y1="424.3" x2="270.9" y2="426.8" stroke="#444" stroke-width="0.35" opacity="0.55"/>
<line x1="270.9" y1="447.0" x2="270.9" y2="449.5" stroke="#444" stroke-width="0.35" opacity="0.45"/>
<line x1="272.1" y1="424.3" x2="272.1" y2="426.8" stroke="#444" stroke-width="0.35" opacity="0.55"/>
<line x1="272.1" y1="447.0" x2="272.1" y2="449.5" stroke="#444" stroke-width="0.35" opacity="0.45"/>
<line x1="273.2" y1="424.3" x2="273.2" y2="428.3" stroke="#444" stroke-width="0.35" opacity="0.55"/>
<line x1="273.2" y1="445.5" x2="273.2" y2="449.5" stroke="#444" stroke-width="0.35" opacity="0.45"/>
<line x1="274.4" y1="424.3" x2="274.4" y2="426.8" stroke="#444" stroke-width="0.35" opacity="0.55"/>
<line x1="274.4" y1="447.0" x2="274.4" y2="449.5" stroke="#444" stroke-width="0.35" opacity="0.45"/>
<line x1="275.6" y1="424.3" x2="275.6" y2="426.8" stroke="#444" stroke-width="0.35" opacity="0.55"/>
<line x1="275.6" y1="447.0" x2="275.6" y2="449.5" stroke="#444" stroke-width="0.35" opacity="0.45"/>
<line x1="276.8" y1="424.3" x2="276.8" y2="426.8" stroke="#444" stroke-width="0.35" opacity="0.55"/>
<line x1="276.8" y1="447.0" x2="276.8" y2="449.5" stroke="#444" stroke-width="0.35" opacity="0.45"/>
<line x1="278.0" y1="424.3" x2="278.0" y2="426.8" stroke="#444" stroke-width="0.35" opacity="0.55"/>
<line x1="278.0" y1="447.0" x2="278.0" y2="449.5" stroke="#444" stroke-width="0.35" opacity="0.45"/>
<line x1="279.2" y1="424.3" x2="279.2" y2="428.3" stroke="#444" stroke-width="0.35" opacity="0.55"/>
<line x1="279.2" y1="445.5" x2="279.2" y2="449.5" stroke="#444" stroke-width="0.35" opacity="0.45"/>
<line x1="280.4" y1="424.3" x2="280.4" y2="426.8" stroke="#444" stroke-width="0.35" opacity="0.55"/>
<line x1="280.4" y1="447.0" x2="280.4" y2="449.5" stroke="#444" stroke-width="0.35" opacity="0.45"/>
<line x1="281.6" y1="424.3" x2="281.6" y2="426.8" stroke="#444" stroke-width="0.35" opacity="0.55"/>
<line x1="281.6" y1="447.0" x2="281.6" y2="449.5" stroke="#444" stroke-width="0.35" opacity="0.45"/>
<line x1="282.8" y1="424.3" x2="282.8" y2="426.8" stroke="#444" stroke-width="0.35" opacity="0.55"/>
<line x1="282.8" y1="447.0" x2="282.8" y2="449.5" stroke="#444" stroke-width="0.35" opacity="0.45"/>
<line x1="284.0" y1="424.3" x2="284.0" y2="426.8" stroke="#444" stroke-width="0.35" opacity="0.55"/>
<line x1="284.0" y1="447.0" x2="284.0" y2="449.5" stroke="#444" stroke-width="0.35" opacity="0.45"/>
<line x1="285.1" y1="424.3" x2="285.1" y2="428.3" stroke="#444" stroke-width="0.35" opacity="0.55"/>
<line x1="285.1" y1="445.5" x2="285.1" y2="449.5" stroke="#444" stroke-width="0.35" opacity="0.45"/>
<line x1="286.3" y1="424.3" x2="286.3" y2="426.8" stroke="#444" stroke-width="0.35" opacity="0.55"/>
<line x1="286.3" y1="447.0" x2="286.3" y2="449.5" stroke="#444" stroke-width="0.35" opacity="0.45"/>
<line x1="287.5" y1="424.3" x2="287.5" y2="426.8" stroke="#444" stroke-width="0.35" opacity="0.55"/>
<line x1="287.5" y1="447.0" x2="287.5" y2="449.5" stroke="#444" stroke-width="0.35" opacity="0.45"/>
<line x1="288.7" y1="424.3" x2="288.7" y2="426.8" stroke="#444" stroke-width="0.35" opacity="0.55"/>
<line x1="288.7" y1="447.0" x2="288.7" y2="449.5" stroke="#444" stroke-width="0.35" opacity="0.45"/>
<line x1="289.9" y1="424.3" x2="289.9" y2="426.8" stroke="#444" stroke-width="0.35" opacity="0.55"/>
<line x1="289.9" y1="447.0" x2="289.9" y2="449.5" stroke="#444" stroke-width="0.35" opacity="0.45"/>
<line x1="291.1" y1="424.3" x2="291.1" y2="428.3" stroke="#444" stroke-width="0.35" opacity="0.55"/>
<line x1="291.1" y1="445.5" x2="291.1" y2="449.5" stroke="#444" stroke-width="0.35" opacity="0.45"/>
<line x1="292.3" y1="424.3" x2="292.3" y2="426.8" stroke="#444" stroke-width="0.35" opacity="0.55"/>
<line x1="292.3" y1="447.0" x2="292.3" y2="449.5" stroke="#444" stroke-width="0.35" opacity="0.45"/>
<line x1="293.5" y1="424.3" x2="293.5" y2="426.8" stroke="#444" stroke-width="0.35" opacity="0.55"/>
<line x1="293.5" y1="447.0" x2="293.5" y2="449.5" stroke="#444" stroke-width="0.35" opacity="0.45"/>
<line x1="294.7" y1="424.3" x2="294.7" y2="426.8" stroke="#444" stroke-width="0.35" opacity="0.55"/>
<line x1="294.7" y1="447.0" x2="294.7" y2="449.5" stroke="#444" stroke-width="0.35" opacity="0.45"/>
<line x1="295.9" y1="424.3" x2="295.9" y2="426.8" stroke="#444" stroke-width="0.35" opacity="0.55"/>
<line x1="295.9" y1="447.0" x2="295.9" y2="449.5" stroke="#444" stroke-width="0.35" opacity="0.45"/>
<line x1="297.0" y1="424.3" x2="297.0" y2="428.3" stroke="#444" stroke-width="0.35" opacity="0.55"/>
<line x1="297.0" y1="445.5" x2="297.0" y2="449.5" stroke="#444" stroke-width="0.35" opacity="0.45"/>
<line x1="298.2" y1="424.3" x2="298.2" y2="426.8" stroke="#444" stroke-width="0.35" opacity="0.55"/>
<line x1="298.2" y1="447.0" x2="298.2" y2="449.5" stroke="#444" stroke-width="0.35" opacity="0.45"/>
<line x1="299.4" y1="424.3" x2="299.4" y2="426.8" stroke="#444" stroke-width="0.35" opacity="0.55"/>
<line x1="299.4" y1="447.0" x2="299.4" y2="449.5" stroke="#444" stroke-width="0.35" opacity="0.45"/>
<line x1="300.6" y1="424.3" x2="300.6" y2="426.8" stroke="#444" stroke-width="0.35" opacity="0.55"/>
<line x1="300.6" y1="447.0" x2="300.6" y2="449.5" stroke="#444" stroke-width="0.35" opacity="0.45"/>
<line x1="301.8" y1="424.3" x2="301.8" y2="426.8" stroke="#444" stroke-width="0.35" opacity="0.55"/>
<line x1="301.8" y1="447.0" x2="301.8" y2="449.5" stroke="#444" stroke-width="0.35" opacity="0.45"/>
<line x1="303.0" y1="424.3" x2="303.0" y2="428.3" stroke="#444" stroke-width="0.35" opacity="0.55"/>
<line x1="303.0" y1="445.5" x2="303.0" y2="449.5" stroke="#444" stroke-width="0.35" opacity="0.45"/>
<line x1="304.2" y1="424.3" x2="304.2" y2="426.8" stroke="#444" stroke-width="0.35" opacity="0.55"/>
<line x1="304.2" y1="447.0" x2="304.2" y2="449.5" stroke="#444" stroke-width="0.35" opacity="0.45"/>
<line x1="305.4" y1="424.3" x2="305.4" y2="426.8" stroke="#444" stroke-width="0.35" opacity="0.55"/>
<line x1="305.4" y1="447.0" x2="305.4" y2="449.5" stroke="#444" stroke-width="0.35" opacity="0.45"/>
<line x1="306.6" y1="424.3" x2="306.6" y2="426.8" stroke="#444" stroke-width="0.35" opacity="0.55"/>
<line x1="306.6" y1="447.0" x2="306.6" y2="449.5" stroke="#444" stroke-width="0.35" opacity="0.45"/>
<line x1="307.8" y1="424.3" x2="307.8" y2="426.8" stroke="#444" stroke-width="0.35" opacity="0.55"/>
<line x1="307.8" y1="447.0" x2="307.8" y2="449.5" stroke="#444" stroke-width="0.35" opacity="0.45"/>
<line x1="308.9" y1="424.3" x2="308.9" y2="428.3" stroke="#444" stroke-width="0.35" opacity="0.55"/>
<line x1="308.9" y1="445.5" x2="308.9" y2="449.5" stroke="#444" stroke-width="0.35" opacity="0.45"/>
<line x1="310.1" y1="424.3" x2="310.1" y2="426.8" stroke="#444" stroke-width="0.35" opacity="0.55"/>
<line x1="310.1" y1="447.0" x2="310.1" y2="449.5" stroke="#444" stroke-width="0.35" opacity="0.45"/>
<line x1="311.3" y1="424.3" x2="311.3" y2="426.8" stroke="#444" stroke-width="0.35" opacity="0.55"/>
<line x1="311.3" y1="447.0" x2="311.3" y2="449.5" stroke="#444" stroke-width="0.35" opacity="0.45"/>
<line x1="312.5" y1="424.3" x2="312.5" y2="426.8" stroke="#444" stroke-width="0.35" opacity="0.55"/>
<line x1="312.5" y1="447.0" x2="312.5" y2="449.5" stroke="#444" stroke-width="0.35" opacity="0.45"/>
<line x1="313.7" y1="424.3" x2="313.7" y2="426.8" stroke="#444" stroke-width="0.35" opacity="0.55"/>
<line x1="313.7" y1="447.0" x2="313.7" y2="449.5" stroke="#444" stroke-width="0.35" opacity="0.45"/>
<line x1="314.9" y1="424.3" x2="314.9" y2="428.3" stroke="#444" stroke-width="0.35" opacity="0.55"/>
<line x1="314.9" y1="445.5" x2="314.9" y2="449.5" stroke="#444" stroke-width="0.35" opacity="0.45"/>
<line x1="316.1" y1="424.3" x2="316.1" y2="426.8" stroke="#444" stroke-width="0.35" opacity="0.55"/>
<line x1="316.1" y1="447.0" x2="316.1" y2="449.5" stroke="#444" stroke-width="0.35" opacity="0.45"/>
<line x1="317.3" y1="424.3" x2="317.3" y2="426.8" stroke="#444" stroke-width="0.35" opacity="0.55"/>
<line x1="317.3" y1="447.0" x2="317.3" y2="449.5" stroke="#444" stroke-width="0.35" opacity="0.45"/>
<line x1="318.5" y1="424.3" x2="318.5" y2="426.8" stroke="#444" stroke-width="0.35" opacity="0.55"/>
<line x1="318.5" y1="447.0" x2="318.5" y2="449.5" stroke="#444" stroke-width="0.35" opacity="0.45"/>
<line x1="319.7" y1="424.3" x2="319.7" y2="426.8" stroke="#444" stroke-width="0.35" opacity="0.55"/>
<line x1="319.7" y1="447.0" x2="319.7" y2="449.5" stroke="#444" stroke-width="0.35" opacity="0.45"/>
<line x1="320.9" y1="424.3" x2="320.9" y2="428.3" stroke="#444" stroke-width="0.35" opacity="0.55"/>
<line x1="320.9" y1="445.5" x2="320.9" y2="449.5" stroke="#444" stroke-width="0.35" opacity="0.45"/>
<line x1="322.0" y1="424.3" x2="322.0" y2="426.8" stroke="#444" stroke-width="0.35" opacity="0.55"/>
<line x1="322.0" y1="447.0" x2="322.0" y2="449.5" stroke="#444" stroke-width="0.35" opacity="0.45"/>
<line x1="323.2" y1="424.3" x2="323.2" y2="426.8" stroke="#444" stroke-width="0.35" opacity="0.55"/>
<line x1="323.2" y1="447.0" x2="323.2" y2="449.5" stroke="#444" stroke-width="0.35" opacity="0.45"/>
<line x1="324.4" y1="424.3" x2="324.4" y2="426.8" stroke="#444" stroke-width="0.35" opacity="0.55"/>
<line x1="324.4" y1="447.0" x2="324.4" y2="449.5" stroke="#444" stroke-width="0.35" opacity="0.45"/>
<line x1="325.6" y1="424.3" x2="325.6" y2="426.8" stroke="#444" stroke-width="0.35" opacity="0.55"/>
<line x1="325.6" y1="447.0" x2="325.6" y2="449.5" stroke="#444" stroke-width="0.35" opacity="0.45"/>
<line x1="326.8" y1="424.3" x2="326.8" y2="428.3" stroke="#444" stroke-width="0.35" opacity="0.55"/>
<line x1="326.8" y1="445.5" x2="326.8" y2="449.5" stroke="#444" stroke-width="0.35" opacity="0.45"/>
<line x1="328.0" y1="424.3" x2="328.0" y2="426.8" stroke="#444" stroke-width="0.35" opacity="0.55"/>
<line x1="328.0" y1="447.0" x2="328.0" y2="449.5" stroke="#444" stroke-width="0.35" opacity="0.45"/>
<line x1="329.2" y1="424.3" x2="329.2" y2="426.8" stroke="#444" stroke-width="0.35" opacity="0.55"/>
<line x1="329.2" y1="447.0" x2="329.2" y2="449.5" stroke="#444" stroke-width="0.35" opacity="0.45"/>
<line x1="330.4" y1="424.3" x2="330.4" y2="426.8" stroke="#444" stroke-width="0.35" opacity="0.55"/>
<line x1="330.4" y1="447.0" x2="330.4" y2="449.5" stroke="#444" stroke-width="0.35" opacity="0.45"/>
<line x1="331.6" y1="424.3" x2="331.6" y2="426.8" stroke="#444" stroke-width="0.35" opacity="0.55"/>
<line x1="331.6" y1="447.0" x2="331.6" y2="449.5" stroke="#444" stroke-width="0.35" opacity="0.45"/>
<line x1="332.8" y1="424.3" x2="332.8" y2="428.3" stroke="#444" stroke-width="0.35" opacity="0.55"/>
<line x1="332.8" y1="445.5" x2="332.8" y2="449.5" stroke="#444" stroke-width="0.35" opacity="0.45"/>
<line x1="333.9" y1="424.3" x2="333.9" y2="426.8" stroke="#444" stroke-width="0.35" opacity="0.55"/>
<line x1="333.9" y1="447.0" x2="333.9" y2="449.5" stroke="#444" stroke-width="0.35" opacity="0.45"/>
<line x1="335.1" y1="424.3" x2="335.1" y2="426.8" stroke="#444" stroke-width="0.35" opacity="0.55"/>
<line x1="335.1" y1="447.0" x2="335.1" y2="449.5" stroke="#444" stroke-width="0.35" opacity="0.45"/>
<line x1="336.3" y1="424.3" x2="336.3" y2="426.8" stroke="#444" stroke-width="0.35" opacity="0.55"/>
<line x1="336.3" y1="447.0" x2="336.3" y2="449.5" stroke="#444" stroke-width="0.35" opacity="0.45"/>
<line x1="337.5" y1="424.3" x2="337.5" y2="426.8" stroke="#444" stroke-width="0.35" opacity="0.55"/>
<line x1="337.5" y1="447.0" x2="337.5" y2="449.5" stroke="#444" stroke-width="0.35" opacity="0.45"/>
<line x1="338.7" y1="424.3" x2="338.7" y2="428.3" stroke="#444" stroke-width="0.35" opacity="0.55"/>
<line x1="338.7" y1="445.5" x2="338.7" y2="449.5" stroke="#444" stroke-width="0.35" opacity="0.45"/>
<line x1="339.9" y1="424.3" x2="339.9" y2="426.8" stroke="#444" stroke-width="0.35" opacity="0.55"/>
<line x1="339.9" y1="447.0" x2="339.9" y2="449.5" stroke="#444" stroke-width="0.35" opacity="0.45"/>
<line x1="341.1" y1="424.3" x2="341.1" y2="426.8" stroke="#444" stroke-width="0.35" opacity="0.55"/>
<line x1="341.1" y1="447.0" x2="341.1" y2="449.5" stroke="#444" stroke-width="0.35" opacity="0.45"/>
<line x1="342.3" y1="424.3" x2="342.3" y2="426.8" stroke="#444" stroke-width="0.35" opacity="0.55"/>
<line x1="342.3" y1="447.0" x2="342.3" y2="449.5" stroke="#444" stroke-width="0.35" opacity="0.45"/>
<line x1="343.5" y1="424.3" x2="343.5" y2="426.8" stroke="#444" stroke-width="0.35" opacity="0.55"/>
<line x1="343.5" y1="447.0" x2="343.5" y2="449.5" stroke="#444" stroke-width="0.35" opacity="0.45"/>
<line x1="344.6" y1="424.3" x2="344.6" y2="428.3" stroke="#444" stroke-width="0.35" opacity="0.55"/>
<line x1="344.6" y1="445.5" x2="344.6" y2="449.5" stroke="#444" stroke-width="0.35" opacity="0.45"/>
<line x1="345.8" y1="424.3" x2="345.8" y2="426.8" stroke="#444" stroke-width="0.35" opacity="0.55"/>
<line x1="345.8" y1="447.0" x2="345.8" y2="449.5" stroke="#444" stroke-width="0.35" opacity="0.45"/>
<line x1="347.0" y1="424.3" x2="347.0" y2="426.8" stroke="#444" stroke-width="0.35" opacity="0.55"/>
<line x1="347.0" y1="447.0" x2="347.0" y2="449.5" stroke="#444" stroke-width="0.35" opacity="0.45"/>
<line x1="348.2" y1="424.3" x2="348.2" y2="426.8" stroke="#444" stroke-width="0.35" opacity="0.55"/>
<line x1="348.2" y1="447.0" x2="348.2" y2="449.5" stroke="#444" stroke-width="0.35" opacity="0.45"/>
<line x1="349.4" y1="424.3" x2="349.4" y2="426.8" stroke="#444" stroke-width="0.35" opacity="0.55"/>
<line x1="349.4" y1="447.0" x2="349.4" y2="449.5" stroke="#444" stroke-width="0.35" opacity="0.45"/>
<line x1="350.6" y1="424.3" x2="350.6" y2="428.3" stroke="#444" stroke-width="0.35" opacity="0.55"/>
<line x1="350.6" y1="445.5" x2="350.6" y2="449.5" stroke="#444" stroke-width="0.35" opacity="0.45"/>
<line x1="351.8" y1="424.3" x2="351.8" y2="426.8" stroke="#444" stroke-width="0.35" opacity="0.55"/>
<line x1="351.8" y1="447.0" x2="351.8" y2="449.5" stroke="#444" stroke-width="0.35" opacity="0.45"/>
<line x1="353.0" y1="424.3" x2="353.0" y2="426.8" stroke="#444" stroke-width="0.35" opacity="0.55"/>
<line x1="353.0" y1="447.0" x2="353.0" y2="449.5" stroke="#444" stroke-width="0.35" opacity="0.45"/>
<line x1="354.2" y1="424.3" x2="354.2" y2="426.8" stroke="#444" stroke-width="0.35" opacity="0.55"/>
<line x1="354.2" y1="447.0" x2="354.2" y2="449.5" stroke="#444" stroke-width="0.35" opacity="0.45"/>
<line x1="355.4" y1="424.3" x2="355.4" y2="426.8" stroke="#444" stroke-width="0.35" opacity="0.55"/>
<line x1="355.4" y1="447.0" x2="355.4" y2="449.5" stroke="#444" stroke-width="0.35" opacity="0.45"/>
<line x1="356.5" y1="424.3" x2="356.5" y2="428.3" stroke="#444" stroke-width="0.35" opacity="0.55"/>
<line x1="356.5" y1="445.5" x2="356.5" y2="449.5" stroke="#444" stroke-width="0.35" opacity="0.45"/>
<line x1="357.7" y1="424.3" x2="357.7" y2="426.8" stroke="#444" stroke-width="0.35" opacity="0.55"/>
<line x1="357.7" y1="447.0" x2="357.7" y2="449.5" stroke="#444" stroke-width="0.35" opacity="0.45"/>
<line x1="358.9" y1="424.3" x2="358.9" y2="426.8" stroke="#444" stroke-width="0.35" opacity="0.55"/>
<line x1="358.9" y1="447.0" x2="358.9" y2="449.5" stroke="#444" stroke-width="0.35" opacity="0.45"/>
<line x1="360.1" y1="424.3" x2="360.1" y2="426.8" stroke="#444" stroke-width="0.35" opacity="0.55"/>
<line x1="360.1" y1="447.0" x2="360.1" y2="449.5" stroke="#444" stroke-width="0.35" opacity="0.45"/>
<line x1="361.3" y1="424.3" x2="361.3" y2="426.8" stroke="#444" stroke-width="0.35" opacity="0.55"/>
<line x1="361.3" y1="447.0" x2="361.3" y2="449.5" stroke="#444" stroke-width="0.35" opacity="0.45"/>
<line x1="362.5" y1="424.3" x2="362.5" y2="428.3" stroke="#444" stroke-width="0.35" opacity="0.55"/>
<line x1="362.5" y1="445.5" x2="362.5" y2="449.5" stroke="#444" stroke-width="0.35" opacity="0.45"/>
<line x1="363.7" y1="424.3" x2="363.7" y2="426.8" stroke="#444" stroke-width="0.35" opacity="0.55"/>
<line x1="363.7" y1="447.0" x2="363.7" y2="449.5" stroke="#444" stroke-width="0.35" opacity="0.45"/>
<line x1="364.9" y1="424.3" x2="364.9" y2="426.8" stroke="#444" stroke-width="0.35" opacity="0.55"/>
<line x1="364.9" y1="447.0" x2="364.9" y2="449.5" stroke="#444" stroke-width="0.35" opacity="0.45"/>
<line x1="366.1" y1="424.3" x2="366.1" y2="426.8" stroke="#444" stroke-width="0.35" opacity="0.55"/>
<line x1="366.1" y1="447.0" x2="366.1" y2="449.5" stroke="#444" stroke-width="0.35" opacity="0.45"/>
<line x1="367.3" y1="424.3" x2="367.3" y2="426.8" stroke="#444" stroke-width="0.35" opacity="0.55"/>
<line x1="367.3" y1="447.0" x2="367.3" y2="449.5" stroke="#444" stroke-width="0.35" opacity="0.45"/>
<line x1="368.4" y1="424.3" x2="368.4" y2="428.3" stroke="#444" stroke-width="0.35" opacity="0.55"/>
<line x1="368.4" y1="445.5" x2="368.4" y2="449.5" stroke="#444" stroke-width="0.35" opacity="0.45"/>
<line x1="369.6" y1="424.3" x2="369.6" y2="426.8" stroke="#444" stroke-width="0.35" opacity="0.55"/>
<line x1="369.6" y1="447.0" x2="369.6" y2="449.5" stroke="#444" stroke-width="0.35" opacity="0.45"/>
<line x1="370.8" y1="424.3" x2="370.8" y2="426.8" stroke="#444" stroke-width="0.35" opacity="0.55"/>
<line x1="370.8" y1="447.0" x2="370.8" y2="449.5" stroke="#444" stroke-width="0.35" opacity="0.45"/>
<line x1="372.0" y1="424.3" x2="372.0" y2="426.8" stroke="#444" stroke-width="0.35" opacity="0.55"/>
<line x1="372.0" y1="447.0" x2="372.0" y2="449.5" stroke="#444" stroke-width="0.35" opacity="0.45"/>
<line x1="373.2" y1="424.3" x2="373.2" y2="426.8" stroke="#444" stroke-width="0.35" opacity="0.55"/>
<line x1="373.2" y1="447.0" x2="373.2" y2="449.5" stroke="#444" stroke-width="0.35" opacity="0.45"/>
<line x1="374.4" y1="424.3" x2="374.4" y2="428.3" stroke="#444" stroke-width="0.35" opacity="0.55"/>
<line x1="374.4" y1="445.5" x2="374.4" y2="449.5" stroke="#444" stroke-width="0.35" opacity="0.45"/>
<line x1="375.6" y1="424.3" x2="375.6" y2="426.8" stroke="#444" stroke-width="0.35" opacity="0.55"/>
<line x1="375.6" y1="447.0" x2="375.6" y2="449.5" stroke="#444" stroke-width="0.35" opacity="0.45"/>
<line x1="376.8" y1="424.3" x2="376.8" y2="426.8" stroke="#444" stroke-width="0.35" opacity="0.55"/>
<line x1="376.8" y1="447.0" x2="376.8" y2="449.5" stroke="#444" stroke-width="0.35" opacity="0.45"/>
<line x1="378.0" y1="424.3" x2="378.0" y2="426.8" stroke="#444" stroke-width="0.35" opacity="0.55"/>
<line x1="378.0" y1="447.0" x2="378.0" y2="449.5" stroke="#444" stroke-width="0.35" opacity="0.45"/>
<line x1="379.2" y1="424.3" x2="379.2" y2="426.8" stroke="#444" stroke-width="0.35" opacity="0.55"/>
<line x1="379.2" y1="447.0" x2="379.2" y2="449.5" stroke="#444" stroke-width="0.35" opacity="0.45"/>
<line x1="380.4" y1="424.3" x2="380.4" y2="428.3" stroke="#444" stroke-width="0.35" opacity="0.55"/>
<line x1="380.4" y1="445.5" x2="380.4" y2="449.5" stroke="#444" stroke-width="0.35" opacity="0.45"/>
<line x1="381.5" y1="424.3" x2="381.5" y2="426.8" stroke="#444" stroke-width="0.35" opacity="0.55"/>
<line x1="381.5" y1="447.0" x2="381.5" y2="449.5" stroke="#444" stroke-width="0.35" opacity="0.45"/>
<line x1="382.7" y1="424.3" x2="382.7" y2="426.8" stroke="#444" stroke-width="0.35" opacity="0.55"/>
<line x1="382.7" y1="447.0" x2="382.7" y2="449.5" stroke="#444" stroke-width="0.35" opacity="0.45"/>
<line x1="383.9" y1="424.3" x2="383.9" y2="426.8" stroke="#444" stroke-width="0.35" opacity="0.55"/>
<line x1="383.9" y1="447.0" x2="383.9" y2="449.5" stroke="#444" stroke-width="0.35" opacity="0.45"/>
<line x1="385.1" y1="424.3" x2="385.1" y2="426.8" stroke="#444" stroke-width="0.35" opacity="0.55"/>
<line x1="385.1" y1="447.0" x2="385.1" y2="449.5" stroke="#444" stroke-width="0.35" opacity="0.45"/>
<line x1="386.3" y1="424.3" x2="386.3" y2="428.3" stroke="#444" stroke-width="0.35" opacity="0.55"/>
<line x1="386.3" y1="445.5" x2="386.3" y2="449.5" stroke="#444" stroke-width="0.35" opacity="0.45"/>
<line x1="387.5" y1="424.3" x2="387.5" y2="426.8" stroke="#444" stroke-width="0.35" opacity="0.55"/>
<line x1="387.5" y1="447.0" x2="387.5" y2="449.5" stroke="#444" stroke-width="0.35" opacity="0.45"/>
<line x1="388.7" y1="424.3" x2="388.7" y2="426.8" stroke="#444" stroke-width="0.35" opacity="0.55"/>
<line x1="388.7" y1="447.0" x2="388.7" y2="449.5" stroke="#444" stroke-width="0.35" opacity="0.45"/>
<line x1="389.9" y1="424.3" x2="389.9" y2="426.8" stroke="#444" stroke-width="0.35" opacity="0.55"/>
<line x1="389.9" y1="447.0" x2="389.9" y2="449.5" stroke="#444" stroke-width="0.35" opacity="0.45"/>
<line x1="391.1" y1="424.3" x2="391.1" y2="426.8" stroke="#444" stroke-width="0.35" opacity="0.55"/>
<line x1="391.1" y1="447.0" x2="391.1" y2="449.5" stroke="#444" stroke-width="0.35" opacity="0.45"/>
<line x1="392.2" y1="424.3" x2="392.2" y2="428.3" stroke="#444" stroke-width="0.35" opacity="0.55"/>
<line x1="392.2" y1="445.5" x2="392.2" y2="449.5" stroke="#444" stroke-width="0.35" opacity="0.45"/>
<line x1="393.4" y1="424.3" x2="393.4" y2="426.8" stroke="#444" stroke-width="0.35" opacity="0.55"/>
<line x1="393.4" y1="447.0" x2="393.4" y2="449.5" stroke="#444" stroke-width="0.35" opacity="0.45"/>
<line x1="394.6" y1="424.3" x2="394.6" y2="426.8" stroke="#444" stroke-width="0.35" opacity="0.55"/>
<line x1="394.6" y1="447.0" x2="394.6" y2="449.5" stroke="#444" stroke-width="0.35" opacity="0.45"/>
<line x1="395.8" y1="424.3" x2="395.8" y2="426.8" stroke="#444" stroke-width="0.35" opacity="0.55"/>
<line x1="395.8" y1="447.0" x2="395.8" y2="449.5" stroke="#444" stroke-width="0.35" opacity="0.45"/>
<line x1="397.0" y1="424.3" x2="397.0" y2="426.8" stroke="#444" stroke-width="0.35" opacity="0.55"/>
<line x1="397.0" y1="447.0" x2="397.0" y2="449.5" stroke="#444" stroke-width="0.35" opacity="0.45"/>
<line x1="398.2" y1="424.3" x2="398.2" y2="428.3" stroke="#444" stroke-width="0.35" opacity="0.55"/>
<line x1="398.2" y1="445.5" x2="398.2" y2="449.5" stroke="#444" stroke-width="0.35" opacity="0.45"/>
<line x1="399.4" y1="424.3" x2="399.4" y2="426.8" stroke="#444" stroke-width="0.35" opacity="0.55"/>
<line x1="399.4" y1="447.0" x2="399.4" y2="449.5" stroke="#444" stroke-width="0.35" opacity="0.45"/>
<line x1="400.6" y1="424.3" x2="400.6" y2="426.8" stroke="#444" stroke-width="0.35" opacity="0.55"/>
<line x1="400.6" y1="447.0" x2="400.6" y2="449.5" stroke="#444" stroke-width="0.35" opacity="0.45"/>
<line x1="401.8" y1="424.3" x2="401.8" y2="426.8" stroke="#444" stroke-width="0.35" opacity="0.55"/>
<line x1="401.8" y1="447.0" x2="401.8" y2="449.5" stroke="#444" stroke-width="0.35" opacity="0.45"/>
<line x1="403.0" y1="424.3" x2="403.0" y2="426.8" stroke="#444" stroke-width="0.35" opacity="0.55"/>
<line x1="403.0" y1="447.0" x2="403.0" y2="449.5" stroke="#444" stroke-width="0.35" opacity="0.45"/>
<line x1="404.1" y1="424.3" x2="404.1" y2="428.3" stroke="#444" stroke-width="0.35" opacity="0.55"/>
<line x1="404.1" y1="445.5" x2="404.1" y2="449.5" stroke="#444" stroke-width="0.35" opacity="0.45"/>
<line x1="405.3" y1="424.3" x2="405.3" y2="426.8" stroke="#444" stroke-width="0.35" opacity="0.55"/>
<line x1="405.3" y1="447.0" x2="405.3" y2="449.5" stroke="#444" stroke-width="0.35" opacity="0.45"/>
<line x1="406.5" y1="424.3" x2="406.5" y2="426.8" stroke="#444" stroke-width="0.35" opacity="0.55"/>
<line x1="406.5" y1="447.0" x2="406.5" y2="449.5" stroke="#444" stroke-width="0.35" opacity="0.45"/>
<line x1="407.7" y1="424.3" x2="407.7" y2="426.8" stroke="#444" stroke-width="0.35" opacity="0.55"/>
<line x1="407.7" y1="447.0" x2="407.7" y2="449.5" stroke="#444" stroke-width="0.35" opacity="0.45"/>
<line x1="408.9" y1="424.3" x2="408.9" y2="426.8" stroke="#444" stroke-width="0.35" opacity="0.55"/>
<line x1="408.9" y1="447.0" x2="408.9" y2="449.5" stroke="#444" stroke-width="0.35" opacity="0.45"/>
<line x1="410.1" y1="424.3" x2="410.1" y2="428.3" stroke="#444" stroke-width="0.35" opacity="0.55"/>
<line x1="410.1" y1="445.5" x2="410.1" y2="449.5" stroke="#444" stroke-width="0.35" opacity="0.45"/>
<line x1="411.3" y1="424.3" x2="411.3" y2="426.8" stroke="#444" stroke-width="0.35" opacity="0.55"/>
<line x1="411.3" y1="447.0" x2="411.3" y2="449.5" stroke="#444" stroke-width="0.35" opacity="0.45"/>
<line x1="412.5" y1="424.3" x2="412.5" y2="426.8" stroke="#444" stroke-width="0.35" opacity="0.55"/>
<line x1="412.5" y1="447.0" x2="412.5" y2="449.5" stroke="#444" stroke-width="0.35" opacity="0.45"/>
<line x1="413.7" y1="424.3" x2="413.7" y2="426.8" stroke="#444" stroke-width="0.35" opacity="0.55"/>
<line x1="413.7" y1="447.0" x2="413.7" y2="449.5" stroke="#444" stroke-width="0.35" opacity="0.45"/>
<line x1="414.9" y1="424.3" x2="414.9" y2="426.8" stroke="#444" stroke-width="0.35" opacity="0.55"/>
<line x1="414.9" y1="447.0" x2="414.9" y2="449.5" stroke="#444" stroke-width="0.35" opacity="0.45"/>
<line x1="416.1" y1="424.3" x2="416.1" y2="428.3" stroke="#444" stroke-width="0.35" opacity="0.55"/>
<line x1="416.1" y1="445.5" x2="416.1" y2="449.5" stroke="#444" stroke-width="0.35" opacity="0.45"/>
<line x1="417.2" y1="424.3" x2="417.2" y2="426.8" stroke="#444" stroke-width="0.35" opacity="0.55"/>
<line x1="417.2" y1="447.0" x2="417.2" y2="449.5" stroke="#444" stroke-width="0.35" opacity="0.45"/>
<line x1="418.4" y1="424.3" x2="418.4" y2="426.8" stroke="#444" stroke-width="0.35" opacity="0.55"/>
<line x1="418.4" y1="447.0" x2="418.4" y2="449.5" stroke="#444" stroke-width="0.35" opacity="0.45"/>
<line x1="419.6" y1="424.3" x2="419.6" y2="426.8" stroke="#444" stroke-width="0.35" opacity="0.55"/>
<line x1="419.6" y1="447.0" x2="419.6" y2="449.5" stroke="#444" stroke-width="0.35" opacity="0.45"/>
<line x1="420.8" y1="424.3" x2="420.8" y2="426.8" stroke="#444" stroke-width="0.35" opacity="0.55"/>
<line x1="420.8" y1="447.0" x2="420.8" y2="449.5" stroke="#444" stroke-width="0.35" opacity="0.45"/>
<line x1="422.0" y1="424.3" x2="422.0" y2="428.3" stroke="#444" stroke-width="0.35" opacity="0.55"/>
<line x1="422.0" y1="445.5" x2="422.0" y2="449.5" stroke="#444" stroke-width="0.35" opacity="0.45"/>
<line x1="423.2" y1="424.3" x2="423.2" y2="426.8" stroke="#444" stroke-width="0.35" opacity="0.55"/>
<line x1="423.2" y1="447.0" x2="423.2" y2="449.5" stroke="#444" stroke-width="0.35" opacity="0.45"/>
<line x1="424.4" y1="424.3" x2="424.4" y2="426.8" stroke="#444" stroke-width="0.35" opacity="0.55"/>
<line x1="424.4" y1="447.0" x2="424.4" y2="449.5" stroke="#444" stroke-width="0.35" opacity="0.45"/>
<line x1="425.6" y1="424.3" x2="425.6" y2="426.8" stroke="#444" stroke-width="0.35" opacity="0.55"/>
<line x1="425.6" y1="447.0" x2="425.6" y2="449.5" stroke="#444" stroke-width="0.35" opacity="0.45"/>
<line x1="426.8" y1="424.3" x2="426.8" y2="426.8" stroke="#444" stroke-width="0.35" opacity="0.55"/>
<line x1="426.8" y1="447.0" x2="426.8" y2="449.5" stroke="#444" stroke-width="0.35" opacity="0.45"/>
<line x1="427.9" y1="424.3" x2="427.9" y2="428.3" stroke="#444" stroke-width="0.35" opacity="0.55"/>
<line x1="427.9" y1="445.5" x2="427.9" y2="449.5" stroke="#444" stroke-width="0.35" opacity="0.45"/>
<line x1="429.1" y1="424.3" x2="429.1" y2="426.8" stroke="#444" stroke-width="0.35" opacity="0.55"/>
<line x1="429.1" y1="447.0" x2="429.1" y2="449.5" stroke="#444" stroke-width="0.35" opacity="0.45"/>
<line x1="430.3" y1="424.3" x2="430.3" y2="426.8" stroke="#444" stroke-width="0.35" opacity="0.55"/>
<line x1="430.3" y1="447.0" x2="430.3" y2="449.5" stroke="#444" stroke-width="0.35" opacity="0.45"/>
<line x1="431.5" y1="424.3" x2="431.5" y2="426.8" stroke="#444" stroke-width="0.35" opacity="0.55"/>
<line x1="431.5" y1="447.0" x2="431.5" y2="449.5" stroke="#444" stroke-width="0.35" opacity="0.45"/>
<text x="134.0" y="441.6" font-size="10" fill="#1e1e1e" font-family='"Liberation Sans", sans-serif' text-anchor="middle" opacity="0.85">1</text>
<text x="145.9" y="441.6" font-size="10" fill="#1e1e1e" font-family='"Liberation Sans", sans-serif' text-anchor="middle" opacity="0.85">2</text>
<text x="158.5" y="441.6" font-size="10" fill="#1e1e1e" font-family='"Liberation Sans", sans-serif' text-anchor="middle" opacity="0.45">3</text>
<text x="170.0" y="441.6" font-size="10" fill="#1e1e1e" font-family='"Liberation Sans", sans-serif' text-anchor="middle" opacity="0.45">4</text>
<text x="182.6" y="441.6" font-size="10" fill="#1e1e1e" font-family='"Liberation Sans", sans-serif' text-anchor="middle" opacity="0.85">5</text>
<text x="194.6" y="441.6" font-size="10" fill="#1e1e1e" font-family='"Liberation Sans", sans-serif' text-anchor="middle" opacity="0.85">6</text>
<text x="206.7" y="441.6" font-size="10" fill="#1e1e1e" font-family='"Liberation Sans", sans-serif' text-anchor="middle" opacity="0.85">7</text>
<text x="218.2" y="441.6" font-size="10" fill="#1e1e1e" font-family='"Liberation Sans", sans-serif' text-anchor="middle" opacity="0.85">8</text>
<text x="230.9" y="441.6" font-size="10" fill="#1e1e1e" font-family='"Liberation Sans", sans-serif' text-anchor="middle" opacity="0.85">9</text>
<text x="243.5" y="441.6" font-size="10" fill="#5a2030" font-family='"Liberation Sans", sans-serif' text-anchor="middle" opacity="0.85">10</text>
<text x="253.8" y="441.6" font-size="10" fill="#1e1e1e" font-family='"Liberation Sans", sans-serif' text-anchor="middle" opacity="0.85">1</text>
<text x="265.5" y="441.6" font-size="10" fill="#1e1e1e" font-family='"Liberation Sans", sans-serif' text-anchor="middle" opacity="0.85">2</text>
<text x="277.9" y="441.6" font-size="10" fill="#1e1e1e" font-family='"Liberation Sans", sans-serif' text-anchor="middle" opacity="0.85">3</text>
<text x="288.7" y="441.6" font-size="10" fill="#1e1e1e" font-family='"Liberation Sans", sans-serif' text-anchor="middle" opacity="0.85">4</text>
<text x="301.3" y="441.6" font-size="10" fill="#1e1e1e" font-family='"Liberation Sans", sans-serif' text-anchor="middle" opacity="0.85">5</text>
<text x="312.8" y="441.6" font-size="10" fill="#1e1e1e" font-family='"Liberation Sans", sans-serif' text-anchor="middle" opacity="0.85">6</text>
<text x="324.3" y="441.6" font-size="10" fill="#1e1e1e" font-family='"Liberation Sans", sans-serif' text-anchor="middle" opacity="0.85">7</text>
<text x="335.8" y="441.6" font-size="10" fill="#1e1e1e" font-family='"Liberation Sans", sans-serif' text-anchor="middle" opacity="0.85">8</text>
<text x="347.2" y="441.6" font-size="10" fill="#1e1e1e" font-family='"Liberation Sans", sans-serif' text-anchor="middle" opacity="0.85">9</text>
<text x="359.2" y="441.6" font-size="10" fill="#5a2030" font-family='"Liberation Sans", sans-serif' text-anchor="middle" opacity="0.85">20</text>
<text x="370.2" y="441.6" font-size="10" fill="#1e1e1e" font-family='"Liberation Sans", sans-serif' text-anchor="middle" opacity="0.85">1</text>
<text x="381.7" y="441.6" font-size="10" fill="#1e1e1e" font-family='"Liberation Sans", sans-serif' text-anchor="middle" opacity="0.85">2</text>
<text x="393.1" y="441.6" font-size="10" fill="#1e1e1e" font-family='"Liberation Sans", sans-serif' text-anchor="middle" opacity="0.85">3</text>
<text x="403.5" y="441.6" font-size="10" fill="#1e1e1e" font-family='"Liberation Sans", sans-serif' text-anchor="middle" opacity="0.85">4</text>
<text x="415.6" y="441.6" font-size="10" fill="#1e1e1e" font-family='"Liberation Sans", sans-serif' text-anchor="middle" opacity="0.85">5</text>
<text x="427.6" y="441.6" font-size="10" fill="#1e1e1e" font-family='"Liberation Sans", sans-serif' text-anchor="middle" opacity="0.85">6</text>
<g filter="url(#soft)"><path d="M143.8,371.0 C143.6,372.2 143.2,373.3 142.7,374.3 C142.1,375.3 141.2,376.2 140.2,377.0 C139.3,377.8 138.2,378.8 137.0,379.2 C135.8,379.5 134.1,379.4 132.8,379.1 C131.6,378.7 130.5,377.9 129.3,377.2 C128.2,376.5 126.7,375.9 125.9,374.9 C125.2,373.8 125.1,372.3 125.0,371.0 C124.9,369.7 124.9,368.2 125.5,367.0 C126.1,365.8 127.3,364.5 128.5,363.8 C129.7,363.2 131.4,363.4 132.9,363.0 C134.3,362.7 135.8,361.8 137.2,361.9 C138.6,362.1 140.1,363.1 141.2,363.9 C142.4,364.8 143.7,365.9 144.1,367.0 C144.5,368.2 144.0,369.8 143.8,371.0 Z" fill="#6a281c"/><path d="M139.4,377.5 C139.5,378.1 139.0,378.9 138.6,379.5 C138.3,380.2 137.8,380.8 137.2,381.2 C136.6,381.6 135.8,381.9 135.0,382.0 C134.3,382.1 133.6,381.8 132.8,381.7 C132.1,381.5 131.3,381.5 130.7,381.1 C130.1,380.8 129.7,380.1 129.4,379.5 C129.0,378.9 128.4,378.1 128.5,377.5 C128.6,376.9 129.3,376.3 129.7,375.7 C130.1,375.1 130.3,374.5 130.8,374.0 C131.4,373.6 132.1,373.3 132.8,373.1 C133.5,372.9 134.4,372.8 135.1,372.9 C135.8,373.1 136.5,373.6 136.9,374.1 C137.4,374.5 137.6,375.2 138.0,375.7 C138.4,376.3 139.3,376.9 139.4,377.5 Z" fill="#6a281c"/><path d="M142.6,371.0 C142.4,372.0 142.1,373.0 141.6,373.8 C141.1,374.7 140.3,375.4 139.5,376.1 C138.7,376.8 137.8,377.6 136.7,377.9 C135.6,378.2 134.2,378.1 133.1,377.8 C132.0,377.6 131.1,376.9 130.1,376.3 C129.1,375.7 127.8,375.2 127.2,374.3 C126.5,373.4 126.4,372.1 126.4,371.0 C126.3,369.9 126.3,368.6 126.8,367.6 C127.3,366.6 128.3,365.5 129.4,364.9 C130.4,364.4 131.9,364.5 133.1,364.3 C134.4,364.0 135.7,363.2 136.9,363.3 C138.1,363.4 139.4,364.3 140.3,365.0 C141.3,365.7 142.5,366.6 142.8,367.6 C143.2,368.6 142.8,370.0 142.6,371.0 Z" fill="#874029"/><path d="M138.0,377.5 C138.0,378.0 137.7,378.5 137.4,379.0 C137.1,379.4 136.8,379.9 136.3,380.2 C135.9,380.4 135.3,380.6 134.7,380.7 C134.2,380.8 133.7,380.6 133.1,380.5 C132.6,380.4 131.9,380.3 131.5,380.1 C131.1,379.8 130.8,379.3 130.6,378.9 C130.3,378.5 129.9,377.9 129.9,377.5 C129.9,377.1 130.5,376.6 130.8,376.2 C131.1,375.8 131.3,375.3 131.6,375.0 C132.0,374.7 132.6,374.5 133.1,374.4 C133.6,374.3 134.2,374.1 134.8,374.2 C135.3,374.4 135.8,374.7 136.2,375.1 C136.5,375.4 136.6,375.8 136.9,376.2 C137.2,376.7 137.9,377.0 138.0,377.5 Z" fill="#874029"/><circle cx="136.5" cy="366.3" r="1.5" fill="#a8643f" opacity="0.75"/><circle cx="137.6" cy="374.4" r="1.5" fill="#b06c48" opacity="0.75"/><circle cx="130.1" cy="366.2" r="1.8" fill="#9e5838" opacity="0.75"/><circle cx="136.4" cy="370.2" r="1.4" fill="#5e2018" opacity="0.75"/><circle cx="139.5" cy="365.8" r="1.7" fill="#a8643f" opacity="0.75"/><circle cx="133.8" cy="378.3" r="2.0" fill="#9e5838" opacity="0.75"/><circle cx="132.5" cy="379.0" r="1.3" fill="#b06c48" opacity="0.75"/><circle cx="135.6" cy="376.0" r="2.3" fill="#b06c48" opacity="0.75"/><circle cx="134.1" cy="375.6" r="2.4" fill="#a8643f" opacity="0.75"/><circle cx="136.6" cy="378.0" r="1.3" fill="#a8643f" opacity="0.75"/></g>
<g filter="url(#soft)"><path d="M162.6,367.0 C162.7,368.0 162.5,369.2 162.1,370.1 C161.7,371.0 160.9,371.7 160.2,372.2 C159.5,372.6 158.6,372.6 157.8,372.7 C157.0,372.8 156.3,373.0 155.6,372.8 C154.9,372.7 154.1,372.3 153.5,371.8 C152.8,371.3 151.9,370.7 151.6,369.9 C151.3,369.1 151.5,367.9 151.6,367.0 C151.6,366.1 151.6,365.0 151.9,364.3 C152.2,363.5 153.0,363.1 153.6,362.4 C154.2,361.7 154.6,360.3 155.4,360.1 C156.1,359.8 157.1,360.5 157.9,360.8 C158.7,361.1 159.5,361.4 160.1,362.0 C160.7,362.5 161.3,363.3 161.7,364.2 C162.1,365.0 162.6,366.0 162.6,367.0 Z" fill="#6a281c"/><path d="M161.8,376.5 C161.7,377.6 161.9,378.7 161.5,379.6 C161.2,380.5 160.3,381.1 159.6,381.8 C158.9,382.4 158.1,383.2 157.3,383.5 C156.4,383.8 155.4,383.6 154.5,383.4 C153.6,383.3 152.5,383.1 151.8,382.4 C151.1,381.7 150.9,380.5 150.5,379.5 C150.1,378.5 149.3,377.5 149.2,376.5 C149.1,375.5 149.7,374.2 150.1,373.3 C150.6,372.4 151.2,371.4 152.0,370.9 C152.7,370.3 153.7,370.1 154.6,369.8 C155.5,369.5 156.6,368.8 157.4,369.0 C158.2,369.3 158.7,370.7 159.4,371.4 C160.2,372.1 161.5,372.4 161.8,373.2 C162.2,374.1 161.8,375.4 161.8,376.5 Z" fill="#6a281c"/><path d="M161.2,367.0 C161.3,367.8 161.2,368.8 160.9,369.5 C160.5,370.2 159.9,370.8 159.4,371.1 C158.8,371.5 158.1,371.5 157.5,371.6 C157.0,371.7 156.4,371.8 155.8,371.6 C155.3,371.5 154.7,371.2 154.2,370.8 C153.7,370.5 153.1,370.0 152.8,369.3 C152.6,368.7 152.7,367.7 152.8,367.0 C152.8,366.3 152.8,365.4 153.0,364.8 C153.3,364.2 153.9,363.9 154.3,363.3 C154.8,362.8 155.1,361.7 155.7,361.5 C156.2,361.3 157.0,361.8 157.6,362.1 C158.2,362.3 158.8,362.5 159.3,363.0 C159.8,363.4 160.2,364.1 160.5,364.7 C160.8,365.4 161.2,366.2 161.2,367.0 Z" fill="#874029"/><path d="M160.5,376.5 C160.5,377.4 160.6,378.3 160.3,379.0 C160.1,379.8 159.4,380.3 158.8,380.8 C158.2,381.3 157.7,382.0 157.0,382.2 C156.3,382.4 155.5,382.3 154.8,382.1 C154.1,382.0 153.2,381.8 152.7,381.3 C152.1,380.8 152.0,379.7 151.7,378.9 C151.3,378.1 150.7,377.3 150.6,376.5 C150.6,375.7 151.0,374.7 151.3,373.9 C151.7,373.1 152.2,372.4 152.8,371.9 C153.4,371.4 154.1,371.3 154.9,371.1 C155.6,370.8 156.4,370.2 157.1,370.4 C157.7,370.6 158.1,371.8 158.7,372.4 C159.3,372.9 160.3,373.1 160.6,373.8 C160.9,374.5 160.6,375.6 160.5,376.5 Z" fill="#874029"/><circle cx="153.5" cy="365.1" r="2.1" fill="#5e2018" opacity="0.75"/><circle cx="154.3" cy="364.5" r="1.6" fill="#6e2a1c" opacity="0.75"/><circle cx="159.8" cy="366.3" r="2.0" fill="#6e2a1c" opacity="0.75"/><circle cx="154.2" cy="366.4" r="1.8" fill="#5e2018" opacity="0.75"/><circle cx="158.0" cy="368.0" r="2.6" fill="#a8643f" opacity="0.75"/><circle cx="152.7" cy="376.1" r="2.3" fill="#6e2a1c" opacity="0.75"/><circle cx="154.1" cy="378.2" r="2.0" fill="#9e5838" opacity="0.75"/><circle cx="159.5" cy="373.3" r="1.6" fill="#a8643f" opacity="0.75"/><circle cx="159.1" cy="373.7" r="1.6" fill="#a8643f" opacity="0.75"/><circle cx="159.5" cy="379.5" r="2.3" fill="#b06c48" opacity="0.75"/></g>
<g filter="url(#soft)"><path d="M182.8,366.5 C182.7,367.4 182.3,368.3 181.9,369.1 C181.5,369.9 181.2,370.7 180.5,371.4 C179.9,372.0 179.0,372.8 178.2,372.9 C177.4,373.1 176.4,372.6 175.5,372.2 C174.7,371.9 174.1,371.5 173.4,371.0 C172.7,370.5 171.8,370.0 171.4,369.2 C171.0,368.5 171.0,367.4 171.1,366.5 C171.1,365.6 171.3,364.8 171.6,363.9 C171.8,363.0 172.1,361.7 172.7,361.2 C173.4,360.6 174.6,360.8 175.5,360.7 C176.4,360.6 177.3,360.3 178.1,360.4 C179.0,360.6 179.9,361.0 180.6,361.6 C181.3,362.1 182.0,362.9 182.3,363.7 C182.7,364.5 182.8,365.6 182.8,366.5 Z" fill="#6a281c"/><path d="M181.8,376.0 C181.7,376.9 181.2,377.8 180.8,378.6 C180.4,379.5 180.0,380.4 179.3,381.0 C178.6,381.6 177.7,382.1 176.8,382.5 C175.8,382.8 174.6,383.3 173.7,383.2 C172.7,383.0 171.6,382.3 170.9,381.5 C170.2,380.8 170.0,379.7 169.6,378.8 C169.1,377.8 168.4,377.0 168.2,376.0 C168.1,375.0 168.2,373.7 168.7,372.8 C169.3,372.0 170.6,371.8 171.4,371.1 C172.2,370.5 172.8,369.3 173.7,368.9 C174.6,368.6 175.9,368.6 176.9,368.8 C178.0,369.0 179.1,369.6 179.8,370.3 C180.6,371.0 181.2,372.1 181.5,373.0 C181.8,374.0 181.9,375.1 181.8,376.0 Z" fill="#6a281c"/><path d="M181.5,366.5 C181.4,367.2 181.1,367.9 180.8,368.5 C180.5,369.2 180.2,369.9 179.7,370.4 C179.2,370.9 178.6,371.5 177.9,371.6 C177.2,371.7 176.4,371.3 175.8,371.0 C175.2,370.8 174.7,370.5 174.1,370.1 C173.6,369.7 172.9,369.2 172.6,368.7 C172.3,368.1 172.3,367.2 172.3,366.5 C172.3,365.8 172.5,365.1 172.7,364.4 C172.9,363.7 173.1,362.7 173.6,362.3 C174.1,361.9 175.1,362.0 175.8,361.9 C176.5,361.8 177.2,361.6 177.8,361.7 C178.5,361.8 179.2,362.1 179.8,362.6 C180.3,363.0 180.9,363.6 181.1,364.3 C181.4,365.0 181.5,365.8 181.5,366.5 Z" fill="#874029"/><path d="M180.6,376.0 C180.5,376.8 180.1,377.5 179.7,378.1 C179.4,378.8 179.1,379.5 178.5,380.0 C178.0,380.5 177.2,380.9 176.5,381.2 C175.7,381.5 174.8,381.9 174.0,381.8 C173.2,381.7 172.3,381.1 171.7,380.5 C171.2,379.9 171.0,379.0 170.7,378.2 C170.3,377.5 169.7,376.8 169.6,376.0 C169.5,375.2 169.6,374.1 170.0,373.5 C170.4,372.8 171.5,372.6 172.2,372.1 C172.8,371.5 173.3,370.6 174.0,370.3 C174.7,370.0 175.8,370.0 176.6,370.2 C177.5,370.4 178.4,370.8 179.0,371.4 C179.6,372.0 180.0,372.8 180.3,373.6 C180.6,374.4 180.7,375.2 180.6,376.0 Z" fill="#874029"/><circle cx="180.1" cy="369.5" r="2.0" fill="#9e5838" opacity="0.75"/><circle cx="177.4" cy="368.8" r="1.9" fill="#5e2018" opacity="0.75"/><circle cx="176.3" cy="365.1" r="1.6" fill="#9e5838" opacity="0.75"/><circle cx="178.7" cy="363.1" r="2.6" fill="#b06c48" opacity="0.75"/><circle cx="180.1" cy="366.8" r="2.1" fill="#5e2018" opacity="0.75"/><circle cx="171.5" cy="378.4" r="1.7" fill="#9e5838" opacity="0.75"/><circle cx="175.5" cy="373.4" r="1.7" fill="#5e2018" opacity="0.75"/><circle cx="173.6" cy="380.1" r="2.6" fill="#6e2a1c" opacity="0.75"/><circle cx="178.1" cy="376.4" r="1.4" fill="#a8643f" opacity="0.75"/><circle cx="173.2" cy="380.0" r="1.5" fill="#b06c48" opacity="0.75"/></g>
<g filter="url(#soft)"><path d="M205.2,368.5 C205.3,369.4 204.7,370.4 204.2,371.2 C203.6,372.0 203.0,373.0 202.2,373.4 C201.3,373.9 200.1,373.7 199.0,373.9 C198.0,374.2 197.0,374.9 195.9,374.8 C194.9,374.8 193.7,374.2 192.9,373.6 C192.0,373.0 191.3,372.2 190.8,371.3 C190.3,370.5 190.1,369.4 190.1,368.5 C190.1,367.6 190.4,366.6 190.8,365.7 C191.3,364.8 192.0,364.0 192.8,363.4 C193.7,362.8 194.9,362.2 195.9,362.2 C196.9,362.1 198.0,362.8 199.0,363.1 C200.0,363.4 201.1,363.4 201.9,363.8 C202.7,364.3 203.4,365.1 203.9,365.9 C204.5,366.7 205.2,367.6 205.2,368.5 Z" fill="#6a281c"/><path d="M203.3,376.5 C203.2,377.3 203.3,378.1 203.0,378.8 C202.7,379.5 202.1,380.2 201.4,380.7 C200.7,381.2 199.9,381.7 199.0,381.9 C198.1,382.2 197.1,382.3 196.1,382.2 C195.2,382.0 194.1,381.7 193.4,381.1 C192.8,380.5 192.5,379.5 192.3,378.8 C192.0,378.0 191.7,377.3 191.7,376.5 C191.7,375.7 191.7,374.9 192.0,374.1 C192.3,373.4 192.8,372.4 193.5,371.9 C194.2,371.5 195.3,371.5 196.3,371.3 C197.2,371.1 198.2,370.7 199.1,370.8 C200.0,370.9 201.0,371.4 201.8,371.9 C202.5,372.4 203.3,373.2 203.5,374.0 C203.8,374.8 203.4,375.7 203.3,376.5 Z" fill="#6a281c"/><path d="M203.8,368.5 C203.9,369.2 203.3,370.0 202.9,370.6 C202.5,371.3 202.0,372.0 201.3,372.4 C200.6,372.7 199.6,372.6 198.8,372.8 C197.9,372.9 197.1,373.5 196.2,373.4 C195.4,373.4 194.4,373.0 193.7,372.5 C193.0,372.0 192.4,371.4 192.1,370.7 C191.7,370.0 191.5,369.2 191.5,368.5 C191.5,367.8 191.7,367.0 192.1,366.3 C192.4,365.6 193.0,364.9 193.7,364.5 C194.4,364.0 195.4,363.6 196.2,363.5 C197.1,363.5 197.9,364.1 198.8,364.3 C199.6,364.5 200.5,364.5 201.1,364.9 C201.8,365.2 202.3,365.9 202.7,366.5 C203.2,367.1 203.8,367.8 203.8,368.5 Z" fill="#874029"/><path d="M202.1,376.5 C202.0,377.1 202.1,377.7 201.9,378.2 C201.6,378.8 201.1,379.3 200.6,379.7 C200.1,380.1 199.4,380.5 198.7,380.7 C198.0,380.8 197.2,380.9 196.4,380.8 C195.7,380.7 194.8,380.4 194.3,380.0 C193.8,379.6 193.6,378.8 193.4,378.2 C193.1,377.6 193.0,377.1 192.9,376.5 C192.9,375.9 193.0,375.3 193.2,374.7 C193.4,374.1 193.8,373.4 194.3,373.0 C194.9,372.7 195.8,372.7 196.5,372.6 C197.3,372.4 198.0,372.1 198.8,372.1 C199.5,372.2 200.3,372.6 200.9,373.0 C201.5,373.4 202.1,374.0 202.3,374.6 C202.5,375.2 202.2,375.9 202.1,376.5 Z" fill="#874029"/><circle cx="198.7" cy="369.2" r="1.8" fill="#5e2018" opacity="0.75"/><circle cx="200.3" cy="371.5" r="1.8" fill="#5e2018" opacity="0.75"/><circle cx="200.6" cy="370.7" r="2.2" fill="#6e2a1c" opacity="0.75"/><circle cx="198.4" cy="369.3" r="2.3" fill="#9e5838" opacity="0.75"/><circle cx="198.8" cy="365.6" r="1.5" fill="#6e2a1c" opacity="0.75"/><circle cx="198.4" cy="378.6" r="2.6" fill="#9e5838" opacity="0.75"/><circle cx="201.0" cy="379.7" r="1.9" fill="#6e2a1c" opacity="0.75"/><circle cx="196.4" cy="379.5" r="1.9" fill="#5e2018" opacity="0.75"/><circle cx="198.4" cy="373.7" r="1.6" fill="#9e5838" opacity="0.75"/><circle cx="197.3" cy="379.0" r="2.4" fill="#5e2018" opacity="0.75"/></g>
<g filter="url(#soft)"><path d="M222.8,366.5 C222.9,367.5 223.3,368.7 223.1,369.6 C222.8,370.6 221.9,371.4 221.2,372.0 C220.5,372.6 219.7,373.0 218.8,373.3 C218.0,373.5 216.9,373.8 216.1,373.5 C215.3,373.2 214.7,372.3 214.0,371.7 C213.3,371.0 212.3,370.5 212.0,369.6 C211.6,368.8 212.0,367.5 212.1,366.5 C212.1,365.5 211.8,364.3 212.2,363.5 C212.5,362.7 213.5,362.2 214.2,361.6 C214.9,361.1 215.6,360.7 216.3,360.4 C217.1,360.2 218.0,360.0 218.7,360.2 C219.5,360.4 220.2,361.0 220.8,361.6 C221.4,362.2 222.0,363.0 222.3,363.8 C222.6,364.6 222.7,365.5 222.8,366.5 Z" fill="#6a281c"/><path d="M224.2,376.0 C224.3,377.0 224.5,378.3 224.1,379.1 C223.8,380.0 222.7,380.5 222.0,381.1 C221.3,381.7 220.6,382.4 219.8,382.7 C219.0,382.9 218.0,382.7 217.2,382.4 C216.4,382.1 215.8,381.5 215.1,381.0 C214.4,380.4 213.4,379.8 213.0,379.0 C212.7,378.2 212.8,377.0 212.9,376.0 C213.0,375.0 213.3,374.2 213.6,373.3 C213.8,372.3 213.8,370.9 214.4,370.1 C215.0,369.3 216.1,368.8 217.0,368.6 C217.9,368.3 219.0,368.6 219.9,368.8 C220.9,369.1 222.0,369.3 222.6,370.1 C223.2,370.8 223.3,372.2 223.5,373.2 C223.8,374.2 224.1,375.0 224.2,376.0 Z" fill="#6a281c"/><path d="M221.6,366.5 C221.7,367.3 222.0,368.3 221.8,369.0 C221.6,369.8 220.9,370.5 220.4,370.9 C219.8,371.4 219.2,371.8 218.5,372.0 C217.9,372.2 217.1,372.4 216.4,372.2 C215.8,371.9 215.3,371.2 214.8,370.7 C214.2,370.1 213.5,369.7 213.2,369.0 C213.0,368.3 213.3,367.3 213.3,366.5 C213.3,365.7 213.1,364.7 213.4,364.1 C213.6,363.4 214.4,363.0 214.9,362.6 C215.5,362.2 216.0,361.8 216.6,361.6 C217.2,361.4 217.9,361.2 218.5,361.4 C219.0,361.6 219.6,362.1 220.1,362.6 C220.5,363.0 221.0,363.6 221.2,364.3 C221.5,365.0 221.5,365.7 221.6,366.5 Z" fill="#874029"/><path d="M223.0,376.0 C223.0,376.8 223.2,377.8 222.9,378.5 C222.7,379.2 221.8,379.6 221.3,380.1 C220.7,380.6 220.2,381.2 219.5,381.4 C218.9,381.6 218.1,381.4 217.5,381.2 C216.9,381.0 216.3,380.5 215.8,380.0 C215.2,379.6 214.5,379.1 214.2,378.5 C213.9,377.8 214.0,376.8 214.1,376.0 C214.2,375.2 214.4,374.6 214.6,373.8 C214.8,373.0 214.8,371.8 215.3,371.2 C215.7,370.6 216.6,370.1 217.3,369.9 C218.1,369.8 218.9,369.9 219.6,370.1 C220.4,370.3 221.3,370.6 221.7,371.2 C222.2,371.8 222.2,372.9 222.4,373.7 C222.7,374.5 222.9,375.2 223.0,376.0 Z" fill="#874029"/><circle cx="217.3" cy="363.9" r="2.3" fill="#a8643f" opacity="0.75"/><circle cx="220.7" cy="366.0" r="1.4" fill="#5e2018" opacity="0.75"/><circle cx="219.6" cy="363.2" r="2.1" fill="#9e5838" opacity="0.75"/><circle cx="220.2" cy="369.7" r="2.0" fill="#6e2a1c" opacity="0.75"/><circle cx="217.6" cy="369.0" r="1.3" fill="#9e5838" opacity="0.75"/><circle cx="219.5" cy="372.5" r="1.4" fill="#5e2018" opacity="0.75"/><circle cx="218.4" cy="373.3" r="2.4" fill="#5e2018" opacity="0.75"/><circle cx="218.3" cy="376.1" r="1.6" fill="#9e5838" opacity="0.75"/><circle cx="215.4" cy="378.9" r="1.6" fill="#5e2018" opacity="0.75"/><circle cx="217.2" cy="373.1" r="1.4" fill="#5e2018" opacity="0.75"/></g>
<g filter="url(#soft)"><path d="M249.5,369.5 C249.7,370.5 249.5,371.7 249.0,372.7 C248.5,373.6 247.6,374.7 246.5,375.4 C245.5,376.0 244.0,376.5 242.6,376.7 C241.3,376.9 239.7,376.9 238.4,376.6 C237.2,376.3 236.3,375.3 235.2,374.7 C234.1,374.0 232.6,373.6 231.9,372.7 C231.1,371.9 230.7,370.5 230.7,369.5 C230.8,368.5 231.7,367.4 232.3,366.4 C233.0,365.5 233.6,364.5 234.6,363.8 C235.6,363.0 237.0,362.4 238.3,362.2 C239.7,362.0 241.3,362.2 242.5,362.6 C243.7,363.0 244.7,363.9 245.6,364.6 C246.5,365.3 247.3,365.9 247.9,366.7 C248.6,367.5 249.3,368.5 249.5,369.5 Z" fill="#6a281c"/><path d="M243.1,377.0 C243.0,377.7 242.7,378.3 242.4,378.9 C242.1,379.5 241.9,380.2 241.4,380.6 C240.9,381.1 240.2,381.5 239.6,381.6 C238.9,381.8 238.1,381.8 237.5,381.6 C236.9,381.3 236.4,380.7 235.9,380.2 C235.5,379.8 235.1,379.3 234.7,378.8 C234.4,378.3 233.9,377.6 233.8,377.0 C233.8,376.4 234.0,375.5 234.3,375.0 C234.7,374.5 235.5,374.3 236.0,373.8 C236.5,373.4 236.8,372.4 237.4,372.2 C238.0,372.0 238.9,372.3 239.5,372.5 C240.2,372.7 240.8,373.0 241.4,373.4 C241.9,373.8 242.5,374.3 242.8,374.9 C243.1,375.5 243.2,376.3 243.1,377.0 Z" fill="#6a281c"/><path d="M248.2,369.5 C248.3,370.3 248.2,371.3 247.7,372.1 C247.3,372.9 246.6,373.7 245.6,374.3 C244.7,374.8 243.5,375.2 242.3,375.3 C241.1,375.5 239.8,375.6 238.7,375.3 C237.7,375.0 236.9,374.2 236.0,373.7 C235.0,373.2 233.8,372.8 233.1,372.1 C232.5,371.4 232.1,370.4 232.1,369.5 C232.2,368.6 233.0,367.8 233.5,367.0 C234.1,366.2 234.6,365.4 235.5,364.8 C236.3,364.2 237.5,363.7 238.7,363.5 C239.8,363.4 241.2,363.5 242.2,363.8 C243.3,364.2 244.1,364.9 244.8,365.5 C245.6,366.0 246.3,366.6 246.9,367.2 C247.4,367.9 248.1,368.7 248.2,369.5 Z" fill="#874029"/><path d="M241.8,377.0 C241.7,377.5 241.5,377.9 241.3,378.3 C241.1,378.8 240.9,379.3 240.6,379.6 C240.2,379.9 239.7,380.2 239.2,380.3 C238.8,380.4 238.2,380.4 237.8,380.3 C237.3,380.1 237.0,379.6 236.7,379.3 C236.4,379.0 236.1,378.7 235.8,378.3 C235.6,377.9 235.2,377.5 235.2,377.0 C235.1,376.5 235.3,376.0 235.5,375.6 C235.8,375.2 236.3,375.1 236.7,374.7 C237.1,374.4 237.3,373.7 237.7,373.6 C238.1,373.4 238.8,373.6 239.2,373.8 C239.7,373.9 240.2,374.1 240.5,374.4 C240.9,374.7 241.3,375.1 241.5,375.5 C241.7,376.0 241.8,376.5 241.8,377.0 Z" fill="#874029"/><circle cx="244.9" cy="371.3" r="1.5" fill="#5e2018" opacity="0.75"/><circle cx="236.8" cy="368.5" r="1.4" fill="#5e2018" opacity="0.75"/><circle cx="238.3" cy="366.9" r="1.9" fill="#6e2a1c" opacity="0.75"/><circle cx="236.6" cy="367.2" r="1.5" fill="#b06c48" opacity="0.75"/><circle cx="235.8" cy="368.9" r="2.0" fill="#5e2018" opacity="0.75"/><circle cx="240.2" cy="377.9" r="1.6" fill="#5e2018" opacity="0.75"/><circle cx="241.3" cy="378.9" r="2.0" fill="#5e2018" opacity="0.75"/><circle cx="240.7" cy="375.1" r="2.4" fill="#5e2018" opacity="0.75"/><circle cx="240.2" cy="374.9" r="2.3" fill="#b06c48" opacity="0.75"/><circle cx="235.9" cy="374.6" r="2.4" fill="#b06c48" opacity="0.75"/></g>
<g filter="url(#soft)"><path d="M268.5,369.0 C268.4,370.1 268.5,371.3 268.2,372.3 C267.9,373.3 267.2,374.4 266.5,375.0 C265.8,375.7 264.8,376.0 263.9,376.2 C263.0,376.4 262.1,376.2 261.2,376.0 C260.3,375.8 259.3,375.6 258.5,375.0 C257.7,374.4 256.8,373.5 256.5,372.5 C256.1,371.5 256.5,370.1 256.6,369.0 C256.7,367.9 256.7,366.8 257.0,365.8 C257.4,364.8 257.9,363.7 258.6,363.1 C259.2,362.4 260.3,362.2 261.2,362.1 C262.1,362.0 262.9,362.1 263.8,362.3 C264.6,362.5 265.5,362.7 266.3,363.2 C267.1,363.8 268.2,364.5 268.5,365.5 C268.9,366.5 268.5,367.9 268.5,369.0 Z" fill="#6a281c"/><path d="M269.0,377.0 C269.0,378.0 269.0,379.0 268.6,379.9 C268.3,380.8 267.6,381.7 267.0,382.4 C266.3,383.0 265.4,383.8 264.5,384.0 C263.6,384.1 262.5,383.8 261.6,383.5 C260.8,383.1 259.9,382.7 259.3,382.1 C258.6,381.4 258.1,380.6 257.8,379.7 C257.4,378.9 257.3,377.9 257.3,377.0 C257.3,376.1 257.3,375.0 257.7,374.2 C258.1,373.4 258.9,372.9 259.6,372.3 C260.2,371.8 260.9,371.2 261.7,370.8 C262.5,370.4 263.6,370.0 264.5,370.1 C265.3,370.2 266.3,370.9 267.0,371.6 C267.7,372.2 268.4,373.1 268.7,374.0 C269.0,374.9 269.0,376.0 269.0,377.0 Z" fill="#6a281c"/><path d="M267.2,369.0 C267.2,369.9 267.3,370.9 267.0,371.7 C266.8,372.6 266.2,373.4 265.7,374.0 C265.1,374.5 264.3,374.8 263.6,375.0 C262.9,375.1 262.1,375.0 261.4,374.8 C260.7,374.7 260.0,374.4 259.4,373.9 C258.7,373.4 258.0,372.7 257.7,371.9 C257.5,371.1 257.7,369.9 257.8,369.0 C257.9,368.1 257.9,367.2 258.2,366.4 C258.4,365.6 258.8,364.6 259.4,364.1 C259.9,363.6 260.8,363.4 261.5,363.3 C262.1,363.2 262.8,363.3 263.5,363.4 C264.2,363.6 264.9,363.8 265.5,364.2 C266.2,364.7 267.0,365.3 267.3,366.1 C267.6,366.9 267.3,368.1 267.2,369.0 Z" fill="#874029"/><path d="M267.7,377.0 C267.7,377.8 267.7,378.6 267.4,379.3 C267.1,380.1 266.6,380.8 266.1,381.3 C265.6,381.8 264.8,382.4 264.1,382.6 C263.5,382.7 262.6,382.4 261.9,382.2 C261.3,381.9 260.6,381.5 260.1,381.0 C259.6,380.5 259.2,379.9 258.9,379.2 C258.6,378.5 258.6,377.7 258.5,377.0 C258.5,376.3 258.5,375.4 258.8,374.8 C259.1,374.2 259.8,373.7 260.3,373.3 C260.8,372.8 261.3,372.4 262.0,372.1 C262.6,371.8 263.4,371.4 264.1,371.5 C264.8,371.6 265.6,372.1 266.1,372.6 C266.7,373.2 267.2,373.9 267.5,374.6 C267.7,375.3 267.7,376.2 267.7,377.0 Z" fill="#874029"/><circle cx="266.1" cy="365.1" r="2.0" fill="#6e2a1c" opacity="0.75"/><circle cx="259.5" cy="365.9" r="2.3" fill="#5e2018" opacity="0.75"/><circle cx="263.8" cy="369.8" r="2.1" fill="#5e2018" opacity="0.75"/><circle cx="264.0" cy="373.1" r="2.4" fill="#9e5838" opacity="0.75"/><circle cx="266.0" cy="364.5" r="1.6" fill="#6e2a1c" opacity="0.75"/><circle cx="260.6" cy="375.1" r="1.2" fill="#9e5838" opacity="0.75"/><circle cx="266.7" cy="376.1" r="1.3" fill="#6e2a1c" opacity="0.75"/><circle cx="264.1" cy="380.8" r="1.8" fill="#9e5838" opacity="0.75"/><circle cx="261.9" cy="375.7" r="2.4" fill="#b06c48" opacity="0.75"/><circle cx="262.3" cy="373.7" r="2.1" fill="#9e5838" opacity="0.75"/></g>
<g filter="url(#soft)"><path d="M292.7,368.0 C292.6,369.1 291.9,370.1 291.4,371.0 C290.8,371.9 290.2,372.7 289.5,373.4 C288.7,374.1 287.9,375.1 286.9,375.3 C286.0,375.6 284.8,375.1 283.8,374.8 C282.8,374.6 281.7,374.4 280.8,373.8 C280.0,373.2 279.2,372.2 278.8,371.2 C278.4,370.3 278.4,369.1 278.5,368.0 C278.5,366.9 278.7,365.8 279.1,364.9 C279.6,364.0 280.4,363.2 281.2,362.6 C282.0,362.1 282.9,361.7 283.9,361.5 C284.8,361.3 285.8,361.3 286.7,361.4 C287.7,361.6 288.5,362.1 289.4,362.6 C290.3,363.2 291.6,363.7 292.1,364.6 C292.7,365.5 292.9,366.9 292.7,368.0 Z" fill="#6a281c"/><path d="M292.7,378.5 C292.8,379.5 292.7,380.7 292.2,381.6 C291.7,382.5 290.8,383.3 289.9,383.9 C289.1,384.6 288.0,385.2 287.0,385.3 C285.9,385.5 284.8,385.1 283.7,384.9 C282.6,384.7 281.2,384.9 280.3,384.4 C279.3,383.8 278.4,382.7 278.1,381.8 C277.7,380.8 278.2,379.5 278.3,378.5 C278.3,377.5 278.1,376.3 278.6,375.5 C279.0,374.6 280.1,373.9 281.0,373.4 C281.8,372.9 282.8,372.7 283.8,372.3 C284.8,372.0 286.1,371.0 287.1,371.2 C288.1,371.4 288.9,372.7 289.7,373.4 C290.5,374.1 291.4,374.7 291.9,375.5 C292.4,376.4 292.7,377.5 292.7,378.5 Z" fill="#6a281c"/><path d="M291.3,368.0 C291.2,368.9 290.7,369.7 290.3,370.5 C289.8,371.2 289.3,371.8 288.7,372.4 C288.1,373.0 287.4,373.8 286.6,374.0 C285.8,374.2 284.9,373.8 284.1,373.6 C283.3,373.4 282.3,373.2 281.7,372.8 C281.0,372.3 280.3,371.5 280.0,370.7 C279.7,369.9 279.7,368.9 279.8,368.0 C279.8,367.1 279.9,366.2 280.3,365.5 C280.6,364.7 281.3,364.0 281.9,363.6 C282.6,363.1 283.4,362.9 284.1,362.7 C284.9,362.5 285.7,362.5 286.5,362.6 C287.2,362.8 287.9,363.2 288.7,363.6 C289.4,364.0 290.4,364.5 290.9,365.2 C291.3,365.9 291.5,367.1 291.3,368.0 Z" fill="#874029"/><path d="M291.5,378.5 C291.5,379.3 291.4,380.3 291.0,381.0 C290.6,381.8 289.9,382.4 289.1,382.9 C288.4,383.4 287.5,383.9 286.7,384.0 C285.8,384.2 284.9,383.8 284.0,383.7 C283.1,383.6 281.9,383.7 281.2,383.3 C280.4,382.9 279.6,381.9 279.3,381.2 C279.0,380.4 279.4,379.4 279.5,378.5 C279.6,377.6 279.4,376.7 279.7,376.0 C280.1,375.3 281.0,374.8 281.7,374.4 C282.4,373.9 283.2,373.8 284.1,373.5 C284.9,373.2 286.0,372.4 286.8,372.6 C287.6,372.7 288.2,373.8 288.9,374.4 C289.6,374.9 290.3,375.4 290.8,376.1 C291.2,376.8 291.4,377.7 291.5,378.5 Z" fill="#874029"/><circle cx="286.5" cy="368.6" r="1.6" fill="#6e2a1c" opacity="0.75"/><circle cx="288.6" cy="364.2" r="2.6" fill="#b06c48" opacity="0.75"/><circle cx="287.6" cy="366.3" r="2.1" fill="#a8643f" opacity="0.75"/><circle cx="287.2" cy="363.9" r="2.4" fill="#a8643f" opacity="0.75"/><circle cx="287.9" cy="371.4" r="1.6" fill="#5e2018" opacity="0.75"/><circle cx="281.1" cy="375.7" r="1.7" fill="#6e2a1c" opacity="0.75"/><circle cx="280.8" cy="375.7" r="2.5" fill="#6e2a1c" opacity="0.75"/><circle cx="281.7" cy="375.0" r="1.4" fill="#9e5838" opacity="0.75"/><circle cx="285.9" cy="382.3" r="1.7" fill="#5e2018" opacity="0.75"/><circle cx="288.2" cy="381.8" r="2.3" fill="#9e5838" opacity="0.75"/></g>
<g filter="url(#soft)"><path d="M319.3,370.0 C319.3,370.9 318.2,371.9 317.6,372.8 C317.0,373.7 316.4,374.5 315.6,375.2 C314.7,376.0 313.7,376.9 312.5,377.2 C311.3,377.6 309.7,377.7 308.5,377.4 C307.3,377.1 306.1,376.1 305.3,375.4 C304.5,374.6 303.8,373.7 303.4,372.8 C303.0,371.9 302.9,371.0 302.8,370.0 C302.7,369.0 302.5,367.9 302.9,367.0 C303.3,366.1 304.1,365.0 305.1,364.4 C306.0,363.8 307.4,363.8 308.7,363.5 C309.9,363.2 311.4,362.4 312.6,362.5 C313.8,362.7 315.1,363.7 315.9,364.4 C316.7,365.2 317.0,366.3 317.5,367.2 C318.1,368.1 319.2,369.1 319.3,370.0 Z" fill="#6a281c"/><path d="M317.9,379.0 C317.9,380.0 318.3,381.1 318.0,382.0 C317.6,382.9 316.8,384.0 315.9,384.5 C315.0,385.0 313.6,384.8 312.5,385.0 C311.4,385.2 310.3,386.0 309.3,385.8 C308.3,385.7 307.3,384.8 306.5,384.1 C305.7,383.4 305.0,382.6 304.7,381.7 C304.3,380.9 304.3,379.9 304.3,379.0 C304.3,378.1 304.2,377.1 304.7,376.3 C305.1,375.5 306.0,374.9 306.8,374.2 C307.5,373.6 308.3,372.5 309.3,372.3 C310.2,372.1 311.4,372.9 312.5,373.1 C313.6,373.4 314.8,373.3 315.6,373.8 C316.5,374.3 317.3,375.3 317.6,376.1 C318.0,377.0 317.8,378.0 317.9,379.0 Z" fill="#6a281c"/><path d="M317.9,370.0 C317.9,370.8 317.0,371.6 316.5,372.3 C316.0,373.0 315.5,373.7 314.8,374.3 C314.1,374.9 313.2,375.6 312.2,375.9 C311.2,376.2 309.8,376.3 308.8,376.0 C307.8,375.8 306.8,375.0 306.1,374.4 C305.4,373.8 304.9,373.0 304.5,372.3 C304.2,371.6 304.0,370.8 304.0,370.0 C303.9,369.2 303.8,368.3 304.1,367.6 C304.4,366.8 305.1,365.9 305.9,365.4 C306.7,364.9 307.9,364.9 309.0,364.7 C310.0,364.4 311.2,363.8 312.3,363.9 C313.3,364.1 314.4,364.8 315.1,365.5 C315.8,366.1 316.0,367.0 316.4,367.7 C316.9,368.5 317.9,369.2 317.9,370.0 Z" fill="#874029"/><path d="M316.6,379.0 C316.7,379.8 317.0,380.7 316.7,381.4 C316.4,382.1 315.8,383.0 315.0,383.4 C314.3,383.8 313.2,383.6 312.3,383.8 C311.3,384.0 310.4,384.6 309.6,384.5 C308.7,384.3 307.9,383.6 307.3,383.1 C306.7,382.5 306.1,381.9 305.8,381.2 C305.5,380.5 305.5,379.7 305.5,379.0 C305.5,378.3 305.5,377.4 305.8,376.8 C306.1,376.2 306.9,375.7 307.5,375.2 C308.2,374.7 308.8,373.8 309.6,373.6 C310.4,373.5 311.4,374.1 312.2,374.3 C313.1,374.5 314.1,374.4 314.8,374.8 C315.5,375.2 316.2,376.0 316.5,376.7 C316.8,377.4 316.6,378.2 316.6,379.0 Z" fill="#874029"/><circle cx="310.7" cy="373.3" r="2.0" fill="#5e2018" opacity="0.75"/><circle cx="310.4" cy="367.4" r="1.5" fill="#b06c48" opacity="0.75"/><circle cx="312.5" cy="373.6" r="2.3" fill="#a8643f" opacity="0.75"/><circle cx="306.7" cy="372.8" r="1.2" fill="#5e2018" opacity="0.75"/><circle cx="315.5" cy="374.2" r="1.8" fill="#b06c48" opacity="0.75"/><circle cx="309.3" cy="378.1" r="1.6" fill="#6e2a1c" opacity="0.75"/><circle cx="314.9" cy="381.4" r="2.0" fill="#a8643f" opacity="0.75"/><circle cx="309.1" cy="379.0" r="2.1" fill="#6e2a1c" opacity="0.75"/><circle cx="312.8" cy="380.8" r="1.7" fill="#6e2a1c" opacity="0.75"/><circle cx="313.7" cy="381.5" r="1.6" fill="#b06c48" opacity="0.75"/></g>
<g filter="url(#soft)"><path d="M343.6,369.0 C343.6,370.1 344.0,371.4 343.7,372.5 C343.4,373.5 342.6,374.8 341.7,375.4 C340.9,376.0 339.5,375.8 338.5,376.0 C337.4,376.2 336.4,376.6 335.4,376.5 C334.3,376.4 332.9,376.2 332.2,375.4 C331.5,374.7 331.5,373.1 331.1,372.1 C330.6,371.0 329.6,370.0 329.6,369.0 C329.6,368.0 330.5,366.9 331.1,365.9 C331.6,365.0 332.0,364.0 332.8,363.3 C333.5,362.6 334.5,361.9 335.4,361.6 C336.4,361.4 337.6,361.6 338.5,361.9 C339.5,362.2 340.2,362.9 341.1,363.5 C341.9,364.1 343.1,364.7 343.6,365.6 C344.0,366.5 343.5,367.9 343.6,369.0 Z" fill="#6a281c"/><path d="M347.8,378.5 C347.6,379.6 347.1,380.5 346.6,381.5 C346.2,382.5 345.9,383.9 345.0,384.6 C344.2,385.4 342.7,385.7 341.4,386.0 C340.2,386.3 338.6,386.6 337.5,386.3 C336.4,385.9 335.6,384.6 334.7,383.8 C333.7,383.1 332.4,382.7 331.7,381.8 C331.0,380.9 330.3,379.6 330.4,378.5 C330.5,377.4 331.5,376.3 332.1,375.4 C332.8,374.4 333.4,373.5 334.3,372.7 C335.2,372.0 336.3,371.3 337.6,371.0 C338.8,370.6 340.3,370.3 341.6,370.6 C342.8,370.8 343.8,371.9 344.8,372.6 C345.8,373.4 347.0,374.1 347.4,375.1 C347.9,376.1 347.9,377.4 347.8,378.5 Z" fill="#6a281c"/><path d="M342.3,369.0 C342.4,369.9 342.7,371.0 342.4,371.9 C342.2,372.7 341.6,373.8 340.9,374.3 C340.2,374.8 339.1,374.6 338.2,374.8 C337.4,374.9 336.5,375.3 335.7,375.2 C334.8,375.2 333.7,374.9 333.1,374.3 C332.5,373.7 332.5,372.4 332.2,371.5 C331.8,370.6 331.0,369.8 331.0,369.0 C331.0,368.2 331.7,367.3 332.2,366.5 C332.6,365.7 333.0,364.9 333.5,364.3 C334.1,363.7 334.9,363.1 335.7,362.9 C336.5,362.7 337.5,362.9 338.2,363.1 C339.0,363.4 339.6,364.0 340.3,364.5 C341.0,365.0 342.0,365.4 342.3,366.2 C342.7,367.0 342.3,368.1 342.3,369.0 Z" fill="#874029"/><path d="M346.5,378.5 C346.4,379.4 345.9,380.2 345.5,381.0 C345.1,381.8 344.9,383.0 344.2,383.6 C343.5,384.2 342.2,384.5 341.1,384.7 C340.1,384.9 338.8,385.2 337.8,384.9 C336.8,384.6 336.2,383.5 335.4,382.9 C334.6,382.3 333.5,382.0 332.9,381.2 C332.3,380.5 331.7,379.4 331.8,378.5 C331.9,377.6 332.7,376.7 333.3,375.9 C333.8,375.1 334.3,374.3 335.1,373.7 C335.9,373.1 336.8,372.6 337.9,372.3 C338.9,372.0 340.2,371.7 341.2,371.9 C342.3,372.2 343.1,373.0 344.0,373.7 C344.8,374.3 345.8,374.9 346.2,375.7 C346.6,376.5 346.6,377.6 346.5,378.5 Z" fill="#874029"/><circle cx="335.1" cy="369.1" r="1.6" fill="#9e5838" opacity="0.75"/><circle cx="338.8" cy="368.7" r="1.3" fill="#a8643f" opacity="0.75"/><circle cx="339.4" cy="370.8" r="2.2" fill="#9e5838" opacity="0.75"/><circle cx="341.0" cy="367.7" r="1.6" fill="#9e5838" opacity="0.75"/><circle cx="338.5" cy="369.7" r="2.4" fill="#9e5838" opacity="0.75"/><circle cx="336.8" cy="379.0" r="2.3" fill="#6e2a1c" opacity="0.75"/><circle cx="341.0" cy="382.1" r="2.6" fill="#5e2018" opacity="0.75"/><circle cx="337.6" cy="374.5" r="1.6" fill="#b06c48" opacity="0.75"/><circle cx="338.7" cy="381.9" r="1.9" fill="#5e2018" opacity="0.75"/><circle cx="338.3" cy="380.2" r="2.4" fill="#a8643f" opacity="0.75"/></g>
<g filter="url(#soft)"><path d="M367.3,368.0 C367.2,369.1 367.7,370.3 367.3,371.2 C366.9,372.0 365.7,372.6 364.9,373.3 C364.0,373.9 363.2,374.8 362.2,375.1 C361.2,375.4 359.9,375.2 358.9,374.9 C357.8,374.7 357.0,374.0 356.0,373.4 C355.1,372.8 353.8,372.2 353.4,371.3 C353.0,370.4 353.3,369.0 353.5,368.0 C353.6,367.0 354.1,366.2 354.4,365.2 C354.7,364.2 354.8,362.6 355.5,362.0 C356.3,361.3 357.8,361.4 358.9,361.3 C360.0,361.2 360.9,361.3 362.1,361.4 C363.2,361.5 364.7,361.3 365.6,361.8 C366.5,362.4 367.3,363.7 367.6,364.7 C367.9,365.7 367.3,366.9 367.3,368.0 Z" fill="#6a281c"/><path d="M368.4,378.0 C368.5,379.1 368.9,380.4 368.4,381.3 C367.9,382.2 366.4,382.8 365.4,383.4 C364.4,384.0 363.4,384.6 362.3,384.9 C361.2,385.1 359.9,385.0 358.7,384.8 C357.6,384.5 356.6,384.0 355.6,383.4 C354.6,382.8 353.2,382.1 352.8,381.2 C352.4,380.3 353.1,379.0 353.1,378.0 C353.2,377.0 353.0,376.0 353.3,375.0 C353.7,374.0 354.3,372.8 355.2,372.2 C356.1,371.6 357.7,371.7 358.8,371.6 C360.0,371.6 361.0,371.6 362.1,371.7 C363.3,371.8 364.7,371.8 365.6,372.4 C366.6,372.9 367.4,374.0 367.8,374.9 C368.3,375.9 368.3,376.9 368.4,378.0 Z" fill="#6a281c"/><path d="M366.4,384.0 C366.4,384.6 365.8,385.4 365.4,386.0 C365.0,386.6 364.6,387.3 363.9,387.7 C363.3,388.1 362.3,388.4 361.4,388.6 C360.5,388.8 359.4,389.0 358.5,388.8 C357.7,388.6 357.0,388.0 356.3,387.5 C355.5,387.1 354.7,386.7 354.2,386.1 C353.8,385.5 353.5,384.6 353.7,384.0 C353.8,383.4 354.7,382.8 355.1,382.2 C355.6,381.7 355.7,381.0 356.3,380.5 C356.9,380.0 357.8,379.6 358.6,379.5 C359.5,379.4 360.4,379.8 361.2,380.0 C362.1,380.1 363.0,380.2 363.7,380.5 C364.4,380.9 364.9,381.5 365.3,382.1 C365.8,382.7 366.3,383.4 366.4,384.0 Z" fill="#6a281c"/><path d="M366.1,368.0 C366.1,368.9 366.4,369.9 366.1,370.6 C365.8,371.3 364.8,371.8 364.1,372.3 C363.4,372.9 362.7,373.6 361.9,373.8 C361.1,374.1 360.0,373.9 359.1,373.7 C358.3,373.5 357.6,372.9 356.8,372.4 C356.1,371.9 355.0,371.4 354.6,370.7 C354.3,370.0 354.6,368.8 354.7,368.0 C354.8,367.2 355.2,366.5 355.5,365.7 C355.7,364.8 355.8,363.6 356.4,363.1 C357.0,362.5 358.3,362.6 359.2,362.5 C360.1,362.4 360.9,362.5 361.8,362.6 C362.7,362.7 363.9,362.5 364.7,362.9 C365.5,363.4 366.2,364.4 366.4,365.3 C366.6,366.1 366.2,367.1 366.1,368.0 Z" fill="#874029"/><path d="M367.1,378.0 C367.2,378.9 367.5,380.0 367.1,380.7 C366.7,381.4 365.5,381.9 364.6,382.4 C363.8,382.9 362.9,383.4 362.0,383.6 C361.1,383.8 360.0,383.7 359.0,383.5 C358.1,383.3 357.2,382.9 356.4,382.4 C355.5,381.9 354.4,381.4 354.1,380.6 C353.7,379.9 354.3,378.8 354.3,378.0 C354.4,377.2 354.2,376.3 354.5,375.5 C354.8,374.8 355.3,373.7 356.1,373.3 C356.8,372.8 358.1,372.9 359.1,372.8 C360.1,372.8 360.9,372.8 361.9,372.9 C362.8,373.0 364.0,373.0 364.8,373.4 C365.6,373.8 366.2,374.7 366.6,375.5 C367.0,376.3 367.0,377.1 367.1,378.0 Z" fill="#874029"/><path d="M365.0,384.0 C365.0,384.5 364.6,385.0 364.3,385.4 C363.9,385.8 363.6,386.3 363.1,386.6 C362.6,386.9 361.8,387.2 361.1,387.3 C360.4,387.4 359.5,387.6 358.9,387.4 C358.2,387.3 357.6,386.8 357.1,386.5 C356.5,386.2 355.8,385.9 355.5,385.5 C355.1,385.1 354.9,384.5 355.0,384.0 C355.2,383.5 355.8,383.2 356.2,382.7 C356.5,382.3 356.6,381.8 357.1,381.5 C357.5,381.2 358.3,380.9 358.9,380.8 C359.6,380.7 360.3,381.0 361.0,381.1 C361.6,381.2 362.3,381.3 362.9,381.5 C363.4,381.8 363.8,382.2 364.2,382.6 C364.5,383.0 365.0,383.5 365.0,384.0 Z" fill="#874029"/><circle cx="359.1" cy="364.9" r="1.8" fill="#a8643f" opacity="0.75"/><circle cx="359.3" cy="371.0" r="1.9" fill="#5e2018" opacity="0.75"/><circle cx="360.0" cy="369.8" r="2.0" fill="#6e2a1c" opacity="0.75"/><circle cx="357.9" cy="365.4" r="1.3" fill="#9e5838" opacity="0.75"/><circle cx="359.0" cy="367.9" r="1.4" fill="#6e2a1c" opacity="0.75"/><circle cx="361.5" cy="380.5" r="2.5" fill="#a8643f" opacity="0.75"/><circle cx="356.4" cy="377.4" r="2.1" fill="#a8643f" opacity="0.75"/><circle cx="357.3" cy="375.8" r="1.9" fill="#5e2018" opacity="0.75"/><circle cx="364.3" cy="381.4" r="1.2" fill="#b06c48" opacity="0.75"/><circle cx="362.0" cy="374.6" r="2.6" fill="#9e5838" opacity="0.75"/><circle cx="363.5" cy="382.9" r="1.9" fill="#9e5838" opacity="0.75"/><circle cx="363.5" cy="384.1" r="2.4" fill="#6e2a1c" opacity="0.75"/><circle cx="361.5" cy="384.2" r="1.5" fill="#a8643f" opacity="0.75"/><circle cx="360.5" cy="383.9" r="1.5" fill="#6e2a1c" opacity="0.75"/><circle cx="361.8" cy="384.6" r="2.0" fill="#5e2018" opacity="0.75"/></g>
<g filter="url(#soft)"><path d="M390.1,369.0 C390.2,370.1 390.2,371.5 389.8,372.5 C389.4,373.5 388.5,374.2 387.7,374.8 C387.0,375.5 386.1,376.1 385.3,376.3 C384.5,376.4 383.7,375.8 382.8,375.6 C381.9,375.4 380.8,375.7 380.0,375.2 C379.3,374.7 378.9,373.4 378.4,372.4 C378.0,371.3 377.5,370.1 377.5,369.0 C377.4,367.9 377.7,366.5 378.2,365.5 C378.6,364.4 379.3,363.3 380.0,362.8 C380.8,362.2 381.8,362.3 382.7,362.0 C383.6,361.8 384.6,361.0 385.4,361.1 C386.3,361.2 387.4,361.9 388.0,362.7 C388.7,363.5 389.0,364.7 389.3,365.8 C389.7,366.9 390.1,367.9 390.1,369.0 Z" fill="#6a281c"/><path d="M391.6,382.0 C391.5,383.4 390.9,384.9 390.4,386.2 C389.9,387.4 389.3,388.3 388.6,389.3 C388.0,390.3 387.2,391.6 386.4,391.9 C385.6,392.3 384.6,391.7 383.7,391.4 C382.7,391.1 381.7,391.1 380.9,390.3 C380.1,389.5 379.1,388.1 378.8,386.7 C378.6,385.4 379.2,383.5 379.3,382.0 C379.4,380.5 379.1,378.9 379.4,377.7 C379.8,376.5 380.7,375.6 381.4,374.8 C382.1,374.1 382.9,373.6 383.7,373.1 C384.6,372.5 385.7,371.2 386.5,371.5 C387.3,371.8 387.9,373.7 388.6,374.7 C389.4,375.7 390.4,376.3 390.9,377.5 C391.4,378.7 391.6,380.6 391.6,382.0 Z" fill="#6a281c"/><path d="M388.8,369.0 C388.9,369.9 388.9,371.1 388.6,371.9 C388.3,372.7 387.5,373.3 386.9,373.8 C386.3,374.3 385.7,374.9 385.0,375.0 C384.4,375.1 383.7,374.6 383.1,374.4 C382.4,374.3 381.5,374.6 380.9,374.1 C380.3,373.7 380.0,372.6 379.6,371.8 C379.3,370.9 378.9,369.9 378.9,369.0 C378.8,368.1 379.1,367.0 379.4,366.1 C379.8,365.2 380.3,364.3 380.9,363.8 C381.5,363.4 382.3,363.5 383.0,363.2 C383.7,363.0 384.4,362.4 385.1,362.5 C385.8,362.5 386.7,363.1 387.2,363.8 C387.7,364.4 387.9,365.5 388.2,366.4 C388.4,367.2 388.7,368.1 388.8,369.0 Z" fill="#874029"/><path d="M390.2,382.0 C390.1,383.3 389.7,384.6 389.3,385.6 C388.9,386.7 388.4,387.5 387.9,388.4 C387.4,389.2 386.8,390.3 386.1,390.6 C385.5,390.9 384.7,390.4 383.9,390.2 C383.2,389.9 382.4,389.9 381.7,389.2 C381.1,388.5 380.3,387.3 380.1,386.1 C379.9,384.9 380.4,383.3 380.5,382.0 C380.6,380.7 380.3,379.3 380.6,378.3 C380.9,377.2 381.6,376.4 382.2,375.8 C382.7,375.1 383.3,374.7 384.0,374.2 C384.7,373.7 385.5,372.6 386.2,372.8 C386.8,373.1 387.3,374.8 387.9,375.7 C388.5,376.5 389.3,377.0 389.7,378.1 C390.0,379.1 390.3,380.7 390.2,382.0 Z" fill="#874029"/><circle cx="386.9" cy="372.6" r="2.3" fill="#b06c48" opacity="0.75"/><circle cx="383.0" cy="365.9" r="1.9" fill="#5e2018" opacity="0.75"/><circle cx="387.0" cy="371.3" r="2.4" fill="#a8643f" opacity="0.75"/><circle cx="380.8" cy="367.3" r="1.6" fill="#5e2018" opacity="0.75"/><circle cx="380.9" cy="366.8" r="1.5" fill="#9e5838" opacity="0.75"/><circle cx="388.8" cy="381.3" r="2.4" fill="#5e2018" opacity="0.75"/><circle cx="387.6" cy="386.3" r="1.5" fill="#9e5838" opacity="0.75"/><circle cx="385.6" cy="379.8" r="2.0" fill="#6e2a1c" opacity="0.75"/><circle cx="382.8" cy="383.6" r="2.3" fill="#5e2018" opacity="0.75"/><circle cx="382.8" cy="377.7" r="1.4" fill="#a8643f" opacity="0.75"/></g>
<g filter="url(#soft)"><path d="M414.2,372.5 C414.2,373.7 413.6,375.0 413.1,376.1 C412.5,377.2 411.6,378.1 410.7,378.9 C409.8,379.6 408.6,380.5 407.5,380.7 C406.3,380.8 405.1,380.0 404.0,379.7 C402.8,379.4 401.3,379.7 400.4,379.1 C399.4,378.5 398.7,377.2 398.2,376.1 C397.7,375.0 397.6,373.7 397.6,372.5 C397.5,371.3 397.5,369.8 398.0,368.8 C398.5,367.8 399.9,367.2 400.8,366.5 C401.8,365.9 402.8,365.3 403.9,364.9 C405.0,364.5 406.4,364.0 407.5,364.2 C408.6,364.5 409.5,365.7 410.5,366.4 C411.4,367.2 412.6,367.8 413.2,368.8 C413.9,369.8 414.2,371.3 414.2,372.5 Z" fill="#6a281c"/><path d="M412.7,384.0 C412.7,385.0 411.8,386.0 411.2,386.9 C410.6,387.8 410.0,388.9 409.1,389.5 C408.1,390.1 406.7,390.4 405.5,390.6 C404.2,390.9 402.8,391.3 401.6,391.1 C400.4,390.8 399.5,389.8 398.4,389.2 C397.4,388.5 396.3,388.0 395.6,387.1 C394.8,386.2 394.0,385.0 394.1,384.0 C394.1,383.0 395.0,381.9 395.7,381.0 C396.4,380.0 397.1,379.1 398.1,378.5 C399.1,377.8 400.4,377.4 401.6,377.1 C402.9,376.9 404.3,376.8 405.6,377.0 C406.9,377.2 408.5,377.4 409.5,378.1 C410.4,378.8 410.6,380.1 411.1,381.1 C411.6,382.1 412.6,383.0 412.7,384.0 Z" fill="#6a281c"/><path d="M412.8,372.5 C412.8,373.5 412.3,374.6 411.8,375.5 C411.4,376.4 410.6,377.2 409.9,377.8 C409.1,378.5 408.1,379.2 407.2,379.3 C406.2,379.5 405.2,378.7 404.2,378.5 C403.2,378.3 402.0,378.5 401.2,378.0 C400.4,377.5 399.8,376.4 399.4,375.5 C399.0,374.6 398.9,373.5 398.9,372.5 C398.8,371.5 398.8,370.3 399.2,369.4 C399.7,368.6 400.8,368.0 401.6,367.5 C402.4,366.9 403.2,366.5 404.1,366.1 C405.1,365.8 406.3,365.4 407.2,365.6 C408.1,365.8 408.9,366.8 409.7,367.4 C410.5,368.0 411.5,368.6 412.0,369.4 C412.5,370.3 412.8,371.5 412.8,372.5 Z" fill="#874029"/><path d="M411.3,384.0 C411.3,384.8 410.6,385.6 410.1,386.4 C409.6,387.1 409.1,388.0 408.3,388.5 C407.5,389.0 406.3,389.2 405.2,389.4 C404.1,389.6 402.9,390.0 401.9,389.8 C400.9,389.6 400.1,388.8 399.2,388.2 C398.4,387.7 397.4,387.2 396.7,386.5 C396.1,385.8 395.5,384.8 395.5,384.0 C395.5,383.2 396.3,382.3 396.9,381.5 C397.5,380.8 398.1,380.0 398.9,379.5 C399.7,379.0 400.9,378.6 401.9,378.4 C403.0,378.2 404.2,378.2 405.3,378.3 C406.4,378.4 407.8,378.7 408.6,379.2 C409.4,379.8 409.5,380.9 410.0,381.7 C410.4,382.4 411.3,383.2 411.3,384.0 Z" fill="#874029"/><circle cx="401.7" cy="377.1" r="2.0" fill="#b06c48" opacity="0.75"/><circle cx="407.4" cy="377.4" r="2.0" fill="#a8643f" opacity="0.75"/><circle cx="408.3" cy="370.9" r="2.5" fill="#5e2018" opacity="0.75"/><circle cx="409.7" cy="375.1" r="2.3" fill="#9e5838" opacity="0.75"/><circle cx="405.5" cy="372.0" r="1.3" fill="#5e2018" opacity="0.75"/><circle cx="404.7" cy="383.5" r="1.7" fill="#a8643f" opacity="0.75"/><circle cx="409.0" cy="383.4" r="1.4" fill="#5e2018" opacity="0.75"/><circle cx="405.9" cy="383.4" r="2.0" fill="#9e5838" opacity="0.75"/><circle cx="404.1" cy="386.4" r="2.5" fill="#b06c48" opacity="0.75"/><circle cx="400.8" cy="387.8" r="1.8" fill="#a8643f" opacity="0.75"/></g>
<path d="M137.4,407.3 C137.4,407.9 137.1,408.7 136.6,409.2 C136.2,409.7 135.5,410.3 134.9,410.3 C134.3,410.3 133.6,409.7 133.1,409.3 C132.7,408.8 132.3,407.9 132.3,407.3 C132.3,406.7 132.7,405.8 133.1,405.4 C133.6,404.9 134.3,404.4 134.9,404.4 C135.5,404.4 136.2,404.9 136.6,405.4 C137.1,405.9 137.4,406.7 137.4,407.3 Z" stroke="none" stroke-width="1" fill="url(#tums)" filter="url(#soft)"/>
<path d="M155.8,408.3 C155.8,408.8 155.8,409.7 155.5,410.1 C155.2,410.5 154.4,410.8 153.9,410.8 C153.4,410.8 152.7,410.4 152.4,410.0 C152.0,409.6 151.8,408.8 151.8,408.3 C151.8,407.8 152.2,407.1 152.5,406.8 C152.9,406.4 153.5,406.2 153.9,406.2 C154.3,406.2 154.9,406.4 155.2,406.8 C155.6,407.1 155.8,407.8 155.8,408.3 Z" stroke="none" stroke-width="1" fill="url(#tums)" filter="url(#soft)"/>
<path d="M177.1,407.8 C177.1,408.4 177.1,409.4 176.7,409.9 C176.3,410.3 175.3,410.5 174.6,410.5 C173.9,410.5 172.9,410.4 172.5,409.9 C172.0,409.5 171.9,408.5 171.9,407.8 C171.9,407.1 172.0,406.1 172.4,405.6 C172.9,405.1 174.0,404.7 174.6,404.8 C175.2,404.9 175.9,405.6 176.3,406.1 C176.7,406.6 177.0,407.2 177.1,407.8 Z" stroke="none" stroke-width="1" fill="url(#tums)" filter="url(#soft)"/>
<path d="M197.9,408.5 C197.9,409.3 197.9,410.3 197.4,410.8 C197.0,411.3 196.0,411.5 195.3,411.5 C194.6,411.5 193.6,411.4 193.1,410.9 C192.7,410.4 192.5,409.2 192.6,408.5 C192.7,407.8 193.1,407.1 193.6,406.6 C194.0,406.1 194.7,405.5 195.3,405.4 C195.9,405.3 196.9,405.7 197.4,406.2 C197.8,406.8 197.8,407.7 197.9,408.5 Z" stroke="none" stroke-width="1" fill="url(#tums)" filter="url(#soft)"/>
<path d="M218.1,407.8 C218.1,408.5 217.7,409.4 217.3,409.9 C216.8,410.4 216.2,410.8 215.5,410.9 C214.8,411.0 213.8,410.9 213.3,410.4 C212.9,409.8 212.5,408.6 212.6,407.8 C212.6,407.0 213.2,406.2 213.7,405.7 C214.2,405.2 214.9,404.7 215.5,404.7 C216.1,404.7 216.8,405.2 217.3,405.7 C217.7,406.2 218.1,407.1 218.1,407.8 Z" stroke="none" stroke-width="1" fill="url(#tums)" filter="url(#soft)"/>
<path d="M237.6,407.8 C237.7,408.6 237.7,409.8 237.3,410.3 C236.9,410.8 236.0,410.8 235.4,410.8 C234.8,410.8 234.0,410.6 233.6,410.1 C233.2,409.6 232.9,408.5 232.9,407.8 C233.0,407.1 233.4,406.2 233.8,405.7 C234.2,405.1 234.9,404.4 235.4,404.4 C235.9,404.4 236.6,405.1 237.0,405.7 C237.4,406.3 237.6,407.0 237.6,407.8 Z" stroke="none" stroke-width="1" fill="url(#tums)" filter="url(#soft)"/>
<path d="M261.5,407.5 C261.5,408.5 260.8,409.7 260.3,410.4 C259.8,411.1 259.1,411.9 258.4,411.9 C257.7,411.9 256.9,411.2 256.4,410.5 C256.0,409.7 255.6,408.6 255.6,407.5 C255.5,406.4 255.6,404.8 256.0,404.0 C256.5,403.2 257.7,402.6 258.4,402.7 C259.1,402.8 259.9,403.7 260.4,404.5 C260.9,405.3 261.5,406.5 261.5,407.5 Z" stroke="none" stroke-width="1" fill="url(#tums)" filter="url(#soft)"/>
<path d="M285.5,408.5 C285.5,409.2 284.8,410.1 284.3,410.6 C283.8,411.2 283.2,411.6 282.5,411.7 C281.8,411.7 280.9,411.5 280.4,411.0 C279.9,410.5 279.6,409.3 279.7,408.5 C279.7,407.7 280.3,407.0 280.7,406.4 C281.2,405.8 281.9,404.9 282.5,404.9 C283.1,404.9 283.8,405.8 284.3,406.4 C284.8,407.0 285.5,407.8 285.5,408.5 Z" stroke="none" stroke-width="1" fill="url(#tums)" filter="url(#soft)"/>
<path d="M309.6,408.5 C309.6,409.2 309.5,410.3 309.1,410.8 C308.6,411.2 307.7,411.4 307.0,411.4 C306.3,411.3 305.6,411.0 305.2,410.5 C304.7,410.0 304.5,409.2 304.5,408.5 C304.5,407.8 304.8,407.1 305.2,406.6 C305.7,406.1 306.4,405.5 307.0,405.4 C307.6,405.4 308.4,406.0 308.8,406.5 C309.3,407.0 309.5,407.8 309.6,408.5 Z" stroke="none" stroke-width="1" fill="url(#tums)" filter="url(#soft)"/>
<path d="M336.1,408.5 C336.1,409.2 335.6,410.2 335.1,410.7 C334.5,411.3 333.7,411.7 333.0,411.7 C332.3,411.8 331.1,411.6 330.6,411.1 C330.1,410.5 330.0,409.3 330.0,408.5 C330.0,407.7 330.3,406.8 330.8,406.2 C331.3,405.6 332.3,404.9 333.0,405.0 C333.7,405.0 334.4,405.8 335.0,406.4 C335.5,407.0 336.1,407.8 336.1,408.5 Z" stroke="none" stroke-width="1" fill="url(#tums)" filter="url(#soft)"/>
<path d="M361.1,408.5 C361.1,409.4 361.1,410.7 360.6,411.4 C360.2,412.1 359.0,412.6 358.3,412.5 C357.6,412.5 356.8,411.7 356.3,411.0 C355.8,410.3 355.6,409.4 355.5,408.5 C355.5,407.6 355.6,406.4 356.1,405.7 C356.5,405.0 357.6,404.3 358.3,404.4 C359.0,404.4 359.8,405.4 360.3,406.0 C360.7,406.7 361.0,407.6 361.1,408.5 Z" stroke="none" stroke-width="1" fill="url(#tums)" filter="url(#soft)"/>
<path d="M384.1,409.0 C384.2,409.8 383.6,411.1 383.0,411.7 C382.4,412.3 381.3,412.6 380.5,412.6 C379.7,412.5 378.7,412.0 378.2,411.4 C377.8,410.8 377.5,409.8 377.6,409.0 C377.6,408.2 378.0,407.4 378.5,406.8 C378.9,406.2 379.8,405.1 380.5,405.1 C381.2,405.1 382.1,406.0 382.7,406.7 C383.3,407.3 384.0,408.2 384.1,409.0 Z" stroke="none" stroke-width="1" fill="url(#tums)" filter="url(#soft)"/>
<path d="M406.2,409.5 C406.2,410.7 405.5,412.2 405.0,413.2 C404.4,414.2 403.6,415.4 402.8,415.4 C402.0,415.5 401.0,414.5 400.4,413.5 C399.9,412.5 399.7,410.8 399.7,409.5 C399.7,408.2 400.2,406.9 400.7,405.9 C401.2,404.9 402.1,403.7 402.8,403.7 C403.5,403.7 404.3,405.0 404.9,406.0 C405.4,407.0 406.2,408.3 406.2,409.5 Z" stroke="none" stroke-width="1" fill="url(#tums)" filter="url(#soft)"/>
<text x="463.8" y="356.0" font-size="22.7" fill="#000" font-family='"Liberation Sans", sans-serif' textLength="35.2" lengthAdjust="spacingAndGlyphs">(iii)</text>
<text x="560.8" y="341.0" font-size="9.2" fill="#111" font-family='"Liberation Sans", sans-serif' font-weight="bold" textLength="58.0" lengthAdjust="spacingAndGlyphs">Vehicle Control</text>
<text x="680.0" y="341.0" font-size="9.2" fill="#111" font-family='"Liberation Sans", sans-serif' font-weight="bold" text-anchor="middle">SH6</text>
<line x1="541.3" y1="348.0" x2="634.5" y2="348.0" stroke="#333" stroke-width="1"/>
<line x1="638.5" y1="348.0" x2="736.3" y2="348.0" stroke="#333" stroke-width="1"/>
<text x="555.9" y="364.3" font-size="9.6" fill="#111" font-family='"Liberation Sans", sans-serif' font-weight="bold" text-anchor="middle" textLength="17.6" lengthAdjust="spacingAndGlyphs" transform="rotate(-60 555.9 364.3)">AC01</text>
<text x="579.7" y="364.3" font-size="9.6" fill="#111" font-family='"Liberation Sans", sans-serif' font-weight="bold" text-anchor="middle" textLength="17.6" lengthAdjust="spacingAndGlyphs" transform="rotate(-60 579.7 364.3)">AC05</text>
<text x="604.6" y="364.3" font-size="9.6" fill="#111" font-family='"Liberation Sans", sans-serif' font-weight="bold" text-anchor="middle" textLength="17.6" lengthAdjust="spacingAndGlyphs" transform="rotate(-60 604.6 364.3)">AC13</text>
<text x="628.3" y="364.3" font-size="9.6" fill="#111" font-family='"Liberation Sans", sans-serif' font-weight="bold" text-anchor="middle" textLength="17.6" lengthAdjust="spacingAndGlyphs" transform="rotate(-60 628.3 364.3)">AC27</text>
<text x="652.2" y="364.3" font-size="9.6" fill="#111" font-family='"Liberation Sans", sans-serif' font-weight="bold" text-anchor="middle" textLength="17.6" lengthAdjust="spacingAndGlyphs" transform="rotate(-60 652.2 364.3)">AC22</text>
<text x="676.3" y="364.3" font-size="9.6" fill="#111" font-family='"Liberation Sans", sans-serif' font-weight="bold" text-anchor="middle" textLength="17.6" lengthAdjust="spacingAndGlyphs" transform="rotate(-60 676.3 364.3)">AC65</text>
<text x="701.1" y="364.3" font-size="9.6" fill="#111" font-family='"Liberation Sans", sans-serif' font-weight="bold" text-anchor="middle" textLength="17.6" lengthAdjust="spacingAndGlyphs" transform="rotate(-60 701.1 364.3)">AC70</text>
<text x="725.2" y="364.3" font-size="9.6" fill="#111" font-family='"Liberation Sans", sans-serif' font-weight="bold" text-anchor="middle" textLength="17.6" lengthAdjust="spacingAndGlyphs" transform="rotate(-60 725.2 364.3)">AC75</text>
<text x="505.2" y="405.0" font-size="10.2" fill="#111" font-family='"Liberation Sans", sans-serif' font-weight="bold" textLength="23.0" lengthAdjust="spacingAndGlyphs">SALL4</text>
<text x="509.4" y="448.4" font-size="10.2" fill="#111" font-family='"Liberation Sans", sans-serif' font-weight="bold" textLength="25.8" lengthAdjust="spacingAndGlyphs">β-actin</text>
<rect x="538.3" y="378.2" width="194.2" height="51.9" fill="#f2f2f2" stroke="#8a8a8a" stroke-width="0.9"/>
<rect x="538.3" y="432.1" width="194.2" height="23.0" fill="#e2e2e2" stroke="#8a8a8a" stroke-width="0.9"/>
<g filter="url(#bl2)">
<rect x="541.6" y="399.0" width="18.1" height="20.0" fill="url(#smear)"/>
<rect x="565.6" y="399.0" width="18.6" height="20.0" fill="url(#smear)"/>
<rect x="589.2" y="399.0" width="18.7" height="20.0" fill="url(#smear)"/>
<rect x="614.3" y="399.0" width="17.1" height="20.0" fill="#d6d6d6"/>
</g><g filter="url(#bl)">
<rect x="542.1" y="404.5" width="17.1" height="2.2" fill="#888" opacity="0.35" rx="1"/>
<rect x="542.1" y="409.0" width="17.1" height="2.2" fill="#888" opacity="0.30" rx="1"/>
<rect x="542.1" y="413.5" width="17.1" height="2.2" fill="#888" opacity="0.25" rx="1"/>
<rect x="566.1" y="404.5" width="17.6" height="2.2" fill="#888" opacity="0.35" rx="1"/>
<rect x="566.1" y="409.0" width="17.6" height="2.2" fill="#888" opacity="0.30" rx="1"/>
<rect x="566.1" y="413.5" width="17.6" height="2.2" fill="#888" opacity="0.25" rx="1"/>
<rect x="589.7" y="404.5" width="17.7" height="2.2" fill="#888" opacity="0.35" rx="1"/>
<rect x="589.7" y="409.0" width="17.7" height="2.2" fill="#888" opacity="0.30" rx="1"/>
<rect x="589.7" y="413.5" width="17.7" height="2.2" fill="#888" opacity="0.25" rx="1"/>
<rect x="614.8" y="404.5" width="16.1" height="2.2" fill="#888" opacity="0.14" rx="1"/>
<rect x="614.8" y="409.0" width="16.1" height="2.2" fill="#888" opacity="0.12" rx="1"/>
<rect x="614.8" y="413.5" width="16.1" height="2.2" fill="#888" opacity="0.10" rx="1"/>
<rect x="542.1" y="388.0" width="17.1" height="6.0" fill="#3a3a3a"/>
<rect x="541.1" y="380.9" width="19.1" height="9.6" fill="#080808" rx="4"/>
<rect x="541.6" y="392.4" width="18.1" height="8.4" fill="#0d0d0d" rx="4"/>
<rect x="541.6" y="418.6" width="18.1" height="7.6" fill="#0a0a0a" rx="3.5"/>
<rect x="566.1" y="388.0" width="17.6" height="6.0" fill="#3a3a3a"/>
<rect x="565.1" y="381.5" width="19.6" height="9.6" fill="#080808" rx="4"/>
<rect x="565.6" y="392.8" width="18.6" height="8.4" fill="#0d0d0d" rx="4"/>
<rect x="565.6" y="419.0" width="18.6" height="7.6" fill="#0a0a0a" rx="3.5"/>
<rect x="589.7" y="388.0" width="17.7" height="6.0" fill="#3a3a3a"/>
<rect x="588.7" y="382.1" width="19.7" height="9.6" fill="#080808" rx="4"/>
<rect x="589.2" y="393.2" width="18.7" height="8.4" fill="#0d0d0d" rx="4"/>
<rect x="589.2" y="419.4" width="18.7" height="7.6" fill="#0a0a0a" rx="3.5"/>
<rect x="614.8" y="389.5" width="16.1" height="6.0" fill="#5a5a5a"/>
<rect x="613.8" y="383.0" width="18.1" height="8.0" fill="#0a0a0a" rx="3.5"/>
<rect x="613.8" y="394.8" width="18.1" height="6.3" fill="#111" rx="3"/>
<rect x="614.3" y="421.6" width="17.1" height="4.6" fill="#2a2a2a" rx="2.3"/>
<rect x="638.5" y="385.3" width="16.5" height="3.8" fill="url(#bg1)" rx="1.9"/>
<rect x="638.5" y="396.8" width="16.5" height="3.2" fill="#c4c4c4" rx="1.6"/>
<rect x="638.5" y="422.4" width="16.5" height="3.6" fill="#c2c2c2" rx="1.8"/>
<rect x="662.7" y="385.3" width="16.6" height="3.8" fill="#9a9a9a" rx="1.9"/>
<rect x="662.7" y="396.8" width="16.6" height="3.2" fill="#b0b0b0" rx="1.6"/>
<rect x="662.7" y="422.4" width="16.6" height="3.6" fill="url(#bg2)" rx="1.8"/>
<rect x="687.3" y="385.3" width="16.9" height="3.8" fill="url(#bg3)" rx="1.9"/>
<rect x="687.3" y="396.8" width="16.9" height="3.2" fill="#5a5a5a" rx="1.6"/>
<rect x="687.3" y="422.4" width="16.9" height="3.6" fill="#ababab" rx="1.8"/>
<rect x="711.8" y="385.3" width="16.6" height="3.8" fill="#9c9c9c" rx="1.9"/>
<rect x="711.8" y="396.8" width="16.6" height="3.2" fill="#bdbdbd" rx="1.6"/>
<rect x="711.8" y="422.4" width="16.6" height="3.6" fill="#c6c6c6" rx="1.8"/>
<rect x="540.5" y="439.5" width="22.5" height="8.2" fill="#080808" rx="4"/>
<rect x="565.3" y="439.5" width="21.5" height="8.2" fill="#080808" rx="4"/>
<rect x="589.3" y="439.5" width="22.2" height="8.2" fill="#080808" rx="4"/>
<rect x="612.5" y="439.5" width="21.7" height="8.2" fill="#080808" rx="4"/>
<rect x="635.3" y="439.5" width="22.9" height="8.2" fill="#080808" rx="4"/>
<rect x="659.5" y="439.5" width="23.0" height="8.2" fill="#080808" rx="4"/>
<rect x="684.4" y="439.5" width="23.6" height="8.2" fill="#080808" rx="4"/>
<rect x="708.6" y="439.5" width="23.4" height="8.2" fill="#080808" rx="4"/>
</g>
<text x="12.6" y="504.5" font-size="22.8" fill="#000" font-family='"Liberation Sans", sans-serif' textLength="33.7" lengthAdjust="spacingAndGlyphs">(iv)</text>
<text x="155.6" y="497.6" font-size="12.5" fill="#111" font-family='"Liberation Sans", sans-serif' textLength="119.9" lengthAdjust="spacingAndGlyphs">PDX Tumor growth</text>
<line x1="108.9" y1="516.0" x2="108.9" y2="659.5" stroke="#111" stroke-width="1.5"/>
<line x1="108.2" y1="658.9" x2="325.0" y2="658.9" stroke="#111" stroke-width="1.5"/>
<line x1="104.9" y1="658.9" x2="108.9" y2="658.9" stroke="#111" stroke-width="1.5"/>
<text x="102.6" y="662.5" font-size="10.2" fill="#111" font-family='"Liberation Sans", sans-serif' font-weight="bold" text-anchor="end">0</text>
<line x1="104.9" y1="641.0" x2="108.9" y2="641.0" stroke="#111" stroke-width="1.5"/>
<text x="102.6" y="644.6" font-size="10.2" fill="#111" font-family='"Liberation Sans", sans-serif' font-weight="bold" text-anchor="end">200</text>
<line x1="104.9" y1="623.2" x2="108.9" y2="623.2" stroke="#111" stroke-width="1.5"/>
<text x="102.6" y="626.8" font-size="10.2" fill="#111" font-family='"Liberation Sans", sans-serif' font-weight="bold" text-anchor="end">400</text>
<line x1="104.9" y1="605.4" x2="108.9" y2="605.4" stroke="#111" stroke-width="1.5"/>
<text x="102.6" y="609.0" font-size="10.2" fill="#111" font-family='"Liberation Sans", sans-serif' font-weight="bold" text-anchor="end">600</text>
<line x1="104.9" y1="587.5" x2="108.9" y2="587.5" stroke="#111" stroke-width="1.5"/>
<text x="102.6" y="591.1" font-size="10.2" fill="#111" font-family='"Liberation Sans", sans-serif' font-weight="bold" text-anchor="end">800</text>
<line x1="104.9" y1="569.6" x2="108.9" y2="569.6" stroke="#111" stroke-width="1.5"/>
<text x="102.6" y="573.2" font-size="10.2" fill="#111" font-family='"Liberation Sans", sans-serif' font-weight="bold" text-anchor="end">1000</text>
<line x1="104.9" y1="551.8" x2="108.9" y2="551.8" stroke="#111" stroke-width="1.5"/>
<text x="102.6" y="555.4" font-size="10.2" fill="#111" font-family='"Liberation Sans", sans-serif' font-weight="bold" text-anchor="end">1200</text>
<line x1="104.9" y1="533.9" x2="108.9" y2="533.9" stroke="#111" stroke-width="1.5"/>
<text x="102.6" y="537.5" font-size="10.2" fill="#111" font-family='"Liberation Sans", sans-serif' font-weight="bold" text-anchor="end">1400</text>
<line x1="104.9" y1="516.1" x2="108.9" y2="516.1" stroke="#111" stroke-width="1.5"/>
<text x="102.6" y="519.7" font-size="10.2" fill="#111" font-family='"Liberation Sans", sans-serif' font-weight="bold" text-anchor="end">1600</text>
<line x1="108.9" y1="658.9" x2="108.9" y2="663.0" stroke="#111" stroke-width="1.5"/>
<text x="108.9" y="675.5" font-size="10.6" fill="#111" font-family='"Liberation Sans", sans-serif' font-weight="bold" text-anchor="middle">0</text>
<line x1="152.1" y1="658.9" x2="152.1" y2="663.0" stroke="#111" stroke-width="1.5"/>
<text x="152.1" y="675.5" font-size="10.6" fill="#111" font-family='"Liberation Sans", sans-serif' font-weight="bold" text-anchor="middle">10</text>
<line x1="195.3" y1="658.9" x2="195.3" y2="663.0" stroke="#111" stroke-width="1.5"/>
<text x="195.3" y="675.5" font-size="10.6" fill="#111" font-family='"Liberation Sans", sans-serif' font-weight="bold" text-anchor="middle">20</text>
<line x1="238.5" y1="658.9" x2="238.5" y2="663.0" stroke="#111" stroke-width="1.5"/>
<text x="238.5" y="675.5" font-size="10.6" fill="#111" font-family='"Liberation Sans", sans-serif' font-weight="bold" text-anchor="middle">30</text>
<line x1="281.7" y1="658.9" x2="281.7" y2="663.0" stroke="#111" stroke-width="1.5"/>
<text x="281.7" y="675.5" font-size="10.6" fill="#111" font-family='"Liberation Sans", sans-serif' font-weight="bold" text-anchor="middle">40</text>
<line x1="324.9" y1="658.9" x2="324.9" y2="663.0" stroke="#111" stroke-width="1.5"/>
<text x="324.9" y="675.5" font-size="10.6" fill="#111" font-family='"Liberation Sans", sans-serif' font-weight="bold" text-anchor="middle">50</text>
<text x="216.7" y="690.0" font-size="10.8" fill="#111" font-family='"Liberation Sans", sans-serif' font-weight="bold" text-anchor="middle">Days</text>
<text x="71.1" y="587.3" font-size="12.2" fill="#111" font-family='"Liberation Sans", sans-serif' font-weight="bold" text-anchor="middle" textLength="91.0" lengthAdjust="spacingAndGlyphs" transform="rotate(-90 71.1 587.3)">tumor vol (mm<tspan dy="-5" font-size="8.5">3</tspan><tspan dy="5">)</tspan></text>
<path d="M108.9,652.2 L126.2,648.6 L134.8,646.0 L147.8,641.5 L156.4,636.6 L165.1,630.8 L178.0,626.3 L186.7,622.8 L195.3,617.8 L208.3,612.0 L216.9,604.0 L225.5,586.6 L238.5,575.5 L247.1,569.2 L255.8,558.5 L268.7,542.0 L277.4,525.9" stroke="#5a5a5a" stroke-width="1.6" fill="none" stroke-linejoin="round"/>
<circle cx="108.9" cy="652.2" r="3.1" fill="#5a5a5a"/>
<circle cx="126.2" cy="648.6" r="3.1" fill="#5a5a5a"/>
<circle cx="134.8" cy="646.0" r="3.1" fill="#5a5a5a"/>
<circle cx="147.8" cy="641.5" r="3.1" fill="#5a5a5a"/>
<circle cx="156.4" cy="636.6" r="3.1" fill="#5a5a5a"/>
<circle cx="165.1" cy="630.8" r="3.1" fill="#5a5a5a"/>
<circle cx="178.0" cy="626.3" r="3.1" fill="#5a5a5a"/>
<line x1="186.7" y1="625.4" x2="186.7" y2="620.1" stroke="#5a5a5a" stroke-width="1.6"/>
<line x1="183.7" y1="620.1" x2="189.7" y2="620.1" stroke="#5a5a5a" stroke-width="1.6"/>
<line x1="183.7" y1="625.4" x2="189.7" y2="625.4" stroke="#5a5a5a" stroke-width="1.6"/>
<circle cx="186.7" cy="622.8" r="3.1" fill="#5a5a5a"/>
<line x1="195.3" y1="621.4" x2="195.3" y2="614.3" stroke="#5a5a5a" stroke-width="1.6"/>
<line x1="192.3" y1="614.3" x2="198.3" y2="614.3" stroke="#5a5a5a" stroke-width="1.6"/>
<line x1="192.3" y1="621.4" x2="198.3" y2="621.4" stroke="#5a5a5a" stroke-width="1.6"/>
<circle cx="195.3" cy="617.8" r="3.1" fill="#5a5a5a"/>
<line x1="208.3" y1="616.5" x2="208.3" y2="607.6" stroke="#5a5a5a" stroke-width="1.6"/>
<line x1="205.3" y1="607.6" x2="211.3" y2="607.6" stroke="#5a5a5a" stroke-width="1.6"/>
<line x1="205.3" y1="616.5" x2="211.3" y2="616.5" stroke="#5a5a5a" stroke-width="1.6"/>
<circle cx="208.3" cy="612.0" r="3.1" fill="#5a5a5a"/>
<line x1="216.9" y1="607.6" x2="216.9" y2="600.4" stroke="#5a5a5a" stroke-width="1.6"/>
<line x1="213.9" y1="600.4" x2="219.9" y2="600.4" stroke="#5a5a5a" stroke-width="1.6"/>
<line x1="213.9" y1="607.6" x2="219.9" y2="607.6" stroke="#5a5a5a" stroke-width="1.6"/>
<circle cx="216.9" cy="604.0" r="3.1" fill="#5a5a5a"/>
<line x1="225.5" y1="590.2" x2="225.5" y2="583.0" stroke="#5a5a5a" stroke-width="1.6"/>
<line x1="222.5" y1="583.0" x2="228.5" y2="583.0" stroke="#5a5a5a" stroke-width="1.6"/>
<line x1="222.5" y1="590.2" x2="228.5" y2="590.2" stroke="#5a5a5a" stroke-width="1.6"/>
<circle cx="225.5" cy="586.6" r="3.1" fill="#5a5a5a"/>
<line x1="238.5" y1="579.9" x2="238.5" y2="571.0" stroke="#5a5a5a" stroke-width="1.6"/>
<line x1="235.5" y1="571.0" x2="241.5" y2="571.0" stroke="#5a5a5a" stroke-width="1.6"/>
<line x1="235.5" y1="579.9" x2="241.5" y2="579.9" stroke="#5a5a5a" stroke-width="1.6"/>
<circle cx="238.5" cy="575.5" r="3.1" fill="#5a5a5a"/>
<line x1="247.1" y1="574.6" x2="247.1" y2="563.8" stroke="#5a5a5a" stroke-width="1.6"/>
<line x1="244.1" y1="563.8" x2="250.1" y2="563.8" stroke="#5a5a5a" stroke-width="1.6"/>
<line x1="244.1" y1="574.6" x2="250.1" y2="574.6" stroke="#5a5a5a" stroke-width="1.6"/>
<circle cx="247.1" cy="569.2" r="3.1" fill="#5a5a5a"/>
<line x1="255.8" y1="566.5" x2="255.8" y2="550.5" stroke="#5a5a5a" stroke-width="1.6"/>
<line x1="252.8" y1="550.5" x2="258.8" y2="550.5" stroke="#5a5a5a" stroke-width="1.6"/>
<line x1="252.8" y1="566.5" x2="258.8" y2="566.5" stroke="#5a5a5a" stroke-width="1.6"/>
<circle cx="255.8" cy="558.5" r="3.1" fill="#5a5a5a"/>
<line x1="268.7" y1="548.2" x2="268.7" y2="535.7" stroke="#5a5a5a" stroke-width="1.6"/>
<line x1="265.7" y1="535.7" x2="271.7" y2="535.7" stroke="#5a5a5a" stroke-width="1.6"/>
<line x1="265.7" y1="548.2" x2="271.7" y2="548.2" stroke="#5a5a5a" stroke-width="1.6"/>
<circle cx="268.7" cy="542.0" r="3.1" fill="#5a5a5a"/>
<line x1="277.4" y1="534.8" x2="277.4" y2="517.0" stroke="#5a5a5a" stroke-width="1.6"/>
<line x1="274.4" y1="517.0" x2="280.4" y2="517.0" stroke="#5a5a5a" stroke-width="1.6"/>
<line x1="274.4" y1="534.8" x2="280.4" y2="534.8" stroke="#5a5a5a" stroke-width="1.6"/>
<circle cx="277.4" cy="525.9" r="3.1" fill="#5a5a5a"/>
<path d="M108.9,652.2 L126.2,650.4 L134.8,650.0 L147.8,649.5 L156.4,649.5 L165.1,648.9 L178.0,647.7 L186.7,647.3 L195.3,646.4 L208.3,644.6 L216.9,644.8 L225.5,644.4 L238.5,643.7 L247.1,644.8 L255.8,644.2 L268.7,643.9 L277.4,642.8" stroke="#e8383d" stroke-width="1.6" fill="none" stroke-linejoin="round"/>
<circle cx="108.9" cy="652.2" r="3.1" fill="#e8383d"/>
<circle cx="126.2" cy="650.4" r="3.1" fill="#e8383d"/>
<circle cx="134.8" cy="650.0" r="3.1" fill="#e8383d"/>
<circle cx="147.8" cy="649.5" r="3.1" fill="#e8383d"/>
<circle cx="156.4" cy="649.5" r="3.1" fill="#e8383d"/>
<circle cx="165.1" cy="648.9" r="3.1" fill="#e8383d"/>
<circle cx="178.0" cy="647.7" r="3.1" fill="#e8383d"/>
<circle cx="186.7" cy="647.3" r="3.1" fill="#e8383d"/>
<circle cx="195.3" cy="646.4" r="3.1" fill="#e8383d"/>
<circle cx="208.3" cy="644.6" r="3.1" fill="#e8383d"/>
<circle cx="216.9" cy="644.8" r="3.1" fill="#e8383d"/>
<circle cx="225.5" cy="644.4" r="3.1" fill="#e8383d"/>
<circle cx="238.5" cy="643.7" r="3.1" fill="#e8383d"/>
<circle cx="247.1" cy="644.8" r="3.1" fill="#e8383d"/>
<circle cx="255.8" cy="644.2" r="3.1" fill="#e8383d"/>
<circle cx="268.7" cy="643.9" r="3.1" fill="#e8383d"/>
<circle cx="277.4" cy="642.8" r="3.1" fill="#e8383d"/>
<line x1="133.0" y1="549.0" x2="153.0" y2="549.0" stroke="#5a5a5a" stroke-width="1.6"/>
<circle cx="143.0" cy="549.0" r="3.4" fill="#5a5a5a"/>
<text x="157.0" y="553.5" font-size="12" fill="#222" font-family='"Liberation Sans", sans-serif' textLength="78.6" lengthAdjust="spacingAndGlyphs">Vehicle control</text>
<line x1="133.0" y1="566.3" x2="153.0" y2="566.3" stroke="#e8383d" stroke-width="1.6"/>
<circle cx="143.0" cy="566.3" r="3.4" fill="#e8383d"/>
<text x="157.0" y="570.8" font-size="12" fill="#222" font-family='"Liberation Sans", sans-serif' textLength="20.5" lengthAdjust="spacingAndGlyphs">SH6</text>
<line x1="300.4" y1="517.0" x2="300.4" y2="636.0" stroke="#777" stroke-width="1"/>
<line x1="297.6" y1="517.0" x2="300.4" y2="517.0" stroke="#777" stroke-width="1"/>
<line x1="297.6" y1="636.0" x2="300.4" y2="636.0" stroke="#777" stroke-width="1"/>
<line x1="300.4" y1="576.6" x2="303.8" y2="576.6" stroke="#777" stroke-width="1"/>
<text x="311.0" y="592.0" font-size="10.6" fill="#222" font-family='"Liberation Sans", sans-serif' textLength="82.0" lengthAdjust="spacingAndGlyphs">P=0.0001****</text>
<text x="363.4" y="504.5" font-size="22.8" fill="#000" font-family='"Liberation Sans", sans-serif' textLength="27.9" lengthAdjust="spacingAndGlyphs">(v)</text>
<text x="513.1" y="493.4" font-size="13.4" fill="#111" font-family='"Liberation Sans", sans-serif' font-weight="bold" textLength="99.9" lengthAdjust="spacingAndGlyphs">Tumor volume</text>
<line x1="471.0" y1="514.1" x2="471.0" y2="663.0" stroke="#111" stroke-width="1.5"/>
<line x1="470.3" y1="662.4" x2="654.4" y2="662.4" stroke="#111" stroke-width="1.5"/>
<line x1="467.0" y1="662.4" x2="471.0" y2="662.4" stroke="#111" stroke-width="1.5"/>
<text x="465.0" y="666.2" font-size="10.6" fill="#111" font-family='"Liberation Sans", sans-serif' font-weight="bold" text-anchor="end">0</text>
<line x1="467.0" y1="613.0" x2="471.0" y2="613.0" stroke="#111" stroke-width="1.5"/>
<text x="465.0" y="616.8" font-size="10.6" fill="#111" font-family='"Liberation Sans", sans-serif' font-weight="bold" text-anchor="end">1000</text>
<line x1="467.0" y1="563.6" x2="471.0" y2="563.6" stroke="#111" stroke-width="1.5"/>
<text x="465.0" y="567.4" font-size="10.6" fill="#111" font-family='"Liberation Sans", sans-serif' font-weight="bold" text-anchor="end">2000</text>
<line x1="467.0" y1="514.2" x2="471.0" y2="514.2" stroke="#111" stroke-width="1.5"/>
<text x="465.0" y="518.0" font-size="10.6" fill="#111" font-family='"Liberation Sans", sans-serif' font-weight="bold" text-anchor="end">3000</text>
<line x1="523.6" y1="662.4" x2="523.6" y2="666.0" stroke="#111" stroke-width="1.5"/>
<line x1="602.4" y1="662.4" x2="602.4" y2="666.0" stroke="#111" stroke-width="1.5"/>
<text x="507.7" y="677.0" font-size="12" fill="#222" font-family='"Liberation Sans", sans-serif' textLength="39.9" lengthAdjust="spacingAndGlyphs">Control</text>
<text x="588.4" y="677.0" font-size="12" fill="#222" font-family='"Liberation Sans", sans-serif' textLength="24.6" lengthAdjust="spacingAndGlyphs">SH6</text>
<text x="432.0" y="588.4" font-size="12.4" fill="#111" font-family='"Liberation Sans", sans-serif' font-weight="bold" text-anchor="middle" textLength="94.0" lengthAdjust="spacingAndGlyphs" transform="rotate(-90 432.0 588.4)">tumor vol (mm<tspan dy="-5" font-size="8.5">3</tspan><tspan dy="5">)</tspan></text>
<line x1="530.0" y1="516.7" x2="610.7" y2="516.7" stroke="#888" stroke-width="1.2"/>
<text x="532.2" y="511.9" font-size="12.6" fill="#222" font-family='"Liberation Sans", sans-serif' textLength="83.0" lengthAdjust="spacingAndGlyphs">P=0.0001****</text>
<line x1="523.6" y1="569.9" x2="523.6" y2="606.9" stroke="#6a6a6a" stroke-width="1.5"/>
<line x1="512.5" y1="569.9" x2="537.3" y2="569.9" stroke="#6a6a6a" stroke-width="1.5"/>
<line x1="512.5" y1="606.9" x2="537.3" y2="606.9" stroke="#6a6a6a" stroke-width="1.5"/>
<line x1="498.1" y1="588.4" x2="550.1" y2="588.4" stroke="#6a6a6a" stroke-width="1.5"/>
<circle cx="523.6" cy="536.4" r="2.9" fill="#6a6a6a"/>
<circle cx="524.6" cy="569.3" r="2.9" fill="#6a6a6a"/>
<circle cx="506.7" cy="591.0" r="2.9" fill="#6a6a6a"/>
<circle cx="514.1" cy="592.2" r="2.9" fill="#6a6a6a"/>
<circle cx="518.9" cy="588.4" r="2.9" fill="#6a6a6a"/>
<circle cx="525.2" cy="588.4" r="2.9" fill="#6a6a6a"/>
<circle cx="531.0" cy="588.4" r="2.9" fill="#6a6a6a"/>
<circle cx="530.0" cy="593.2" r="2.9" fill="#6a6a6a"/>
<circle cx="540.5" cy="592.2" r="2.9" fill="#6a6a6a"/>
<circle cx="521.4" cy="595.4" r="2.9" fill="#6a6a6a"/>
<circle cx="528.4" cy="596.4" r="2.9" fill="#6a6a6a"/>
<circle cx="526.8" cy="606.0" r="2.9" fill="#6a6a6a"/>
<circle cx="520.4" cy="612.3" r="2.9" fill="#6a6a6a"/>
<line x1="602.4" y1="650.6" x2="602.4" y2="654.7" stroke="#ee2424" stroke-width="1.5"/>
<line x1="597.0" y1="650.6" x2="611.3" y2="650.6" stroke="#ee2424" stroke-width="1.5"/>
<circle cx="602.4" cy="645.8" r="2.9" fill="#ee2424"/>
<circle cx="582.6" cy="653.8" r="2.9" fill="#ee2424"/>
<circle cx="588.4" cy="654.7" r="2.9" fill="#ee2424"/>
<circle cx="593.8" cy="656.0" r="2.9" fill="#ee2424"/>
<circle cx="598.6" cy="653.8" r="2.9" fill="#ee2424"/>
<circle cx="603.4" cy="657.0" r="2.9" fill="#ee2424"/>
<circle cx="608.1" cy="654.7" r="2.9" fill="#ee2424"/>
<circle cx="612.9" cy="653.8" r="2.9" fill="#ee2424"/>
<circle cx="617.7" cy="654.7" r="2.9" fill="#ee2424"/>
<circle cx="622.5" cy="652.2" r="2.9" fill="#ee2424"/>
<circle cx="595.4" cy="652.2" r="2.9" fill="#ee2424"/>
<circle cx="605.6" cy="652.2" r="2.9" fill="#ee2424"/>
<circle cx="600.2" cy="657.0" r="2.9" fill="#ee2424"/>
<line x1="577.8" y1="653.8" x2="628.9" y2="653.8" stroke="#ee2424" stroke-width="1.5"/>
<text x="18.1" y="720.4" font-size="23" fill="#000" font-family='"Liberation Sans", sans-serif' textLength="34.2" lengthAdjust="spacingAndGlyphs">(vi)</text>
<text x="157.0" y="731.3" font-size="8.8" fill="#222" font-family='"Liberation Sans", sans-serif' textLength="52.8" lengthAdjust="spacingAndGlyphs">Body weight</text>
<line x1="100.5" y1="747.5" x2="100.5" y2="872.5" stroke="#111" stroke-width="1.3"/>
<line x1="99.9" y1="871.9" x2="273.5" y2="871.9" stroke="#111" stroke-width="1.3"/>
<line x1="97.0" y1="871.9" x2="100.5" y2="871.9" stroke="#111" stroke-width="1.3"/>
<text x="96.0" y="875.1" font-size="9.2" fill="#111" font-family='"Liberation Sans", sans-serif' font-weight="bold" text-anchor="end">12</text>
<line x1="97.0" y1="847.0" x2="100.5" y2="847.0" stroke="#111" stroke-width="1.3"/>
<text x="96.0" y="850.2" font-size="9.2" fill="#111" font-family='"Liberation Sans", sans-serif' font-weight="bold" text-anchor="end">14</text>
<line x1="97.0" y1="822.1" x2="100.5" y2="822.1" stroke="#111" stroke-width="1.3"/>
<text x="96.0" y="825.3" font-size="9.2" fill="#111" font-family='"Liberation Sans", sans-serif' font-weight="bold" text-anchor="end">16</text>
<line x1="97.0" y1="797.3" x2="100.5" y2="797.3" stroke="#111" stroke-width="1.3"/>
<text x="96.0" y="800.5" font-size="9.2" fill="#111" font-family='"Liberation Sans", sans-serif' font-weight="bold" text-anchor="end">18</text>
<line x1="97.0" y1="772.4" x2="100.5" y2="772.4" stroke="#111" stroke-width="1.3"/>
<text x="96.0" y="775.6" font-size="9.2" fill="#111" font-family='"Liberation Sans", sans-serif' font-weight="bold" text-anchor="end">20</text>
<line x1="97.0" y1="747.5" x2="100.5" y2="747.5" stroke="#111" stroke-width="1.3"/>
<text x="96.0" y="750.7" font-size="9.2" fill="#111" font-family='"Liberation Sans", sans-serif' font-weight="bold" text-anchor="end">22</text>
<line x1="100.5" y1="871.9" x2="100.5" y2="876.3" stroke="#111" stroke-width="1.3"/>
<text x="100.5" y="885.6" font-size="9.2" fill="#111" font-family='"Liberation Sans", sans-serif' font-weight="bold" text-anchor="middle">0</text>
<line x1="143.8" y1="871.9" x2="143.8" y2="876.3" stroke="#111" stroke-width="1.3"/>
<text x="143.8" y="885.6" font-size="9.2" fill="#111" font-family='"Liberation Sans", sans-serif' font-weight="bold" text-anchor="middle">10</text>
<line x1="187.0" y1="871.9" x2="187.0" y2="876.3" stroke="#111" stroke-width="1.3"/>
<text x="187.0" y="885.6" font-size="9.2" fill="#111" font-family='"Liberation Sans", sans-serif' font-weight="bold" text-anchor="middle">20</text>
<line x1="230.2" y1="871.9" x2="230.2" y2="876.3" stroke="#111" stroke-width="1.3"/>
<text x="230.2" y="885.6" font-size="9.2" fill="#111" font-family='"Liberation Sans", sans-serif' font-weight="bold" text-anchor="middle">30</text>
<line x1="273.5" y1="871.9" x2="273.5" y2="876.3" stroke="#111" stroke-width="1.3"/>
<text x="273.5" y="885.6" font-size="9.2" fill="#111" font-family='"Liberation Sans", sans-serif' font-weight="bold" text-anchor="middle">40</text>
<text x="146.8" y="898.7" font-size="9.6" fill="#111" font-family='"Liberation Sans", sans-serif' font-weight="bold" textLength="80.9" lengthAdjust="spacingAndGlyphs">Days of treatment</text>
<text x="81.5" y="808.3" font-size="9.6" fill="#111" font-family='"Liberation Sans", sans-serif' font-weight="bold" text-anchor="middle" textLength="75.4" lengthAdjust="spacingAndGlyphs" transform="rotate(-90 81.5 808.3)">Body Weight (g)</text>
<path d="M100.5,797.3 L117.8,795.4 L126.5,793.5 L135.1,791.0 L148.1,788.6 L156.7,784.8 L165.4,781.1 L178.4,778.0 L187.0,776.1 L195.7,774.9 L208.6,773.6 L217.3,772.4 L225.9,771.1 L238.9,772.4 L247.6,772.4 L260.5,773.6 L269.2,773.6" stroke="#666" stroke-width="1.1" fill="none" stroke-linejoin="round"/>
<line x1="100.5" y1="798.5" x2="100.5" y2="796.0" stroke="#666" stroke-width="0.9"/>
<circle cx="100.5" cy="797.3" r="1.9" fill="#666"/>
<line x1="117.8" y1="796.6" x2="117.8" y2="794.1" stroke="#666" stroke-width="0.9"/>
<circle cx="117.8" cy="795.4" r="1.9" fill="#666"/>
<line x1="126.5" y1="794.8" x2="126.5" y2="792.3" stroke="#666" stroke-width="0.9"/>
<circle cx="126.5" cy="793.5" r="1.9" fill="#666"/>
<line x1="135.1" y1="792.3" x2="135.1" y2="789.8" stroke="#666" stroke-width="0.9"/>
<circle cx="135.1" cy="791.0" r="1.9" fill="#666"/>
<line x1="148.1" y1="789.8" x2="148.1" y2="787.3" stroke="#666" stroke-width="0.9"/>
<circle cx="148.1" cy="788.6" r="1.9" fill="#666"/>
<line x1="156.7" y1="786.1" x2="156.7" y2="783.6" stroke="#666" stroke-width="0.9"/>
<circle cx="156.7" cy="784.8" r="1.9" fill="#666"/>
<line x1="165.4" y1="782.3" x2="165.4" y2="779.8" stroke="#666" stroke-width="0.9"/>
<circle cx="165.4" cy="781.1" r="1.9" fill="#666"/>
<line x1="178.4" y1="779.2" x2="178.4" y2="776.7" stroke="#666" stroke-width="0.9"/>
<circle cx="178.4" cy="778.0" r="1.9" fill="#666"/>
<line x1="187.0" y1="777.4" x2="187.0" y2="774.9" stroke="#666" stroke-width="0.9"/>
<circle cx="187.0" cy="776.1" r="1.9" fill="#666"/>
<line x1="195.7" y1="776.1" x2="195.7" y2="773.6" stroke="#666" stroke-width="0.9"/>
<circle cx="195.7" cy="774.9" r="1.9" fill="#666"/>
<line x1="208.6" y1="774.9" x2="208.6" y2="772.4" stroke="#666" stroke-width="0.9"/>
<circle cx="208.6" cy="773.6" r="1.9" fill="#666"/>
<line x1="217.3" y1="773.6" x2="217.3" y2="771.1" stroke="#666" stroke-width="0.9"/>
<circle cx="217.3" cy="772.4" r="1.9" fill="#666"/>
<line x1="225.9" y1="772.4" x2="225.9" y2="769.9" stroke="#666" stroke-width="0.9"/>
<circle cx="225.9" cy="771.1" r="1.9" fill="#666"/>
<line x1="238.9" y1="773.6" x2="238.9" y2="771.1" stroke="#666" stroke-width="0.9"/>
<circle cx="238.9" cy="772.4" r="1.9" fill="#666"/>
<line x1="247.6" y1="773.6" x2="247.6" y2="771.1" stroke="#666" stroke-width="0.9"/>
<circle cx="247.6" cy="772.4" r="1.9" fill="#666"/>
<line x1="260.5" y1="774.9" x2="260.5" y2="772.4" stroke="#666" stroke-width="0.9"/>
<circle cx="260.5" cy="773.6" r="1.9" fill="#666"/>
<line x1="269.2" y1="774.9" x2="269.2" y2="772.4" stroke="#666" stroke-width="0.9"/>
<circle cx="269.2" cy="773.6" r="1.9" fill="#666"/>
<path d="M100.5,796.0 L117.8,797.3 L126.5,797.3 L135.1,792.3 L148.1,790.4 L156.7,787.9 L165.4,786.7 L178.4,785.4 L187.0,783.0 L195.7,781.1 L208.6,779.8 L217.3,778.6 L225.9,777.4 L238.9,777.4 L247.6,777.4 L260.5,777.4 L269.2,776.1" stroke="#e8282d" stroke-width="1.1" fill="none" stroke-linejoin="round"/>
<circle cx="100.5" cy="796.0" r="2.1" fill="#e8282d"/>
<line x1="117.8" y1="798.5" x2="117.8" y2="796.0" stroke="#e8282d" stroke-width="1"/>
<line x1="116.0" y1="798.5" x2="119.6" y2="798.5" stroke="#e8282d" stroke-width="1"/>
<line x1="116.0" y1="796.0" x2="119.6" y2="796.0" stroke="#e8282d" stroke-width="1"/>
<circle cx="117.8" cy="797.3" r="2.1" fill="#e8282d"/>
<line x1="126.5" y1="799.5" x2="126.5" y2="795.0" stroke="#e8282d" stroke-width="1"/>
<line x1="124.7" y1="799.5" x2="128.2" y2="799.5" stroke="#e8282d" stroke-width="1"/>
<line x1="124.7" y1="795.0" x2="128.2" y2="795.0" stroke="#e8282d" stroke-width="1"/>
<circle cx="126.5" cy="797.3" r="2.1" fill="#e8282d"/>
<line x1="135.1" y1="793.5" x2="135.1" y2="791.0" stroke="#e8282d" stroke-width="1"/>
<line x1="133.3" y1="793.5" x2="136.9" y2="793.5" stroke="#e8282d" stroke-width="1"/>
<line x1="133.3" y1="791.0" x2="136.9" y2="791.0" stroke="#e8282d" stroke-width="1"/>
<circle cx="135.1" cy="792.3" r="2.1" fill="#e8282d"/>
<line x1="148.1" y1="791.7" x2="148.1" y2="789.2" stroke="#e8282d" stroke-width="1"/>
<line x1="146.3" y1="791.7" x2="149.9" y2="791.7" stroke="#e8282d" stroke-width="1"/>
<line x1="146.3" y1="789.2" x2="149.9" y2="789.2" stroke="#e8282d" stroke-width="1"/>
<circle cx="148.1" cy="790.4" r="2.1" fill="#e8282d"/>
<line x1="156.7" y1="789.8" x2="156.7" y2="786.1" stroke="#e8282d" stroke-width="1"/>
<line x1="154.9" y1="789.8" x2="158.5" y2="789.8" stroke="#e8282d" stroke-width="1"/>
<line x1="154.9" y1="786.1" x2="158.5" y2="786.1" stroke="#e8282d" stroke-width="1"/>
<circle cx="156.7" cy="787.9" r="2.1" fill="#e8282d"/>
<line x1="165.4" y1="789.2" x2="165.4" y2="784.2" stroke="#e8282d" stroke-width="1"/>
<line x1="163.6" y1="789.2" x2="167.2" y2="789.2" stroke="#e8282d" stroke-width="1"/>
<line x1="163.6" y1="784.2" x2="167.2" y2="784.2" stroke="#e8282d" stroke-width="1"/>
<circle cx="165.4" cy="786.7" r="2.1" fill="#e8282d"/>
<line x1="178.4" y1="787.9" x2="178.4" y2="783.0" stroke="#e8282d" stroke-width="1"/>
<line x1="176.6" y1="787.9" x2="180.2" y2="787.9" stroke="#e8282d" stroke-width="1"/>
<line x1="176.6" y1="783.0" x2="180.2" y2="783.0" stroke="#e8282d" stroke-width="1"/>
<circle cx="178.4" cy="785.4" r="2.1" fill="#e8282d"/>
<line x1="187.0" y1="785.4" x2="187.0" y2="780.5" stroke="#e8282d" stroke-width="1"/>
<line x1="185.2" y1="785.4" x2="188.8" y2="785.4" stroke="#e8282d" stroke-width="1"/>
<line x1="185.2" y1="780.5" x2="188.8" y2="780.5" stroke="#e8282d" stroke-width="1"/>
<circle cx="187.0" cy="783.0" r="2.1" fill="#e8282d"/>
<line x1="195.7" y1="783.0" x2="195.7" y2="779.2" stroke="#e8282d" stroke-width="1"/>
<line x1="193.8" y1="783.0" x2="197.5" y2="783.0" stroke="#e8282d" stroke-width="1"/>
<line x1="193.8" y1="779.2" x2="197.5" y2="779.2" stroke="#e8282d" stroke-width="1"/>
<circle cx="195.7" cy="781.1" r="2.1" fill="#e8282d"/>
<line x1="208.6" y1="781.7" x2="208.6" y2="778.0" stroke="#e8282d" stroke-width="1"/>
<line x1="206.8" y1="781.7" x2="210.4" y2="781.7" stroke="#e8282d" stroke-width="1"/>
<line x1="206.8" y1="778.0" x2="210.4" y2="778.0" stroke="#e8282d" stroke-width="1"/>
<circle cx="208.6" cy="779.8" r="2.1" fill="#e8282d"/>
<line x1="217.3" y1="780.1" x2="217.3" y2="777.1" stroke="#e8282d" stroke-width="1"/>
<line x1="215.5" y1="780.1" x2="219.1" y2="780.1" stroke="#e8282d" stroke-width="1"/>
<line x1="215.5" y1="777.1" x2="219.1" y2="777.1" stroke="#e8282d" stroke-width="1"/>
<circle cx="217.3" cy="778.6" r="2.1" fill="#e8282d"/>
<line x1="225.9" y1="778.8" x2="225.9" y2="775.9" stroke="#e8282d" stroke-width="1"/>
<line x1="224.1" y1="778.8" x2="227.7" y2="778.8" stroke="#e8282d" stroke-width="1"/>
<line x1="224.1" y1="775.9" x2="227.7" y2="775.9" stroke="#e8282d" stroke-width="1"/>
<circle cx="225.9" cy="777.4" r="2.1" fill="#e8282d"/>
<line x1="238.9" y1="778.8" x2="238.9" y2="775.9" stroke="#e8282d" stroke-width="1"/>
<line x1="237.1" y1="778.8" x2="240.7" y2="778.8" stroke="#e8282d" stroke-width="1"/>
<line x1="237.1" y1="775.9" x2="240.7" y2="775.9" stroke="#e8282d" stroke-width="1"/>
<circle cx="238.9" cy="777.4" r="2.1" fill="#e8282d"/>
<line x1="247.6" y1="778.8" x2="247.6" y2="775.9" stroke="#e8282d" stroke-width="1"/>
<line x1="245.8" y1="778.8" x2="249.4" y2="778.8" stroke="#e8282d" stroke-width="1"/>
<line x1="245.8" y1="775.9" x2="249.4" y2="775.9" stroke="#e8282d" stroke-width="1"/>
<circle cx="247.6" cy="777.4" r="2.1" fill="#e8282d"/>
<line x1="260.5" y1="778.6" x2="260.5" y2="776.1" stroke="#e8282d" stroke-width="1"/>
<line x1="258.7" y1="778.6" x2="262.3" y2="778.6" stroke="#e8282d" stroke-width="1"/>
<line x1="258.7" y1="776.1" x2="262.3" y2="776.1" stroke="#e8282d" stroke-width="1"/>
<circle cx="260.5" cy="777.4" r="2.1" fill="#e8282d"/>
<line x1="269.2" y1="777.1" x2="269.2" y2="775.1" stroke="#e8282d" stroke-width="1"/>
<line x1="267.4" y1="777.1" x2="271.0" y2="777.1" stroke="#e8282d" stroke-width="1"/>
<line x1="267.4" y1="775.1" x2="271.0" y2="775.1" stroke="#e8282d" stroke-width="1"/>
<circle cx="269.2" cy="776.1" r="2.1" fill="#e8282d"/>
<line x1="198.9" y1="821.4" x2="211.2" y2="821.4" stroke="#666" stroke-width="1.1"/>
<circle cx="204.9" cy="821.4" r="2.2" fill="#666"/>
<text x="218.0" y="825.0" font-size="10" fill="#222" font-family='"Liberation Sans", sans-serif' textLength="30.8" lengthAdjust="spacingAndGlyphs">Control</text>
<line x1="198.9" y1="837.8" x2="211.2" y2="837.8" stroke="#e8282d" stroke-width="1.1"/>
<circle cx="204.9" cy="837.8" r="2.3" fill="#e8282d"/>
<text x="218.0" y="841.4" font-size="10" fill="#222" font-family='"Liberation Sans", sans-serif' textLength="58.2" lengthAdjust="spacingAndGlyphs">SH6 50mg/kg</text>
<text x="296.6" y="718.2" font-size="23" fill="#000" font-family='"Liberation Sans", sans-serif' textLength="40.5" lengthAdjust="spacingAndGlyphs">(vii)</text>
<line x1="349.9" y1="741.2" x2="349.9" y2="879.8" stroke="#333" stroke-width="1.4"/>
<line x1="349.3" y1="879.3" x2="506.6" y2="879.3" stroke="#333" stroke-width="1.4"/>
<line x1="346.4" y1="879.3" x2="349.9" y2="879.3" stroke="#333" stroke-width="1.4"/>
<text x="346.4" y="882.7" font-size="9.6" fill="#111" font-family='"Liberation Serif", serif' font-weight="bold" text-anchor="end">17</text>
<line x1="346.4" y1="851.7" x2="349.9" y2="851.7" stroke="#333" stroke-width="1.4"/>
<text x="346.4" y="855.1" font-size="9.6" fill="#111" font-family='"Liberation Serif", serif' font-weight="bold" text-anchor="end">18</text>
<line x1="346.4" y1="824.1" x2="349.9" y2="824.1" stroke="#333" stroke-width="1.4"/>
<text x="346.4" y="827.5" font-size="9.6" fill="#111" font-family='"Liberation Serif", serif' font-weight="bold" text-anchor="end">19</text>
<line x1="346.4" y1="796.4" x2="349.9" y2="796.4" stroke="#333" stroke-width="1.4"/>
<text x="346.4" y="799.8" font-size="9.6" fill="#111" font-family='"Liberation Serif", serif' font-weight="bold" text-anchor="end">20</text>
<line x1="346.4" y1="768.8" x2="349.9" y2="768.8" stroke="#333" stroke-width="1.4"/>
<text x="346.4" y="772.2" font-size="9.6" fill="#111" font-family='"Liberation Serif", serif' font-weight="bold" text-anchor="end">21</text>
<line x1="346.4" y1="741.2" x2="349.9" y2="741.2" stroke="#333" stroke-width="1.4"/>
<text x="346.4" y="744.6" font-size="9.6" fill="#111" font-family='"Liberation Serif", serif' font-weight="bold" text-anchor="end">22</text>
<line x1="394.6" y1="879.3" x2="394.6" y2="883.0" stroke="#111" stroke-width="1.2"/>
<line x1="461.8" y1="879.3" x2="461.8" y2="883.0" stroke="#111" stroke-width="1.2"/>
<text x="379.2" y="891.2" font-size="9.6" fill="#111" font-family='"Liberation Sans", sans-serif' font-weight="bold" textLength="29.8" lengthAdjust="spacingAndGlyphs">Control</text>
<text x="451.8" y="891.2" font-size="9.6" fill="#111" font-family='"Liberation Sans", sans-serif' font-weight="bold" textLength="17.5" lengthAdjust="spacingAndGlyphs">SH6</text>
<text x="331.0" y="809.6" font-size="9.6" fill="#111" font-family='"Liberation Sans", sans-serif' font-weight="bold" text-anchor="middle" textLength="69.6" lengthAdjust="spacingAndGlyphs" transform="rotate(-90 331.0 809.6)">Body weight(g)</text>
<text x="427.5" y="748.7" font-size="10" fill="#333" font-family='"Liberation Sans", sans-serif' text-anchor="middle">n.s.</text>
<line x1="394.1" y1="754.9" x2="462.3" y2="754.9" stroke="#222" stroke-width="2"/>
<line x1="394.6" y1="786.7" x2="394.6" y2="812.1" stroke="#666" stroke-width="1.3"/>
<line x1="383.4" y1="786.7" x2="405.8" y2="786.7" stroke="#666" stroke-width="1.3"/>
<line x1="383.4" y1="812.1" x2="405.8" y2="812.1" stroke="#666" stroke-width="1.3"/>
<line x1="372.2" y1="799.7" x2="417.0" y2="799.7" stroke="#666" stroke-width="1.3"/>
<circle cx="394.6" cy="776.8" r="2.7" fill="#666"/>
<circle cx="398.4" cy="785.2" r="2.7" fill="#666"/>
<circle cx="391.6" cy="788.2" r="2.7" fill="#666"/>
<circle cx="377.7" cy="793.4" r="2.7" fill="#666"/>
<circle cx="411.5" cy="796.2" r="2.7" fill="#666"/>
<circle cx="384.7" cy="799.2" r="2.7" fill="#666"/>
<circle cx="390.9" cy="799.2" r="2.7" fill="#666"/>
<circle cx="397.1" cy="799.2" r="2.7" fill="#666"/>
<circle cx="404.1" cy="799.2" r="2.7" fill="#666"/>
<circle cx="394.6" cy="807.6" r="2.7" fill="#666"/>
<circle cx="392.1" cy="812.6" r="2.7" fill="#666"/>
<circle cx="398.4" cy="815.8" r="2.7" fill="#666"/>
<circle cx="394.6" cy="824.0" r="2.7" fill="#666"/>
<line x1="461.8" y1="788.5" x2="461.8" y2="821.5" stroke="#ee2222" stroke-width="1.3"/>
<line x1="450.6" y1="788.5" x2="473.0" y2="788.5" stroke="#ee2222" stroke-width="1.3"/>
<line x1="450.6" y1="821.5" x2="473.0" y2="821.5" stroke="#ee2222" stroke-width="1.3"/>
<line x1="439.4" y1="804.6" x2="484.2" y2="804.6" stroke="#ee2222" stroke-width="1.3"/>
<circle cx="458.6" cy="776.8" r="2.7" fill="#ee2222"/>
<circle cx="465.5" cy="779.8" r="2.7" fill="#ee2222"/>
<circle cx="455.1" cy="793.4" r="2.7" fill="#ee2222"/>
<circle cx="465.5" cy="793.4" r="2.7" fill="#ee2222"/>
<circle cx="458.6" cy="799.2" r="2.7" fill="#ee2222"/>
<circle cx="465.5" cy="802.1" r="2.7" fill="#ee2222"/>
<circle cx="455.1" cy="807.6" r="2.7" fill="#ee2222"/>
<circle cx="461.8" cy="810.1" r="2.7" fill="#ee2222"/>
<circle cx="472.2" cy="810.1" r="2.7" fill="#ee2222"/>
<circle cx="468.8" cy="815.8" r="2.7" fill="#ee2222"/>
<circle cx="455.1" cy="818.3" r="2.7" fill="#ee2222"/>
<circle cx="461.8" cy="821.5" r="2.7" fill="#ee2222"/>
<circle cx="461.8" cy="835.0" r="2.7" fill="#ee2222"/>
<text x="526.2" y="717.8" font-size="23.3" fill="#000" font-family='"Liberation Sans", sans-serif' textLength="15.8" lengthAdjust="spacingAndGlyphs">D</text>
<text x="581.7" y="754.0" font-size="9.8" fill="#111" font-family='"Liberation Sans", sans-serif' font-weight="bold" textLength="155.5" lengthAdjust="spacingAndGlyphs">Mouse body weight (50mg/kg)</text>
<line x1="576.6" y1="768.5" x2="576.6" y2="873.7" stroke="#111" stroke-width="1.3"/>
<line x1="576.0" y1="873.2" x2="741.8" y2="873.2" stroke="#111" stroke-width="1.3"/>
<line x1="573.1" y1="873.2" x2="576.6" y2="873.2" stroke="#111" stroke-width="1.2"/>
<text x="572.1" y="876.2" font-size="8.4" fill="#111" font-family='"Liberation Sans", sans-serif' font-weight="bold" text-anchor="end">16</text>
<line x1="573.1" y1="855.8" x2="576.6" y2="855.8" stroke="#111" stroke-width="1.2"/>
<text x="572.1" y="858.8" font-size="8.4" fill="#111" font-family='"Liberation Sans", sans-serif' font-weight="bold" text-anchor="end">18</text>
<line x1="573.1" y1="838.3" x2="576.6" y2="838.3" stroke="#111" stroke-width="1.2"/>
<text x="572.1" y="841.3" font-size="8.4" fill="#111" font-family='"Liberation Sans", sans-serif' font-weight="bold" text-anchor="end">20</text>
<line x1="573.1" y1="820.9" x2="576.6" y2="820.9" stroke="#111" stroke-width="1.2"/>
<text x="572.1" y="823.9" font-size="8.4" fill="#111" font-family='"Liberation Sans", sans-serif' font-weight="bold" text-anchor="end">22</text>
<line x1="573.1" y1="803.4" x2="576.6" y2="803.4" stroke="#111" stroke-width="1.2"/>
<text x="572.1" y="806.4" font-size="8.4" fill="#111" font-family='"Liberation Sans", sans-serif' font-weight="bold" text-anchor="end">24</text>
<line x1="573.1" y1="786.0" x2="576.6" y2="786.0" stroke="#111" stroke-width="1.2"/>
<text x="572.1" y="789.0" font-size="8.4" fill="#111" font-family='"Liberation Sans", sans-serif' font-weight="bold" text-anchor="end">26</text>
<line x1="573.1" y1="768.6" x2="576.6" y2="768.6" stroke="#111" stroke-width="1.2"/>
<text x="572.1" y="771.6" font-size="8.4" fill="#111" font-family='"Liberation Sans", sans-serif' font-weight="bold" text-anchor="end">28</text>
<line x1="585.4" y1="873.2" x2="585.4" y2="876.5" stroke="#111" stroke-width="1.3"/>
<text x="587.9" y="880.5" font-size="8.4" fill="#111" font-family='"Liberation Sans", sans-serif' font-weight="bold" text-anchor="end" transform="rotate(-60 587.9 880.5)">1</text>
<line x1="598.8" y1="873.2" x2="598.8" y2="876.5" stroke="#111" stroke-width="1.3"/>
<text x="601.3" y="880.5" font-size="8.4" fill="#111" font-family='"Liberation Sans", sans-serif' font-weight="bold" text-anchor="end" transform="rotate(-60 601.3 880.5)">2</text>
<line x1="611.6" y1="873.2" x2="611.6" y2="876.5" stroke="#111" stroke-width="1.3"/>
<text x="614.1" y="880.5" font-size="8.4" fill="#111" font-family='"Liberation Sans", sans-serif' font-weight="bold" text-anchor="end" transform="rotate(-60 614.1 880.5)">3</text>
<line x1="625.0" y1="873.2" x2="625.0" y2="876.5" stroke="#111" stroke-width="1.3"/>
<text x="627.5" y="880.5" font-size="8.4" fill="#111" font-family='"Liberation Sans", sans-serif' font-weight="bold" text-anchor="end" transform="rotate(-60 627.5 880.5)">4</text>
<line x1="638.3" y1="873.2" x2="638.3" y2="876.5" stroke="#111" stroke-width="1.3"/>
<text x="640.8" y="880.5" font-size="8.4" fill="#111" font-family='"Liberation Sans", sans-serif' font-weight="bold" text-anchor="end" transform="rotate(-60 640.8 880.5)">5</text>
<line x1="652.1" y1="873.2" x2="652.1" y2="876.5" stroke="#111" stroke-width="1.3"/>
<text x="654.6" y="880.5" font-size="8.4" fill="#111" font-family='"Liberation Sans", sans-serif' font-weight="bold" text-anchor="end" transform="rotate(-60 654.6 880.5)">6</text>
<line x1="665.4" y1="873.2" x2="665.4" y2="876.5" stroke="#111" stroke-width="1.3"/>
<text x="667.9" y="880.5" font-size="8.4" fill="#111" font-family='"Liberation Sans", sans-serif' font-weight="bold" text-anchor="end" transform="rotate(-60 667.9 880.5)">7</text>
<line x1="678.8" y1="873.2" x2="678.8" y2="876.5" stroke="#111" stroke-width="1.3"/>
<text x="681.3" y="880.5" font-size="8.4" fill="#111" font-family='"Liberation Sans", sans-serif' font-weight="bold" text-anchor="end" transform="rotate(-60 681.3 880.5)">8</text>
<line x1="692.6" y1="873.2" x2="692.6" y2="876.5" stroke="#111" stroke-width="1.3"/>
<text x="695.1" y="880.5" font-size="8.4" fill="#111" font-family='"Liberation Sans", sans-serif' font-weight="bold" text-anchor="end" transform="rotate(-60 695.1 880.5)">9</text>
<line x1="705.4" y1="873.2" x2="705.4" y2="876.5" stroke="#111" stroke-width="1.3"/>
<text x="707.9" y="880.5" font-size="8.4" fill="#111" font-family='"Liberation Sans", sans-serif' font-weight="bold" text-anchor="end" transform="rotate(-60 707.9 880.5)">10</text>
<line x1="718.7" y1="873.2" x2="718.7" y2="876.5" stroke="#111" stroke-width="1.3"/>
<text x="721.2" y="880.5" font-size="8.4" fill="#111" font-family='"Liberation Sans", sans-serif' font-weight="bold" text-anchor="end" transform="rotate(-60 721.2 880.5)">11</text>
<line x1="732.6" y1="873.2" x2="732.6" y2="876.5" stroke="#111" stroke-width="1.3"/>
<text x="735.1" y="880.5" font-size="8.4" fill="#111" font-family='"Liberation Sans", sans-serif' font-weight="bold" text-anchor="end" transform="rotate(-60 735.1 880.5)">12</text>
<text x="639.0" y="909.5" font-size="13.5" fill="#111" font-family='"Liberation Sans", sans-serif' text-anchor="middle" textLength="30.0" lengthAdjust="spacingAndGlyphs">Days</text>
<text x="543.2" y="820.7" font-size="12.2" fill="#111" font-family='"Liberation Sans", sans-serif' text-anchor="middle" textLength="81.9" lengthAdjust="spacingAndGlyphs" transform="rotate(-90 543.2 820.7)">Body weight (g)</text>
<line x1="585.4" y1="804.4" x2="585.4" y2="808.0" stroke="#9b1c1c" stroke-width="1"/>
<line x1="585.4" y1="827.4" x2="585.4" y2="829.6" stroke="#9b1c1c" stroke-width="1"/>
<line x1="583.2" y1="804.4" x2="587.6" y2="804.4" stroke="#9b1c1c" stroke-width="1.6"/>
<line x1="583.2" y1="829.6" x2="587.6" y2="829.6" stroke="#9b1c1c" stroke-width="1.6"/>
<rect x="581.5" y="808.0" width="7.8" height="19.4" fill="none" stroke="#9b1c1c" stroke-width="1"/>
<line x1="581.5" y1="820.1" x2="589.3" y2="820.1" stroke="#9b1c1c" stroke-width="1"/>
<line x1="598.8" y1="807.7" x2="598.8" y2="810.4" stroke="#9b1c1c" stroke-width="1"/>
<line x1="598.8" y1="832.7" x2="598.8" y2="834.4" stroke="#9b1c1c" stroke-width="1"/>
<line x1="596.6" y1="807.7" x2="601.0" y2="807.7" stroke="#9b1c1c" stroke-width="1.6"/>
<line x1="596.6" y1="834.4" x2="601.0" y2="834.4" stroke="#9b1c1c" stroke-width="1.6"/>
<rect x="594.9" y="810.4" width="7.8" height="22.3" fill="none" stroke="#9b1c1c" stroke-width="1"/>
<line x1="594.9" y1="824.5" x2="602.7" y2="824.5" stroke="#9b1c1c" stroke-width="1"/>
<line x1="611.6" y1="805.6" x2="611.6" y2="807.3" stroke="#9b1c1c" stroke-width="1"/>
<line x1="611.6" y1="822.5" x2="611.6" y2="825.0" stroke="#9b1c1c" stroke-width="1"/>
<line x1="609.4" y1="805.6" x2="613.8" y2="805.6" stroke="#9b1c1c" stroke-width="1.6"/>
<line x1="609.4" y1="825.0" x2="613.8" y2="825.0" stroke="#9b1c1c" stroke-width="1.6"/>
<rect x="607.7" y="807.3" width="7.8" height="15.3" fill="none" stroke="#9b1c1c" stroke-width="1"/>
<line x1="607.7" y1="812.8" x2="615.5" y2="812.8" stroke="#9b1c1c" stroke-width="1"/>
<line x1="625.0" y1="808.5" x2="625.0" y2="809.2" stroke="#9b1c1c" stroke-width="1"/>
<line x1="625.0" y1="820.6" x2="625.0" y2="824.2" stroke="#9b1c1c" stroke-width="1"/>
<line x1="622.8" y1="808.5" x2="627.2" y2="808.5" stroke="#9b1c1c" stroke-width="1.6"/>
<line x1="622.8" y1="824.2" x2="627.2" y2="824.2" stroke="#9b1c1c" stroke-width="1.6"/>
<rect x="621.1" y="809.2" width="7.8" height="11.4" fill="none" stroke="#9b1c1c" stroke-width="1"/>
<line x1="621.1" y1="813.8" x2="628.9" y2="813.8" stroke="#9b1c1c" stroke-width="1"/>
<line x1="638.3" y1="810.4" x2="638.3" y2="810.9" stroke="#9b1c1c" stroke-width="1"/>
<line x1="638.3" y1="822.5" x2="638.3" y2="825.4" stroke="#9b1c1c" stroke-width="1"/>
<line x1="636.1" y1="810.4" x2="640.5" y2="810.4" stroke="#9b1c1c" stroke-width="1.6"/>
<line x1="636.1" y1="825.4" x2="640.5" y2="825.4" stroke="#9b1c1c" stroke-width="1.6"/>
<rect x="634.4" y="810.9" width="7.8" height="11.6" fill="none" stroke="#9b1c1c" stroke-width="1"/>
<line x1="634.4" y1="813.3" x2="642.2" y2="813.3" stroke="#9b1c1c" stroke-width="1"/>
<line x1="652.1" y1="808.5" x2="652.1" y2="809.7" stroke="#9b1c1c" stroke-width="1"/>
<line x1="652.1" y1="833.9" x2="652.1" y2="839.3" stroke="#9b1c1c" stroke-width="1"/>
<line x1="649.9" y1="808.5" x2="654.3" y2="808.5" stroke="#9b1c1c" stroke-width="1.6"/>
<line x1="649.9" y1="839.3" x2="654.3" y2="839.3" stroke="#9b1c1c" stroke-width="1.6"/>
<rect x="648.2" y="809.7" width="7.8" height="24.2" fill="none" stroke="#9b1c1c" stroke-width="1"/>
<line x1="648.2" y1="817.4" x2="656.0" y2="817.4" stroke="#9b1c1c" stroke-width="1"/>
<line x1="665.4" y1="810.4" x2="665.4" y2="812.1" stroke="#9b1c1c" stroke-width="1"/>
<line x1="665.4" y1="838.3" x2="665.4" y2="841.7" stroke="#9b1c1c" stroke-width="1"/>
<line x1="663.2" y1="810.4" x2="667.6" y2="810.4" stroke="#9b1c1c" stroke-width="1.6"/>
<line x1="663.2" y1="841.7" x2="667.6" y2="841.7" stroke="#9b1c1c" stroke-width="1.6"/>
<rect x="661.5" y="812.1" width="7.8" height="26.2" fill="none" stroke="#9b1c1c" stroke-width="1"/>
<line x1="661.5" y1="824.2" x2="669.3" y2="824.2" stroke="#9b1c1c" stroke-width="1"/>
<line x1="678.8" y1="812.1" x2="678.8" y2="815.7" stroke="#9b1c1c" stroke-width="1"/>
<line x1="678.8" y1="848.7" x2="678.8" y2="854.0" stroke="#9b1c1c" stroke-width="1"/>
<line x1="676.6" y1="812.1" x2="681.0" y2="812.1" stroke="#9b1c1c" stroke-width="1.6"/>
<line x1="676.6" y1="854.0" x2="681.0" y2="854.0" stroke="#9b1c1c" stroke-width="1.6"/>
<rect x="674.9" y="815.7" width="7.8" height="33.0" fill="none" stroke="#9b1c1c" stroke-width="1"/>
<line x1="674.9" y1="827.4" x2="682.7" y2="827.4" stroke="#9b1c1c" stroke-width="1"/>
<line x1="692.6" y1="817.4" x2="692.6" y2="819.4" stroke="#9b1c1c" stroke-width="1"/>
<line x1="692.6" y1="842.4" x2="692.6" y2="848.0" stroke="#9b1c1c" stroke-width="1"/>
<line x1="690.4" y1="817.4" x2="694.8" y2="817.4" stroke="#9b1c1c" stroke-width="1.6"/>
<line x1="690.4" y1="848.0" x2="694.8" y2="848.0" stroke="#9b1c1c" stroke-width="1.6"/>
<rect x="688.7" y="819.4" width="7.8" height="23.0" fill="none" stroke="#9b1c1c" stroke-width="1"/>
<line x1="688.7" y1="827.4" x2="696.5" y2="827.4" stroke="#9b1c1c" stroke-width="1"/>
<line x1="705.4" y1="809.2" x2="705.4" y2="813.3" stroke="#9b1c1c" stroke-width="1"/>
<line x1="705.4" y1="831.5" x2="705.4" y2="834.4" stroke="#9b1c1c" stroke-width="1"/>
<line x1="703.2" y1="809.2" x2="707.6" y2="809.2" stroke="#9b1c1c" stroke-width="1.6"/>
<line x1="703.2" y1="834.4" x2="707.6" y2="834.4" stroke="#9b1c1c" stroke-width="1.6"/>
<rect x="701.5" y="813.3" width="7.8" height="18.2" fill="none" stroke="#9b1c1c" stroke-width="1"/>
<line x1="701.5" y1="823.5" x2="709.3" y2="823.5" stroke="#9b1c1c" stroke-width="1"/>
<line x1="718.7" y1="806.5" x2="718.7" y2="808.5" stroke="#9b1c1c" stroke-width="1"/>
<line x1="718.7" y1="819.4" x2="718.7" y2="821.3" stroke="#9b1c1c" stroke-width="1"/>
<line x1="716.5" y1="806.5" x2="720.9" y2="806.5" stroke="#9b1c1c" stroke-width="1.6"/>
<line x1="716.5" y1="821.3" x2="720.9" y2="821.3" stroke="#9b1c1c" stroke-width="1.6"/>
<rect x="714.8" y="808.5" width="7.8" height="10.9" fill="none" stroke="#9b1c1c" stroke-width="1"/>
<line x1="714.8" y1="812.1" x2="722.6" y2="812.1" stroke="#9b1c1c" stroke-width="1"/>
<line x1="732.6" y1="795.1" x2="732.6" y2="797.6" stroke="#9b1c1c" stroke-width="1"/>
<line x1="732.6" y1="815.3" x2="732.6" y2="818.9" stroke="#9b1c1c" stroke-width="1"/>
<line x1="730.4" y1="795.1" x2="734.8" y2="795.1" stroke="#9b1c1c" stroke-width="1.6"/>
<line x1="730.4" y1="818.9" x2="734.8" y2="818.9" stroke="#9b1c1c" stroke-width="1.6"/>
<rect x="728.7" y="797.6" width="7.8" height="17.7" fill="none" stroke="#9b1c1c" stroke-width="1"/>
<line x1="728.7" y1="803.6" x2="736.5" y2="803.6" stroke="#9b1c1c" stroke-width="1"/>
<text x="14.1" y="943.0" font-size="23.6" fill="#000" font-family='"Liberation Sans", sans-serif' textLength="12.8" lengthAdjust="spacingAndGlyphs">E</text>
<text x="57.9" y="943.0" font-size="10" fill="#222" font-family='"Liberation Sans", sans-serif' textLength="122.1" lengthAdjust="spacingAndGlyphs">microsomal stability assay</text>
<line x1="36.5" y1="957.2" x2="36.5" y2="1067.0" stroke="#111" stroke-width="1.3"/>
<line x1="35.9" y1="1066.5" x2="201.5" y2="1066.5" stroke="#111" stroke-width="1.3"/>
<line x1="33.0" y1="1066.5" x2="36.5" y2="1066.5" stroke="#111" stroke-width="1.3"/>
<text x="32.0" y="1069.7" font-size="9" fill="#111" font-family='"Liberation Sans", sans-serif' font-weight="bold" text-anchor="end">0</text>
<line x1="33.0" y1="1044.7" x2="36.5" y2="1044.7" stroke="#111" stroke-width="1.3"/>
<text x="32.0" y="1047.9" font-size="9" fill="#111" font-family='"Liberation Sans", sans-serif' font-weight="bold" text-anchor="end">20</text>
<line x1="33.0" y1="1022.8" x2="36.5" y2="1022.8" stroke="#111" stroke-width="1.3"/>
<text x="32.0" y="1026.0" font-size="9" fill="#111" font-family='"Liberation Sans", sans-serif' font-weight="bold" text-anchor="end">40</text>
<line x1="33.0" y1="1001.0" x2="36.5" y2="1001.0" stroke="#111" stroke-width="1.3"/>
<text x="32.0" y="1004.2" font-size="9" fill="#111" font-family='"Liberation Sans", sans-serif' font-weight="bold" text-anchor="end">60</text>
<line x1="33.0" y1="979.1" x2="36.5" y2="979.1" stroke="#111" stroke-width="1.3"/>
<text x="32.0" y="982.3" font-size="9" fill="#111" font-family='"Liberation Sans", sans-serif' font-weight="bold" text-anchor="end">80</text>
<line x1="33.0" y1="957.2" x2="36.5" y2="957.2" stroke="#111" stroke-width="1.3"/>
<text x="32.0" y="960.5" font-size="9" fill="#111" font-family='"Liberation Sans", sans-serif' font-weight="bold" text-anchor="end">100</text>
<line x1="36.5" y1="1066.5" x2="36.5" y2="1070.0" stroke="#111" stroke-width="1.3"/>
<text x="36.5" y="1079.5" font-size="9" fill="#111" font-family='"Liberation Sans", sans-serif' font-weight="bold" text-anchor="middle">0</text>
<line x1="77.8" y1="1066.5" x2="77.8" y2="1070.0" stroke="#111" stroke-width="1.3"/>
<text x="77.8" y="1079.5" font-size="9" fill="#111" font-family='"Liberation Sans", sans-serif' font-weight="bold" text-anchor="middle">20</text>
<line x1="119.1" y1="1066.5" x2="119.1" y2="1070.0" stroke="#111" stroke-width="1.3"/>
<text x="119.1" y="1079.5" font-size="9" fill="#111" font-family='"Liberation Sans", sans-serif' font-weight="bold" text-anchor="middle">40</text>
<line x1="160.4" y1="1066.5" x2="160.4" y2="1070.0" stroke="#111" stroke-width="1.3"/>
<text x="160.4" y="1079.5" font-size="9" fill="#111" font-family='"Liberation Sans", sans-serif' font-weight="bold" text-anchor="middle">60</text>
<line x1="201.7" y1="1066.5" x2="201.7" y2="1070.0" stroke="#111" stroke-width="1.3"/>
<text x="201.7" y="1079.5" font-size="9" fill="#111" font-family='"Liberation Sans", sans-serif' font-weight="bold" text-anchor="middle">80</text>
<text x="95.9" y="1091.5" font-size="9.6" fill="#111" font-family='"Liberation Sans", sans-serif' font-weight="bold" textLength="46.2" lengthAdjust="spacingAndGlyphs">Time (min)</text>
<text x="14.3" y="1011.0" font-size="9.6" fill="#222" font-family='"Liberation Sans", sans-serif' text-anchor="middle" textLength="53.0" lengthAdjust="spacingAndGlyphs" transform="rotate(-90 14.3 1011.0)">% Remaining</text>
<path d="M36.5,957.2 L37.5,959.7 L38.6,962.1 L39.6,964.4 L40.6,966.6 L41.7,968.8 L42.7,970.9 L43.7,972.9 L44.8,974.9 L45.8,976.8 L46.8,978.7 L47.9,980.5 L48.9,982.2 L49.9,983.9 L51.0,985.5 L52.0,987.1 L53.0,988.6 L54.1,990.1 L55.1,991.6 L56.1,993.0 L57.1,994.4 L58.2,995.7 L59.2,996.9 L60.2,998.2 L61.3,999.4 L62.3,1000.6 L63.3,1001.7 L64.4,1002.8 L65.4,1003.8 L66.4,1004.9 L67.5,1005.9 L68.5,1006.8 L69.5,1007.8 L70.6,1008.7 L71.6,1009.6 L72.6,1010.4 L73.7,1011.2 L74.7,1012.0 L75.7,1012.8 L76.8,1013.6 L77.8,1014.3 L78.8,1015.0 L79.9,1015.7 L80.9,1016.4 L81.9,1017.0 L83.0,1017.6 L84.0,1018.3 L85.0,1018.8 L86.1,1019.4 L87.1,1020.0 L88.1,1020.5 L89.2,1021.0 L90.2,1021.5 L91.2,1022.0 L92.3,1022.5 L93.3,1023.0 L94.3,1023.4 L95.4,1023.8 L96.4,1024.2 L97.4,1024.7 L98.4,1025.0 L99.5,1025.4 L100.5,1025.8 L101.5,1026.2 L102.6,1026.5 L103.6,1026.8 L104.6,1027.2 L105.7,1027.5 L106.7,1027.8 L107.7,1028.1 L108.8,1028.4 L109.8,1028.7 L110.8,1028.9 L111.9,1029.2 L112.9,1029.4 L113.9,1029.7 L115.0,1029.9 L116.0,1030.2 L117.0,1030.4 L118.1,1030.6 L119.1,1030.8 L120.1,1031.0 L121.2,1031.2 L122.2,1031.4 L123.2,1031.6 L124.3,1031.8 L125.3,1032.0 L126.3,1032.1 L127.4,1032.3 L128.4,1032.5 L129.4,1032.6 L130.5,1032.8 L131.5,1032.9 L132.5,1033.1 L133.6,1033.2 L134.6,1033.3 L135.6,1033.5 L136.7,1033.6 L137.7,1033.7 L138.7,1033.8 L139.8,1033.9 L140.8,1034.0 L141.8,1034.1 L142.8,1034.3 L143.9,1034.4 L144.9,1034.5 L145.9,1034.5 L147.0,1034.6 L148.0,1034.7 L149.0,1034.8 L150.1,1034.9 L151.1,1035.0 L152.1,1035.1 L153.2,1035.1 L154.2,1035.2 L155.2,1035.3 L156.3,1035.3 L157.3,1035.4 L158.3,1035.5 L159.4,1035.5 L160.4,1035.6" stroke="#1c1ce8" stroke-width="1.5" fill="none" stroke-linejoin="round"/>
<path d="M36.5,957.2 L37.5,965.0 L38.6,972.2 L39.6,978.8 L40.6,985.0 L41.7,990.7 L42.7,996.0 L43.7,1001.0 L44.8,1005.6 L45.8,1009.8 L46.8,1013.7 L47.9,1017.4 L48.9,1020.8 L49.9,1023.9 L51.0,1026.8 L52.0,1029.6 L53.0,1032.1 L54.1,1034.4 L55.1,1036.6 L56.1,1038.6 L57.1,1040.4 L58.2,1042.2 L59.2,1043.8 L60.2,1045.2 L61.3,1046.6 L62.3,1047.9 L63.3,1049.1 L64.4,1050.2 L65.4,1051.2 L66.4,1052.2 L67.5,1053.0 L68.5,1053.8 L69.5,1054.6 L70.6,1055.3 L71.6,1056.0 L72.6,1056.6 L73.7,1057.1 L74.7,1057.6 L75.7,1058.1 L76.8,1058.6 L77.8,1059.0 L78.8,1059.4 L79.9,1059.7 L80.9,1060.1 L81.9,1060.4 L83.0,1060.7 L84.0,1060.9 L85.0,1061.2 L86.1,1061.4 L87.1,1061.6 L88.1,1061.8 L89.2,1062.0 L90.2,1062.1 L91.2,1062.3 L92.3,1062.4 L93.3,1062.6 L94.3,1062.7 L95.4,1062.8 L96.4,1062.9 L97.4,1063.0 L98.4,1063.1 L99.5,1063.2 L100.5,1063.3 L101.5,1063.4 L102.6,1063.4 L103.6,1063.5 L104.6,1063.6 L105.7,1063.6 L106.7,1063.7 L107.7,1063.7 L108.8,1063.8 L109.8,1063.8 L110.8,1063.8 L111.9,1063.9 L112.9,1063.9 L113.9,1063.9 L115.0,1064.0 L116.0,1064.0 L117.0,1064.0 L118.1,1064.0 L119.1,1064.0 L120.1,1064.1 L121.2,1064.1 L122.2,1064.1 L123.2,1064.1 L124.3,1064.1 L125.3,1064.1 L126.3,1064.2 L127.4,1064.2 L128.4,1064.2 L129.4,1064.2 L130.5,1064.2 L131.5,1064.2 L132.5,1064.2 L133.6,1064.2 L134.6,1064.2 L135.6,1064.2 L136.7,1064.2 L137.7,1064.2 L138.7,1064.3 L139.8,1064.3 L140.8,1064.3 L141.8,1064.3 L142.8,1064.3 L143.9,1064.3 L144.9,1064.3 L145.9,1064.3 L147.0,1064.3 L148.0,1064.3 L149.0,1064.3 L150.1,1064.3 L151.1,1064.3 L152.1,1064.3 L153.2,1064.3 L154.2,1064.3 L155.2,1064.3 L156.3,1064.3 L157.3,1064.3 L158.3,1064.3 L159.4,1064.3 L160.4,1064.3" stroke="#eea24a" stroke-width="1.5" fill="none" stroke-linejoin="round"/>
<circle cx="36.5" cy="957.2" r="3.1" fill="#1c1ce8"/>
<circle cx="46.8" cy="980.2" r="3.1" fill="#1c1ce8"/>
<circle cx="57.1" cy="996.6" r="3.1" fill="#1c1ce8"/>
<circle cx="98.4" cy="1020.6" r="3.1" fill="#1c1ce8"/>
<circle cx="160.4" cy="1038.1" r="3.1" fill="#1c1ce8"/>
<line x1="57.1" y1="1030.4" x2="57.1" y2="1037.0" stroke="#eea24a" stroke-width="1.1"/>
<line x1="54.6" y1="1030.4" x2="59.6" y2="1030.4" stroke="#eea24a" stroke-width="1.1"/>
<line x1="57.1" y1="1037.0" x2="57.1" y2="1042.5" stroke="#eea24a" stroke-width="1.1"/>
<line x1="54.6" y1="1042.5" x2="59.6" y2="1042.5" stroke="#eea24a" stroke-width="1.1"/>
<path d="M43.6,1017.0 L50.1,1017.0 L46.8,1011.1 Z" stroke="none" stroke-width="1" fill="#eea24a"/>
<path d="M53.9,1039.9 L60.4,1039.9 L57.1,1034.1 Z" stroke="none" stroke-width="1" fill="#eea24a"/>
<path d="M95.2,1064.5 L101.7,1064.5 L98.4,1058.7 Z" stroke="none" stroke-width="1" fill="#eea24a"/>
<path d="M157.1,1068.3 L163.6,1068.3 L160.4,1062.5 Z" stroke="none" stroke-width="1" fill="#eea24a"/>
<text x="90.1" y="1000.3" font-size="11" fill="#222" font-family='"Liberation Sans", sans-serif' textLength="62.4" lengthAdjust="spacingAndGlyphs">T<tspan font-size="8" dy="0.5">1/2</tspan><tspan dy="-0.5"> =32.4min</tspan></text>
<text x="94.7" y="1055.4" font-size="11" fill="#222" font-family='"Liberation Sans", sans-serif' textLength="56.6" lengthAdjust="spacingAndGlyphs">T<tspan font-size="8" dy="0.5">1/2</tspan><tspan dy="-0.5"> =7.3min</tspan></text>
<line x1="179.1" y1="994.5" x2="190.6" y2="994.5" stroke="#1c1ce8" stroke-width="1.5"/>
<circle cx="185.0" cy="994.5" r="2.7" fill="#1c1ce8"/>
<text x="197.2" y="998.1" font-size="10" fill="#222" font-family='"Liberation Sans", sans-serif' textLength="17.6" lengthAdjust="spacingAndGlyphs">SH6</text>
<line x1="179.1" y1="1009.0" x2="190.6" y2="1009.0" stroke="#eea24a" stroke-width="1.5"/>
<path d="M182.2,1011.5 L187.8,1011.5 L185.0,1006.5 Z" stroke="none" stroke-width="1" fill="#eea24a"/>
<text x="197.2" y="1012.6" font-size="10" fill="#222" font-family='"Liberation Sans", sans-serif' textLength="41.3" lengthAdjust="spacingAndGlyphs">Verapamil</text>
<text x="264.1" y="941.0" font-size="23.6" fill="#000" font-family='"Liberation Sans", sans-serif' textLength="12.0" lengthAdjust="spacingAndGlyphs">F</text>
<text x="300.4" y="947.3" font-size="10" fill="#222" font-family='"Liberation Sans", sans-serif' textLength="139.3" lengthAdjust="spacingAndGlyphs">hERG current inhibition assay</text>
<line x1="289.0" y1="960.9" x2="289.0" y2="1070.4" stroke="#111" stroke-width="1.3"/>
<line x1="288.4" y1="1069.9" x2="452.2" y2="1069.9" stroke="#111" stroke-width="1.3"/>
<line x1="285.5" y1="1069.9" x2="289.0" y2="1069.9" stroke="#111" stroke-width="1.3"/>
<text x="284.5" y="1073.1" font-size="9" fill="#111" font-family='"Liberation Sans", sans-serif' font-weight="bold" text-anchor="end">0</text>
<line x1="285.5" y1="1048.1" x2="289.0" y2="1048.1" stroke="#111" stroke-width="1.3"/>
<text x="284.5" y="1051.3" font-size="9" fill="#111" font-family='"Liberation Sans", sans-serif' font-weight="bold" text-anchor="end">20</text>
<line x1="285.5" y1="1026.3" x2="289.0" y2="1026.3" stroke="#111" stroke-width="1.3"/>
<text x="284.5" y="1029.5" font-size="9" fill="#111" font-family='"Liberation Sans", sans-serif' font-weight="bold" text-anchor="end">40</text>
<line x1="285.5" y1="1004.5" x2="289.0" y2="1004.5" stroke="#111" stroke-width="1.3"/>
<text x="284.5" y="1007.7" font-size="9" fill="#111" font-family='"Liberation Sans", sans-serif' font-weight="bold" text-anchor="end">60</text>
<line x1="285.5" y1="982.7" x2="289.0" y2="982.7" stroke="#111" stroke-width="1.3"/>
<text x="284.5" y="985.9" font-size="9" fill="#111" font-family='"Liberation Sans", sans-serif' font-weight="bold" text-anchor="end">80</text>
<line x1="285.5" y1="960.9" x2="289.0" y2="960.9" stroke="#111" stroke-width="1.3"/>
<text x="284.5" y="964.1" font-size="9" fill="#111" font-family='"Liberation Sans", sans-serif' font-weight="bold" text-anchor="end">100</text>
<line x1="289.0" y1="1069.9" x2="289.0" y2="1073.5" stroke="#111" stroke-width="1.3"/>
<text x="289.0" y="1082.2" font-size="8.6" fill="#111" font-family='"Liberation Sans", sans-serif' font-weight="bold" text-anchor="middle">0.1</text>
<line x1="305.4" y1="1069.9" x2="305.4" y2="1071.8" stroke="#111" stroke-width="0.9"/>
<line x1="315.0" y1="1069.9" x2="315.0" y2="1071.8" stroke="#111" stroke-width="0.9"/>
<line x1="321.8" y1="1069.9" x2="321.8" y2="1071.8" stroke="#111" stroke-width="0.9"/>
<line x1="327.0" y1="1069.9" x2="327.0" y2="1071.8" stroke="#111" stroke-width="0.9"/>
<line x1="331.3" y1="1069.9" x2="331.3" y2="1071.8" stroke="#111" stroke-width="0.9"/>
<line x1="335.0" y1="1069.9" x2="335.0" y2="1071.8" stroke="#111" stroke-width="0.9"/>
<line x1="338.1" y1="1069.9" x2="338.1" y2="1071.8" stroke="#111" stroke-width="0.9"/>
<line x1="340.9" y1="1069.9" x2="340.9" y2="1071.8" stroke="#111" stroke-width="0.9"/>
<line x1="343.4" y1="1069.9" x2="343.4" y2="1073.5" stroke="#111" stroke-width="1.3"/>
<text x="343.4" y="1082.2" font-size="8.6" fill="#111" font-family='"Liberation Sans", sans-serif' font-weight="bold" text-anchor="middle">1</text>
<line x1="359.8" y1="1069.9" x2="359.8" y2="1071.8" stroke="#111" stroke-width="0.9"/>
<line x1="369.4" y1="1069.9" x2="369.4" y2="1071.8" stroke="#111" stroke-width="0.9"/>
<line x1="376.2" y1="1069.9" x2="376.2" y2="1071.8" stroke="#111" stroke-width="0.9"/>
<line x1="381.4" y1="1069.9" x2="381.4" y2="1071.8" stroke="#111" stroke-width="0.9"/>
<line x1="385.7" y1="1069.9" x2="385.7" y2="1071.8" stroke="#111" stroke-width="0.9"/>
<line x1="389.4" y1="1069.9" x2="389.4" y2="1071.8" stroke="#111" stroke-width="0.9"/>
<line x1="392.5" y1="1069.9" x2="392.5" y2="1071.8" stroke="#111" stroke-width="0.9"/>
<line x1="395.3" y1="1069.9" x2="395.3" y2="1071.8" stroke="#111" stroke-width="0.9"/>
<line x1="397.8" y1="1069.9" x2="397.8" y2="1073.5" stroke="#111" stroke-width="1.3"/>
<text x="397.8" y="1082.2" font-size="8.6" fill="#111" font-family='"Liberation Sans", sans-serif' font-weight="bold" text-anchor="middle">10</text>
<line x1="414.2" y1="1069.9" x2="414.2" y2="1071.8" stroke="#111" stroke-width="0.9"/>
<line x1="423.8" y1="1069.9" x2="423.8" y2="1071.8" stroke="#111" stroke-width="0.9"/>
<line x1="430.6" y1="1069.9" x2="430.6" y2="1071.8" stroke="#111" stroke-width="0.9"/>
<line x1="435.8" y1="1069.9" x2="435.8" y2="1071.8" stroke="#111" stroke-width="0.9"/>
<line x1="440.1" y1="1069.9" x2="440.1" y2="1071.8" stroke="#111" stroke-width="0.9"/>
<line x1="443.8" y1="1069.9" x2="443.8" y2="1071.8" stroke="#111" stroke-width="0.9"/>
<line x1="446.9" y1="1069.9" x2="446.9" y2="1071.8" stroke="#111" stroke-width="0.9"/>
<line x1="449.7" y1="1069.9" x2="449.7" y2="1071.8" stroke="#111" stroke-width="0.9"/>
<line x1="452.2" y1="1069.9" x2="452.2" y2="1073.5" stroke="#111" stroke-width="1.3"/>
<text x="452.2" y="1082.2" font-size="8.6" fill="#111" font-family='"Liberation Sans", sans-serif' font-weight="bold" text-anchor="middle">100</text>
<text x="370.4" y="1095.5" font-size="9.6" fill="#111" font-family='"Liberation Sans", sans-serif' font-weight="bold" text-anchor="middle">μM</text>
<text x="264.5" y="1015.5" font-size="9.6" fill="#222" font-family='"Liberation Sans", sans-serif' text-anchor="middle" textLength="48.0" lengthAdjust="spacingAndGlyphs" transform="rotate(-90 264.5 1015.5)">% Inhibition</text>
<path d="M315.0,1057.7 L316.0,1057.5 L317.1,1057.3 L318.2,1057.0 L319.3,1056.7 L320.4,1056.4 L321.5,1056.1 L322.6,1055.7 L323.7,1055.4 L324.7,1055.0 L325.8,1054.6 L326.9,1054.2 L328.0,1053.7 L329.1,1053.2 L330.2,1052.7 L331.3,1052.1 L332.4,1051.6 L333.5,1051.0 L334.5,1050.3 L335.6,1049.7 L336.7,1049.0 L337.8,1048.2 L338.9,1047.4 L340.0,1046.6 L341.1,1045.8 L342.2,1044.9 L343.2,1043.9 L344.3,1043.0 L345.4,1041.9 L346.5,1040.9 L347.6,1039.8 L348.7,1038.7 L349.8,1037.5 L350.9,1036.3 L351.9,1035.1 L353.0,1033.8 L354.1,1032.5 L355.2,1031.1 L356.3,1029.8 L357.4,1028.4 L358.5,1027.0 L359.6,1025.5 L360.7,1024.1 L361.7,1022.6 L362.8,1021.2 L363.9,1019.7 L365.0,1018.2 L366.1,1016.7 L367.2,1015.2 L368.3,1013.7 L369.4,1012.3 L370.4,1010.8 L371.5,1009.4 L372.6,1008.0 L373.7,1006.6 L374.8,1005.2 L375.9,1003.9 L377.0,1002.6 L378.1,1001.3 L379.1,1000.0 L380.2,998.8 L381.3,997.7 L382.4,996.5 L383.5,995.4 L384.6,994.4 L385.7,993.4 L386.8,992.4 L387.9,991.5 L388.9,990.6 L390.0,989.7 L391.1,988.9 L392.2,988.1 L393.3,987.4 L394.4,986.6 L395.5,986.0 L396.6,985.3 L397.6,984.7 L398.7,984.1 L399.8,983.6 L400.9,983.1 L402.0,982.6 L403.1,982.1 L404.2,981.7 L405.3,981.3 L406.3,980.9 L407.4,980.5 L408.5,980.2 L409.6,979.9 L410.7,979.6 L411.8,979.3 L412.9,979.0 L414.0,978.8 L415.1,978.5 L416.1,978.3 L417.2,978.1 L418.3,977.9 L419.4,977.7 L420.5,977.5 L421.6,977.4 L422.7,977.2 L423.8,977.1" stroke="#eea24a" stroke-width="1.5" fill="none" stroke-linejoin="round"/>
<path d="M315.0,1064.7 L316.0,1064.6 L317.1,1064.6 L318.2,1064.5 L319.3,1064.4 L320.4,1064.3 L321.5,1064.2 L322.6,1064.0 L323.7,1063.9 L324.7,1063.8 L325.8,1063.7 L326.9,1063.5 L328.0,1063.4 L329.1,1063.2 L330.2,1063.1 L331.3,1062.9 L332.4,1062.8 L333.5,1062.6 L334.5,1062.4 L335.6,1062.2 L336.7,1062.0 L337.8,1061.8 L338.9,1061.6 L340.0,1061.4 L341.1,1061.2 L342.2,1060.9 L343.2,1060.7 L344.3,1060.4 L345.4,1060.1 L346.5,1059.9 L347.6,1059.6 L348.7,1059.3 L349.8,1058.9 L350.9,1058.6 L351.9,1058.3 L353.0,1057.9 L354.1,1057.6 L355.2,1057.2 L356.3,1056.8 L357.4,1056.4 L358.5,1056.0 L359.6,1055.5 L360.7,1055.1 L361.7,1054.6 L362.8,1054.1 L363.9,1053.6 L365.0,1053.1 L366.1,1052.6 L367.2,1052.0 L368.3,1051.5 L369.4,1050.9 L370.4,1050.3 L371.5,1049.7 L372.6,1049.1 L373.7,1048.4 L374.8,1047.7 L375.9,1047.1 L377.0,1046.4 L378.1,1045.6 L379.1,1044.9 L380.2,1044.2 L381.3,1043.4 L382.4,1042.6 L383.5,1041.8 L384.6,1041.0 L385.7,1040.2 L386.8,1039.3 L387.9,1038.5 L388.9,1037.6 L390.0,1036.7 L391.1,1035.8 L392.2,1034.9 L393.3,1034.0 L394.4,1033.1 L395.5,1032.2 L396.6,1031.2 L397.6,1030.3 L398.7,1029.3 L399.8,1028.4 L400.9,1027.4 L402.0,1026.4 L403.1,1025.5 L404.2,1024.5 L405.3,1023.5 L406.3,1022.6 L407.4,1021.6 L408.5,1020.7 L409.6,1019.7 L410.7,1018.8 L411.8,1017.8 L412.9,1016.9 L414.0,1015.9 L415.1,1015.0 L416.1,1014.1 L417.2,1013.2 L418.3,1012.3 L419.4,1011.4 L420.5,1010.6 L421.6,1009.7 L422.7,1008.9 L423.8,1008.1" stroke="#1c1ce8" stroke-width="1.5" fill="none" stroke-linejoin="round"/>
<line x1="315.0" y1="1048.1" x2="315.0" y2="1056.8" stroke="#eea24a" stroke-width="1.1"/>
<line x1="312.5" y1="1048.1" x2="317.5" y2="1048.1" stroke="#eea24a" stroke-width="1.1"/>
<line x1="343.4" y1="1030.7" x2="343.4" y2="1042.7" stroke="#eea24a" stroke-width="1.1"/>
<line x1="340.9" y1="1030.7" x2="345.9" y2="1030.7" stroke="#eea24a" stroke-width="1.1"/>
<line x1="369.4" y1="1004.5" x2="369.4" y2="1012.1" stroke="#eea24a" stroke-width="1.1"/>
<line x1="366.9" y1="1004.5" x2="371.9" y2="1004.5" stroke="#eea24a" stroke-width="1.1"/>
<line x1="369.4" y1="1012.1" x2="369.4" y2="1017.6" stroke="#eea24a" stroke-width="1.1"/>
<line x1="366.9" y1="1017.6" x2="371.9" y2="1017.6" stroke="#eea24a" stroke-width="1.1"/>
<path d="M311.7,1059.7 L318.2,1059.7 L315.0,1053.9 Z" stroke="none" stroke-width="1" fill="#eea24a"/>
<path d="M340.1,1045.6 L346.6,1045.6 L343.4,1039.7 Z" stroke="none" stroke-width="1" fill="#eea24a"/>
<path d="M366.1,1015.1 L372.6,1015.1 L369.4,1009.2 Z" stroke="none" stroke-width="1" fill="#eea24a"/>
<path d="M394.6,999.8 L401.1,999.8 L397.8,993.9 Z" stroke="none" stroke-width="1" fill="#eea24a"/>
<path d="M420.5,970.4 L427.0,970.4 L423.8,964.5 Z" stroke="none" stroke-width="1" fill="#eea24a"/>
<line x1="343.4" y1="1062.3" x2="343.4" y2="1053.6" stroke="#1c1ce8" stroke-width="1.1"/>
<line x1="341.1" y1="1053.6" x2="345.7" y2="1053.6" stroke="#1c1ce8" stroke-width="1.1"/>
<line x1="341.1" y1="1062.3" x2="345.7" y2="1062.3" stroke="#1c1ce8" stroke-width="1.1"/>
<line x1="369.4" y1="1047.6" x2="369.4" y2="1043.2" stroke="#1c1ce8" stroke-width="1.1"/>
<line x1="367.1" y1="1043.2" x2="371.7" y2="1043.2" stroke="#1c1ce8" stroke-width="1.1"/>
<line x1="367.1" y1="1047.6" x2="371.7" y2="1047.6" stroke="#1c1ce8" stroke-width="1.1"/>
<line x1="397.8" y1="1038.3" x2="397.8" y2="1025.2" stroke="#1c1ce8" stroke-width="1.1"/>
<line x1="395.5" y1="1025.2" x2="400.1" y2="1025.2" stroke="#1c1ce8" stroke-width="1.1"/>
<line x1="395.5" y1="1038.3" x2="400.1" y2="1038.3" stroke="#1c1ce8" stroke-width="1.1"/>
<circle cx="315.0" cy="1069.4" r="3.1" fill="#1c1ce8"/>
<circle cx="343.4" cy="1057.9" r="3.1" fill="#1c1ce8"/>
<circle cx="369.4" cy="1045.4" r="3.1" fill="#1c1ce8"/>
<circle cx="397.8" cy="1031.8" r="3.1" fill="#1c1ce8"/>
<circle cx="423.8" cy="1005.6" r="3.1" fill="#1c1ce8"/>
<text x="308.7" y="998.8" font-size="11.2" fill="#222" font-family='"Liberation Sans", sans-serif' textLength="63.4" lengthAdjust="spacingAndGlyphs">IC<tspan font-size="8.5" dy="0.5">50</tspan><tspan dy="-0.5"> =2.76μM</tspan></text>
<text x="389.0" y="1050.8" font-size="11.2" fill="#222" font-family='"Liberation Sans", sans-serif' textLength="62.1" lengthAdjust="spacingAndGlyphs">IC<tspan font-size="8.5" dy="0.5">50</tspan><tspan dy="-0.5"> =22.6μM</tspan></text>
<line x1="440.4" y1="979.9" x2="453.4" y2="979.9" stroke="#1c1ce8" stroke-width="1.5"/>
<circle cx="446.9" cy="979.9" r="3.1" fill="#1c1ce8"/>
<text x="456.6" y="983.5" font-size="10" fill="#222" font-family='"Liberation Sans", sans-serif' textLength="17.9" lengthAdjust="spacingAndGlyphs">SH6</text>
<line x1="440.4" y1="993.9" x2="453.4" y2="993.9" stroke="#eea24a" stroke-width="1.5"/>
<path d="M443.6,996.8 L450.1,996.8 L446.9,991.0 Z" stroke="none" stroke-width="1" fill="#eea24a"/>
<text x="456.6" y="997.5" font-size="10" fill="#222" font-family='"Liberation Sans", sans-serif' textLength="50.4" lengthAdjust="spacingAndGlyphs">Amitriptyline</text>
<text x="505.9" y="942.5" font-size="23" fill="#000" font-family='"Liberation Sans", sans-serif' textLength="16.2" lengthAdjust="spacingAndGlyphs">G</text>
<text x="578.0" y="950.2" font-size="9.2" fill="#222" font-family='"Liberation Sans", sans-serif' textLength="114.5" lengthAdjust="spacingAndGlyphs">Plasma concentration of SH6</text>
<line x1="557.1" y1="964.2" x2="557.1" y2="1068.7" stroke="#111" stroke-width="1.3"/>
<line x1="556.5" y1="1068.2" x2="714.2" y2="1068.2" stroke="#111" stroke-width="1.3"/>
<line x1="553.6" y1="1068.2" x2="557.1" y2="1068.2" stroke="#111" stroke-width="1.3"/>
<text x="551.9" y="1070.9" font-size="7.8" fill="#111" font-family='"Liberation Sans", sans-serif' font-weight="bold" text-anchor="end">10</text>
<line x1="555.1" y1="1057.8" x2="557.1" y2="1057.8" stroke="#111" stroke-width="0.8"/>
<line x1="555.1" y1="1051.7" x2="557.1" y2="1051.7" stroke="#111" stroke-width="0.8"/>
<line x1="555.1" y1="1047.3" x2="557.1" y2="1047.3" stroke="#111" stroke-width="0.8"/>
<line x1="555.1" y1="1044.0" x2="557.1" y2="1044.0" stroke="#111" stroke-width="0.8"/>
<line x1="555.1" y1="1041.2" x2="557.1" y2="1041.2" stroke="#111" stroke-width="0.8"/>
<line x1="555.1" y1="1038.9" x2="557.1" y2="1038.9" stroke="#111" stroke-width="0.8"/>
<line x1="555.1" y1="1036.9" x2="557.1" y2="1036.9" stroke="#111" stroke-width="0.8"/>
<line x1="555.1" y1="1035.1" x2="557.1" y2="1035.1" stroke="#111" stroke-width="0.8"/>
<line x1="553.6" y1="1033.5" x2="557.1" y2="1033.5" stroke="#111" stroke-width="1.3"/>
<text x="551.9" y="1036.2" font-size="7.8" fill="#111" font-family='"Liberation Sans", sans-serif' font-weight="bold" text-anchor="end">100</text>
<line x1="555.1" y1="1023.1" x2="557.1" y2="1023.1" stroke="#111" stroke-width="0.8"/>
<line x1="555.1" y1="1017.0" x2="557.1" y2="1017.0" stroke="#111" stroke-width="0.8"/>
<line x1="555.1" y1="1012.7" x2="557.1" y2="1012.7" stroke="#111" stroke-width="0.8"/>
<line x1="555.1" y1="1009.3" x2="557.1" y2="1009.3" stroke="#111" stroke-width="0.8"/>
<line x1="555.1" y1="1006.6" x2="557.1" y2="1006.6" stroke="#111" stroke-width="0.8"/>
<line x1="555.1" y1="1004.3" x2="557.1" y2="1004.3" stroke="#111" stroke-width="0.8"/>
<line x1="555.1" y1="1002.3" x2="557.1" y2="1002.3" stroke="#111" stroke-width="0.8"/>
<line x1="555.1" y1="1000.5" x2="557.1" y2="1000.5" stroke="#111" stroke-width="0.8"/>
<line x1="553.6" y1="998.9" x2="557.1" y2="998.9" stroke="#111" stroke-width="1.3"/>
<text x="551.9" y="1001.6" font-size="7.8" fill="#111" font-family='"Liberation Sans", sans-serif' font-weight="bold" text-anchor="end">1000</text>
<line x1="555.1" y1="988.5" x2="557.1" y2="988.5" stroke="#111" stroke-width="0.8"/>
<line x1="555.1" y1="982.4" x2="557.1" y2="982.4" stroke="#111" stroke-width="0.8"/>
<line x1="555.1" y1="978.0" x2="557.1" y2="978.0" stroke="#111" stroke-width="0.8"/>
<line x1="555.1" y1="974.7" x2="557.1" y2="974.7" stroke="#111" stroke-width="0.8"/>
<line x1="555.1" y1="971.9" x2="557.1" y2="971.9" stroke="#111" stroke-width="0.8"/>
<line x1="555.1" y1="969.6" x2="557.1" y2="969.6" stroke="#111" stroke-width="0.8"/>
<line x1="555.1" y1="967.6" x2="557.1" y2="967.6" stroke="#111" stroke-width="0.8"/>
<line x1="555.1" y1="965.8" x2="557.1" y2="965.8" stroke="#111" stroke-width="0.8"/>
<line x1="553.6" y1="964.2" x2="557.1" y2="964.2" stroke="#111" stroke-width="1.3"/>
<text x="551.9" y="967.0" font-size="7.8" fill="#111" font-family='"Liberation Sans", sans-serif' font-weight="bold" text-anchor="end">10000</text>
<line x1="557.1" y1="1068.2" x2="557.1" y2="1071.7" stroke="#111" stroke-width="1.3"/>
<text x="557.1" y="1080.5" font-size="9" fill="#111" font-family='"Liberation Sans", sans-serif' font-weight="bold" text-anchor="middle">0</text>
<line x1="596.4" y1="1068.2" x2="596.4" y2="1071.7" stroke="#111" stroke-width="1.3"/>
<text x="596.4" y="1080.5" font-size="9" fill="#111" font-family='"Liberation Sans", sans-serif' font-weight="bold" text-anchor="middle">2</text>
<line x1="635.6" y1="1068.2" x2="635.6" y2="1071.7" stroke="#111" stroke-width="1.3"/>
<text x="635.6" y="1080.5" font-size="9" fill="#111" font-family='"Liberation Sans", sans-serif' font-weight="bold" text-anchor="middle">4</text>
<line x1="674.9" y1="1068.2" x2="674.9" y2="1071.7" stroke="#111" stroke-width="1.3"/>
<text x="674.9" y="1080.5" font-size="9" fill="#111" font-family='"Liberation Sans", sans-serif' font-weight="bold" text-anchor="middle">6</text>
<line x1="714.1" y1="1068.2" x2="714.1" y2="1071.7" stroke="#111" stroke-width="1.3"/>
<text x="714.1" y="1080.5" font-size="9" fill="#111" font-family='"Liberation Sans", sans-serif' font-weight="bold" text-anchor="middle">8</text>
<text x="634.0" y="1092.0" font-size="9.6" fill="#111" font-family='"Liberation Sans", sans-serif' font-weight="bold" text-anchor="middle">hr</text>
<text x="526.4" y="1015.7" font-size="8.8" fill="#111" font-family='"Liberation Sans", sans-serif' font-weight="bold" text-anchor="middle" textLength="23.6" lengthAdjust="spacingAndGlyphs" transform="rotate(-90 526.4 1015.7)">ng/ml</text>
<path d="M558.1,979.2 L559.1,979.6 L560.0,980.0 L561.0,980.5 L562.0,980.9 L563.0,981.3 L564.0,981.7 L565.0,982.1 L565.9,982.5 L566.9,982.9 L567.9,983.3 L568.9,983.7 L569.9,984.1 L570.8,984.5 L571.8,984.9 L572.8,985.3 L573.8,985.7 L574.8,986.1 L575.7,986.5 L576.7,986.9 L577.7,987.3 L578.7,987.7 L579.7,988.1 L580.7,988.5 L581.6,988.9 L582.6,989.3 L583.6,989.7 L584.6,990.1 L585.6,990.5 L586.5,990.9 L587.5,991.3 L588.5,991.7 L589.5,992.1 L590.5,992.4 L591.5,992.8 L592.4,993.2 L593.4,993.6 L594.4,994.0 L595.4,994.4 L596.4,994.7 L597.3,995.1 L598.3,995.5 L599.3,995.9 L600.3,996.2 L601.3,996.6 L602.2,997.0 L603.2,997.3 L604.2,997.7 L605.2,998.1 L606.2,998.4 L607.2,998.8 L608.1,999.1 L609.1,999.5 L610.1,999.9 L611.1,1000.2 L612.1,1000.6 L613.0,1000.9 L614.0,1001.3 L615.0,1001.6 L616.0,1001.9 L617.0,1002.3 L618.0,1002.6 L618.9,1003.0 L619.9,1003.3 L620.9,1003.6 L621.9,1004.0 L622.9,1004.3 L623.8,1004.6 L624.8,1004.9 L625.8,1005.3 L626.8,1005.6 L627.8,1005.9 L628.7,1006.2 L629.7,1006.5 L630.7,1006.8 L631.7,1007.1 L632.7,1007.4 L633.7,1007.7 L634.6,1008.0 L635.6,1008.3 L636.6,1008.6 L637.6,1008.9 L638.6,1009.2 L639.5,1009.5 L640.5,1009.8 L641.5,1010.1 L642.5,1010.3 L643.5,1010.6 L644.5,1010.9 L645.4,1011.2 L646.4,1011.4 L647.4,1011.7 L648.4,1011.9 L649.4,1012.2 L650.3,1012.4 L651.3,1012.7 L652.3,1012.9 L653.3,1013.2 L654.3,1013.4 L655.2,1013.7 L656.2,1013.9 L657.2,1014.1 L658.2,1014.4 L659.2,1014.6 L660.2,1014.8 L661.1,1015.0 L662.1,1015.2 L663.1,1015.5 L664.1,1015.7 L665.1,1015.9 L666.0,1016.1 L667.0,1016.3 L668.0,1016.5 L669.0,1016.7 L670.0,1016.9 L671.0,1017.1 L671.9,1017.2 L672.9,1017.4 L673.9,1017.6 L674.9,1017.8 L675.9,1018.0 L676.8,1018.1 L677.8,1018.3 L678.8,1018.5 L679.8,1018.6 L680.8,1018.8 L681.8,1018.9 L682.7,1019.1 L683.7,1019.2 L684.7,1019.4 L685.7,1019.5 L686.7,1019.7 L687.6,1019.8 L688.6,1019.9 L689.6,1020.1 L690.6,1020.2 L691.6,1020.3 L692.5,1020.5 L693.5,1020.6 L694.5,1020.7 L695.5,1020.8 L696.5,1020.9 L697.5,1021.0 L698.4,1021.2 L699.4,1021.3 L700.4,1021.4 L701.4,1021.5 L702.4,1021.6 L703.3,1021.7 L704.3,1021.8 L705.3,1021.9 L706.3,1022.0 L707.3,1022.1 L708.3,1022.1 L709.2,1022.2 L710.2,1022.3 L711.2,1022.4 L712.2,1022.5 L713.2,1022.6 L714.1,1022.6" stroke="#e8a050" stroke-width="1.2" fill="none" stroke-linejoin="round"/>
<path d="M558.1,979.1 L559.1,980.1 L560.0,981.1 L561.0,982.1 L562.0,983.1 L563.0,984.1 L564.0,985.1 L565.0,986.2 L565.9,987.2 L566.9,988.2 L567.9,989.1 L568.9,990.1 L569.9,991.1 L570.8,992.1 L571.8,993.1 L572.8,994.0 L573.8,995.0 L574.8,996.0 L575.7,996.9 L576.7,997.9 L577.7,998.8 L578.7,999.7 L579.7,1000.7 L580.7,1001.6 L581.6,1002.5 L582.6,1003.4 L583.6,1004.3 L584.6,1005.2 L585.6,1006.0 L586.5,1006.9 L587.5,1007.7 L588.5,1008.6 L589.5,1009.4 L590.5,1010.2 L591.5,1011.0 L592.4,1011.8 L593.4,1012.6 L594.4,1013.3 L595.4,1014.0 L596.4,1014.8 L597.3,1015.5 L598.3,1016.2 L599.3,1016.8 L600.3,1017.5 L601.3,1018.1 L602.2,1018.8 L603.2,1019.4 L604.2,1019.9 L605.2,1020.5 L606.2,1021.1 L607.2,1021.6 L608.1,1022.1 L609.1,1022.6 L610.1,1023.1 L611.1,1023.5 L612.1,1024.0 L613.0,1024.4 L614.0,1024.8 L615.0,1025.2 L616.0,1025.5 L617.0,1025.9 L618.0,1026.2 L618.9,1026.5 L619.9,1026.9 L620.9,1027.1 L621.9,1027.4 L622.9,1027.7 L623.8,1027.9 L624.8,1028.2 L625.8,1028.4 L626.8,1028.6 L627.8,1028.8 L628.7,1029.0 L629.7,1029.2 L630.7,1029.3 L631.7,1029.5 L632.7,1029.6 L633.7,1029.8 L634.6,1029.9 L635.6,1030.0 L636.6,1030.1 L637.6,1030.3 L638.6,1030.4 L639.5,1030.5 L640.5,1030.5 L641.5,1030.6 L642.5,1030.7 L643.5,1030.8 L644.5,1030.8 L645.4,1030.9 L646.4,1031.0 L647.4,1031.0 L648.4,1031.1 L649.4,1031.1 L650.3,1031.2 L651.3,1031.2 L652.3,1031.3 L653.3,1031.3 L654.3,1031.3 L655.2,1031.4 L656.2,1031.4 L657.2,1031.4 L658.2,1031.5 L659.2,1031.5 L660.2,1031.5 L661.1,1031.5 L662.1,1031.6 L663.1,1031.6 L664.1,1031.6 L665.1,1031.6 L666.0,1031.6 L667.0,1031.6 L668.0,1031.7 L669.0,1031.7 L670.0,1031.7 L671.0,1031.7 L671.9,1031.7 L672.9,1031.7 L673.9,1031.7 L674.9,1031.7 L675.9,1031.7 L676.8,1031.7 L677.8,1031.7 L678.8,1031.8 L679.8,1031.8 L680.8,1031.8 L681.8,1031.8 L682.7,1031.8 L683.7,1031.8 L684.7,1031.8 L685.7,1031.8 L686.7,1031.8 L687.6,1031.8 L688.6,1031.8 L689.6,1031.8 L690.6,1031.8 L691.6,1031.8 L692.5,1031.8 L693.5,1031.8 L694.5,1031.8 L695.5,1031.8 L696.5,1031.8 L697.5,1031.8 L698.4,1031.8 L699.4,1031.8 L700.4,1031.8 L701.4,1031.8 L702.4,1031.8 L703.3,1031.8 L704.3,1031.8 L705.3,1031.8 L706.3,1031.8 L707.3,1031.8 L708.3,1031.8 L709.2,1031.8 L710.2,1031.8 L711.2,1031.8 L712.2,1031.8 L713.2,1031.8 L714.1,1031.8" stroke="#a0304a" stroke-width="1.2" fill="none" stroke-linejoin="round"/>
<rect x="555.9" y="976.4" width="5.6" height="5.6" fill="#f0922b"/>
<line x1="562.0" y1="983.4" x2="562.0" y2="973.8" stroke="#f0922b" stroke-width="1"/>
<line x1="559.7" y1="973.8" x2="564.3" y2="973.8" stroke="#f0922b" stroke-width="1"/>
<line x1="559.7" y1="983.4" x2="564.3" y2="983.4" stroke="#f0922b" stroke-width="1"/>
<rect x="559.2" y="975.2" width="5.6" height="5.6" fill="#f0922b"/>
<rect x="564.1" y="981.2" width="5.6" height="5.6" fill="#f0922b"/>
<line x1="576.7" y1="992.8" x2="576.7" y2="984.0" stroke="#f0922b" stroke-width="1"/>
<line x1="574.4" y1="984.0" x2="579.0" y2="984.0" stroke="#f0922b" stroke-width="1"/>
<line x1="574.4" y1="992.8" x2="579.0" y2="992.8" stroke="#f0922b" stroke-width="1"/>
<rect x="573.9" y="984.9" width="5.6" height="5.6" fill="#f0922b"/>
<rect x="593.6" y="989.0" width="5.6" height="5.6" fill="#f0922b"/>
<line x1="635.6" y1="1020.4" x2="635.6" y2="1003.6" stroke="#f0922b" stroke-width="1"/>
<line x1="633.3" y1="1003.6" x2="637.9" y2="1003.6" stroke="#f0922b" stroke-width="1"/>
<line x1="633.3" y1="1020.4" x2="637.9" y2="1020.4" stroke="#f0922b" stroke-width="1"/>
<rect x="632.8" y="1007.1" width="5.6" height="5.6" fill="#f0922b"/>
<line x1="674.9" y1="1040.0" x2="674.9" y2="1032.8" stroke="#f0922b" stroke-width="1"/>
<line x1="672.6" y1="1032.8" x2="677.2" y2="1032.8" stroke="#f0922b" stroke-width="1"/>
<line x1="672.6" y1="1040.0" x2="677.2" y2="1040.0" stroke="#f0922b" stroke-width="1"/>
<rect x="672.1" y="1033.2" width="5.6" height="5.6" fill="#f0922b"/>
<line x1="714.1" y1="1030.8" x2="714.1" y2="1013.5" stroke="#f0922b" stroke-width="1"/>
<line x1="711.8" y1="1013.5" x2="716.4" y2="1013.5" stroke="#f0922b" stroke-width="1"/>
<line x1="711.8" y1="1030.8" x2="716.4" y2="1030.8" stroke="#f0922b" stroke-width="1"/>
<rect x="711.3" y="1017.0" width="5.6" height="5.6" fill="#f0922b"/>
<circle cx="558.7" cy="978.0" r="3" fill="#a8201e"/>
<line x1="562.0" y1="984.0" x2="562.0" y2="979.2" stroke="#a8201e" stroke-width="1"/>
<line x1="559.7" y1="979.2" x2="564.3" y2="979.2" stroke="#a8201e" stroke-width="1"/>
<line x1="559.7" y1="984.0" x2="564.3" y2="984.0" stroke="#a8201e" stroke-width="1"/>
<circle cx="562.0" cy="981.4" r="3" fill="#a8201e"/>
<circle cx="566.9" cy="988.5" r="3" fill="#a8201e"/>
<line x1="576.7" y1="999.7" x2="576.7" y2="993.8" stroke="#a8201e" stroke-width="1"/>
<line x1="574.4" y1="993.8" x2="579.0" y2="993.8" stroke="#a8201e" stroke-width="1"/>
<line x1="574.4" y1="999.7" x2="579.0" y2="999.7" stroke="#a8201e" stroke-width="1"/>
<circle cx="576.7" cy="996.8" r="3" fill="#a8201e"/>
<line x1="596.4" y1="1017.0" x2="596.4" y2="1006.1" stroke="#a8201e" stroke-width="1"/>
<line x1="594.1" y1="1006.1" x2="598.7" y2="1006.1" stroke="#a8201e" stroke-width="1"/>
<line x1="594.1" y1="1017.0" x2="598.7" y2="1017.0" stroke="#a8201e" stroke-width="1"/>
<circle cx="596.4" cy="1010.9" r="3" fill="#a8201e"/>
<line x1="635.6" y1="1046.6" x2="635.6" y2="1030.2" stroke="#a8201e" stroke-width="1"/>
<line x1="633.3" y1="1030.2" x2="637.9" y2="1030.2" stroke="#a8201e" stroke-width="1"/>
<line x1="633.3" y1="1046.6" x2="637.9" y2="1046.6" stroke="#a8201e" stroke-width="1"/>
<circle cx="635.6" cy="1036.9" r="3" fill="#a8201e"/>
<line x1="674.9" y1="1032.1" x2="674.9" y2="1025.1" stroke="#a8201e" stroke-width="1"/>
<line x1="672.6" y1="1025.1" x2="677.2" y2="1025.1" stroke="#a8201e" stroke-width="1"/>
<line x1="672.6" y1="1032.1" x2="677.2" y2="1032.1" stroke="#a8201e" stroke-width="1"/>
<circle cx="674.9" cy="1028.5" r="3" fill="#a8201e"/>
<line x1="714.1" y1="1059.4" x2="714.1" y2="1039.8" stroke="#a8201e" stroke-width="1"/>
<line x1="711.8" y1="1039.8" x2="716.4" y2="1039.8" stroke="#a8201e" stroke-width="1"/>
<line x1="711.8" y1="1059.4" x2="716.4" y2="1059.4" stroke="#a8201e" stroke-width="1"/>
<circle cx="714.1" cy="1046.6" r="3" fill="#a8201e"/>
<line x1="679.5" y1="973.2" x2="691.8" y2="973.2" stroke="#a8201e" stroke-width="1.2"/>
<circle cx="685.5" cy="973.2" r="3" fill="#a8201e"/>
<text x="697.0" y="976.6" font-size="9.6" fill="#222" font-family='"Liberation Sans", sans-serif' font-style="italic" textLength="85.6" lengthAdjust="spacingAndGlyphs">Intra Venous<tspan font-style="normal"> (5mg/kg)</tspan></text>
<line x1="679.5" y1="988.2" x2="691.8" y2="988.2" stroke="#f0922b" stroke-width="1.2"/>
<rect x="682.7" y="985.4" width="5.6" height="5.6" fill="#f0922b"/>
<text x="697.0" y="991.6" font-size="9.6" fill="#222" font-family='"Liberation Sans", sans-serif' textLength="59.4" lengthAdjust="spacingAndGlyphs">Oral (15mg/kg)</text></svg>
</body></html>
